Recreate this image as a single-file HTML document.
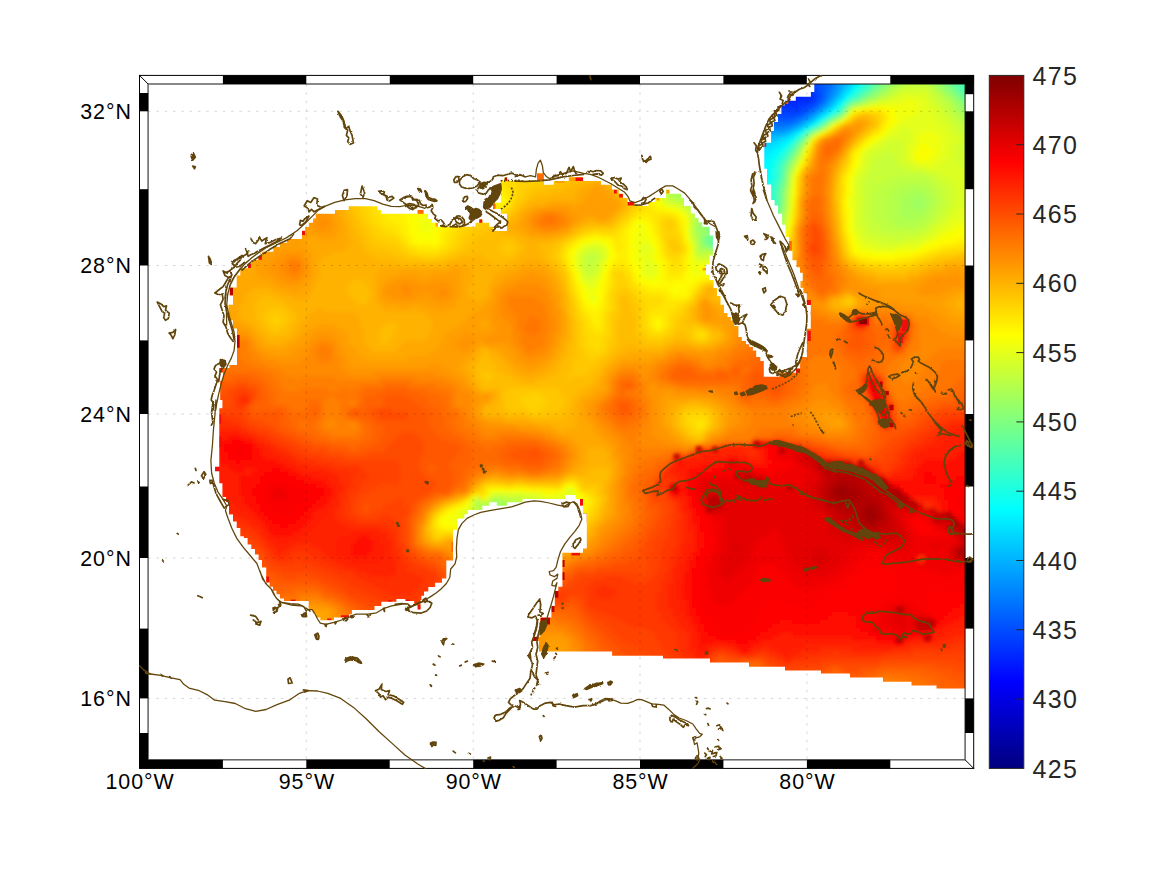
<!DOCTYPE html>
<html><head><meta charset="utf-8"><title>map</title>
<style>
html,body{margin:0;padding:0;background:#fff;}
body{width:1167px;height:875px;overflow:hidden;}
svg{display:block;}
.t{font-family:"Liberation Sans",sans-serif;font-size:21.4px;fill:#000;letter-spacing:.95px;}
.c{font-family:"Liberation Sans",sans-serif;font-size:25px;fill:#262626;letter-spacing:1.3px;}
</style></head><body>
<svg width="1167" height="875" viewBox="0 0 1167 875">
<rect width="1167" height="875" fill="#fff"/>
<defs><clipPath id="mk"><path d="M240.3 268.2 248.0 268.2 248.0 263.8 251.0 263.8 251.0 260.0 258.3 260.0 258.3 256.1 262.1 256.1 262.1 251.8 273.3 251.8 273.3 247.1 280.1 247.1 280.1 242.8 287.0 242.8 287.0 239.0 302.0 239.0 302.0 230.8 305.0 230.8 305.0 227.0 308.8 227.0 308.8 222.7 313.1 222.7 313.1 218.4 315.7 218.4 315.7 213.7 335.0 213.7 335.0 210.0 348.7 210.0 348.7 206.2 377.5 206.2 377.5 210.0 381.2 210.0 381.2 213.7 417.0 213.7 417.0 210.0 424.0 210.0 424.0 213.7 428.1 213.7 428.1 219.0 432.0 219.0 432.0 222.8 438.0 222.8 438.0 226.8 475.4 226.8 475.4 222.7 479.0 222.7 479.0 219.2 482.5 219.2 482.5 222.7 489.1 222.7 489.1 226.8 493.0 226.8 493.0 230.9 507.0 230.9 507.0 213.7 500.8 213.7 500.8 209.0 493.0 209.0 493.0 202.8 500.8 202.8 500.8 180.8 504.5 180.8 504.5 177.2 507.3 177.2 507.3 180.8 537.0 180.8 537.0 173.3 544.0 173.3 544.0 184.8 553.7 184.8 553.7 181.0 568.8 181.0 568.8 177.3 583.2 177.3 583.2 181.0 601.0 181.0 601.0 184.8 612.0 184.8 612.0 189.6 618.8 189.6 618.8 193.8 623.0 193.8 623.0 197.9 627.7 197.9 627.7 202.0 634.6 202.0 634.6 206.1 648.3 206.1 648.3 202.0 655.2 202.0 655.2 197.9 666.1 197.9 666.1 189.6 669.6 189.6 669.6 193.8 681.2 193.8 681.2 197.9 684.0 197.9 684.0 206.1 690.8 206.1 690.8 213.6 694.9 213.6 694.9 218.0 698.5 218.0 698.5 222.3 702.2 222.3 702.2 226.7 709.5 226.7 709.5 235.6 712.9 235.6 712.9 255.5 709.5 255.5 709.5 264.4 706.0 264.4 706.0 274.7 709.5 274.7 709.5 280.0 713.6 280.0 713.6 288.0 717.0 288.0 717.0 296.0 720.5 296.0 720.5 304.8 724.0 304.8 724.0 313.0 727.5 313.0 727.5 317.0 730.8 317.0 730.8 320.6 734.3 320.6 734.3 326.0 738.4 326.0 738.4 337.0 741.8 337.0 741.8 341.1 745.9 341.1 745.9 344.6 749.4 344.6 749.4 347.0 752.8 347.0 752.8 350.4 756.2 350.4 756.2 356.9 760.3 356.9 760.3 361.0 763.8 361.0 763.8 376.8 779.5 376.8 779.5 372.7 796.0 372.7 796.0 368.5 800.1 368.5 800.1 356.9 806.9 356.9 806.9 328.8 810.8 328.8 810.8 304.9 806.8 304.9 806.8 293.2 803.4 293.2 803.4 287.7 800.6 287.7 800.6 280.9 802.7 280.9 802.7 272.7 800.0 272.7 800.0 267.2 796.5 267.2 796.5 260.3 792.4 260.3 792.4 250.7 789.0 250.7 789.0 237.0 785.6 237.0 785.6 224.7 782.1 224.7 782.1 213.7 778.0 213.7 778.0 205.5 774.6 205.5 774.6 200.0 771.2 200.0 771.2 184.5 767.0 184.5 767.0 168.7 764.3 168.7 764.3 142.7 771.1 142.7 771.1 131.0 773.9 131.0 773.9 122.1 778.0 122.1 778.0 113.9 781.4 113.9 781.4 105.6 784.8 105.6 784.8 100.8 795.8 100.8 795.8 96.7 810.9 96.7 810.9 92.0 814.3 92.0 814.3 80.0 968.0 80.0 968.0 688.5 936.5 688.5 936.5 685.5 911.5 685.5 911.5 681.7 883.0 681.7 883.0 677.5 850.0 677.5 850.0 673.5 821.0 673.5 821.0 670.5 785.0 670.5 785.0 666.7 749.0 666.7 749.0 662.5 710.0 662.5 710.0 658.5 663.0 658.5 663.0 655.7 612.1 655.7 612.1 651.6 539.0 651.6 539.0 640.9 533.0 640.9 533.0 636.8 540.4 636.8 540.4 617.6 551.4 617.6 551.4 606.0 554.8 606.0 554.8 591.0 558.3 591.0 558.3 586.7 562.4 586.7 562.4 552.8 583.0 552.8 583.0 548.6 586.8 548.6 586.8 513.4 583.0 513.4 583.0 505.7 580.0 505.7 580.0 498.9 575.7 498.9 575.7 495.1 565.4 495.1 565.4 498.9 522.5 498.9 522.5 502.3 507.1 502.3 507.1 505.7 496.8 505.7 496.8 502.3 489.1 502.3 489.1 505.7 482.3 505.7 482.3 510.0 467.7 510.0 467.7 514.3 464.3 514.3 464.3 518.6 457.4 518.6 457.4 529.7 453.1 529.7 453.1 560.5 446.3 560.5 446.3 578.5 442.0 578.5 442.0 582.8 435.1 582.8 435.1 587.1 428.3 587.1 428.3 591.4 424.0 591.4 424.0 595.7 421.4 595.7 421.4 600.0 420.5 600.0 420.5 609.4 417.7 609.4 417.7 605.2 414.2 605.2 414.2 601.1 405.3 601.1 405.3 599.1 396.4 599.1 396.4 601.8 381.3 601.8 381.3 605.9 374.5 605.9 374.5 610.0 351.9 610.0 351.9 614.2 349.1 614.2 349.1 617.6 334.0 617.6 334.0 620.3 320.3 620.3 320.3 617.6 316.2 617.6 316.2 613.5 312.8 613.5 312.8 609.4 308.7 609.4 308.7 601.1 284.0 601.1 284.0 598.4 279.9 598.4 279.9 594.3 276.5 594.3 276.5 590.8 273.0 590.8 273.0 586.7 269.6 586.7 269.6 582.6 266.2 582.6 266.2 567.5 262.0 567.5 262.0 560.0 258.6 560.0 258.6 554.5 255.0 554.5 255.0 549.0 251.3 549.0 251.3 544.4 247.6 544.4 247.6 538.0 243.9 538.0 243.9 536.2 240.3 536.2 240.3 528.0 236.7 528.0 236.7 521.6 233.0 521.6 233.0 514.3 229.0 514.3 229.0 502.0 226.0 502.0 226.0 497.0 222.4 497.0 222.4 483.2 219.3 483.2 219.3 471.3 215.1 471.3 215.1 466.7 219.3 466.7 219.3 408.2 222.4 408.2 222.4 400.0 220.2 400.0 220.2 380.7 223.0 380.7 223.0 372.4 219.3 372.4 219.3 367.9 229.4 367.9 229.4 365.1 237.0 365.1 237.0 328.6 233.0 328.6 233.0 320.3 228.4 320.3 228.4 304.8 233.0 304.8 233.0 295.6 229.4 295.6 229.4 287.4 236.7 287.4 236.7 275.5 240.3 275.5Z"/></clipPath><filter id="bl" x="-5%" y="-5%" width="110%" height="110%"><feGaussianBlur stdDeviation="2.2"/></filter></defs>
<g clip-path="url(#mk)"><g filter="url(#bl)" shape-rendering="crispEdges">
<path fill="#0024ff" d="M796 84h4v4h-4zM784 88h20v4h-20zM784 92h20v4h-20zM784 96h20v4h-20zM792 100h4v4h-4z"/>
<path fill="#002eff" d="M804 80h4v4h-4zM800 84h8v4h-8zM804 88h8v4h-8zM780 92h4v4h-4zM804 92h8v4h-8zM776 96h8v4h-8zM804 96h12v4h-12zM780 100h12v4h-12zM796 100h16v4h-16zM784 104h16v4h-16z"/>
<path fill="#0038ff" d="M808 76h4v4h-4zM808 80h4v4h-4zM808 84h4v4h-4zM812 88h4v4h-4zM812 92h4v4h-4zM772 100h8v4h-8zM812 100h4v4h-4zM776 104h8v4h-8zM800 104h8v4h-8zM780 108h20v4h-20z"/>
<path fill="#0042ff" d="M812 76h4v4h-4zM812 80h4v4h-4zM812 84h4v4h-4zM816 92h4v4h-4zM816 96h4v4h-4zM768 104h8v4h-8zM808 104h4v4h-4zM772 108h8v4h-8zM800 108h4v4h-4zM780 112h20v4h-20z"/>
<path fill="#004dff" d="M816 76h4v4h-4zM816 80h4v4h-4zM816 84h4v4h-4zM816 88h4v4h-4zM816 100h4v4h-4zM812 104h4v4h-4zM768 108h4v4h-4zM804 108h4v4h-4zM772 112h8v4h-8zM800 112h4v4h-4zM776 116h16v4h-16z"/>
<path fill="#0057ff" d="M820 76h4v4h-4zM820 80h4v4h-4zM820 84h4v4h-4zM820 88h4v4h-4zM820 92h4v4h-4zM820 96h4v4h-4zM808 108h4v4h-4zM764 112h8v4h-8zM772 116h4v4h-4zM792 116h4v4h-4z"/>
<path fill="#0061ff" d="M824 76h4v4h-4zM824 80h4v4h-4zM824 84h4v4h-4zM824 88h4v4h-4zM820 100h4v4h-4zM816 104h4v4h-4zM804 112h4v4h-4zM764 116h8v4h-8zM796 116h4v4h-4zM772 120h20v4h-20z"/>
<path fill="#006bff" d="M828 76h4v4h-4zM828 80h4v4h-4zM828 84h4v4h-4zM824 92h4v4h-4zM824 96h4v4h-4zM812 108h4v4h-4zM800 116h4v4h-4zM764 120h8v4h-8zM792 120h4v4h-4zM776 124h4v4h-4z"/>
<path fill="#0075ff" d="M828 88h4v4h-4zM808 112h4v4h-4zM768 124h8v4h-8zM780 124h8v4h-8z"/>
<path fill="#0080ff" d="M832 76h4v4h-4zM832 80h4v4h-4zM832 84h4v4h-4zM828 92h4v4h-4zM824 100h4v4h-4zM820 104h4v4h-4zM816 108h4v4h-4zM804 116h4v4h-4zM796 120h4v4h-4zM760 124h8v4h-8zM788 124h4v4h-4z"/>
<path fill="#008aff" d="M836 76h4v4h-4zM836 80h4v4h-4zM832 88h4v4h-4zM828 96h4v4h-4zM812 112h4v4h-4zM800 120h4v4h-4zM792 124h4v4h-4zM768 128h16v4h-16z"/>
<path fill="#0094ff" d="M836 84h4v4h-4zM832 92h4v4h-4zM824 104h4v4h-4zM808 116h4v4h-4zM760 128h8v4h-8zM784 128h4v4h-4z"/>
<path fill="#009eff" d="M840 76h4v4h-4zM840 80h4v4h-4zM836 88h4v4h-4zM832 96h4v4h-4zM828 100h4v4h-4zM820 108h4v4h-4zM796 124h4v4h-4zM788 128h4v4h-4z"/>
<path fill="#00a8ff" d="M840 84h4v4h-4zM836 92h4v4h-4zM816 112h4v4h-4zM804 120h4v4h-4zM760 132h24v4h-24z"/>
<path fill="#00b2ff" d="M844 76h4v4h-4zM844 80h4v4h-4zM840 88h4v4h-4zM828 104h4v4h-4zM812 116h4v4h-4zM800 124h4v4h-4zM792 128h4v4h-4zM784 132h4v4h-4zM760 136h4v4h-4z"/>
<path fill="#00bdff" d="M848 76h4v4h-4zM844 84h4v4h-4zM836 96h4v4h-4zM832 100h4v4h-4zM824 108h4v4h-4zM808 120h4v4h-4zM764 136h12v4h-12z"/>
<path fill="#00c7ff" d="M848 80h4v4h-4zM840 92h4v4h-4zM820 112h4v4h-4zM796 128h4v4h-4zM788 132h4v4h-4zM776 136h4v4h-4zM756 140h12v4h-12zM752 144h4v4h-4z"/>
<path fill="#00d1ff" d="M852 76h4v4h-4zM848 84h4v4h-4zM844 88h4v4h-4zM832 104h4v4h-4zM816 116h4v4h-4zM804 124h4v4h-4zM780 136h4v4h-4zM768 140h8v4h-8zM756 144h8v4h-8zM752 148h4v4h-4z"/>
<path fill="#00dbff" d="M852 80h4v4h-4zM840 96h4v4h-4zM836 100h4v4h-4zM828 108h4v4h-4zM812 120h4v4h-4zM792 132h4v4h-4zM784 136h4v4h-4zM776 140h4v4h-4zM764 144h8v4h-8zM756 148h8v4h-8zM752 152h4v4h-4z"/>
<path fill="#00e5ff" d="M856 76h4v4h-4zM848 88h4v4h-4zM844 92h4v4h-4zM824 112h4v4h-4zM800 128h4v4h-4zM788 136h4v4h-4zM780 140h4v4h-4zM772 144h8v4h-8zM764 148h8v4h-8zM756 152h8v4h-8zM752 156h8v4h-8zM752 160h4v4h-4z"/>
<path fill="#00f0ff" d="M852 84h4v4h-4zM820 116h4v4h-4zM808 124h4v4h-4zM784 140h4v4h-4zM772 148h4v4h-4zM764 152h8v4h-8zM760 156h8v4h-8zM756 160h8v4h-8zM752 164h12v4h-12zM756 168h4v4h-4z"/>
<path fill="#00faff" d="M860 76h4v4h-4zM856 80h4v4h-4zM848 92h4v4h-4zM844 96h4v4h-4zM840 100h4v4h-4zM836 104h4v4h-4zM832 108h4v4h-4zM816 120h4v4h-4zM796 132h4v4h-4zM780 144h4v4h-4zM776 148h4v4h-4zM772 152h4v4h-4zM768 156h4v4h-4zM764 160h4v4h-4zM764 164h4v4h-4zM760 168h8v4h-8zM756 172h12v4h-12zM756 176h8v4h-8zM756 180h4v4h-4z"/>
<path fill="#05fffa" d="M856 84h4v4h-4zM852 88h4v4h-4zM828 112h4v4h-4zM792 136h4v4h-4zM788 140h4v4h-4zM784 144h4v4h-4zM780 148h4v4h-4zM776 152h4v4h-4zM772 156h4v4h-4zM768 160h4v4h-4zM768 164h4v4h-4zM768 168h4v4h-4zM768 172h4v4h-4zM764 176h8v4h-8zM760 180h8v4h-8zM760 184h4v4h-4z"/>
<path fill="#0ffff0" d="M864 76h4v4h-4zM860 80h4v4h-4zM812 124h4v4h-4zM804 128h4v4h-4zM776 156h4v4h-4zM772 160h4v4h-4zM772 164h4v4h-4zM768 180h4v4h-4zM764 184h4v4h-4zM760 188h4v4h-4z"/>
<path fill="#1affe5" d="M860 84h4v4h-4zM856 88h4v4h-4zM852 92h4v4h-4zM836 108h4v4h-4zM824 116h4v4h-4zM800 132h4v4h-4zM784 148h4v4h-4zM780 152h4v4h-4zM772 168h4v4h-4zM772 172h4v4h-4zM772 176h4v4h-4zM768 184h4v4h-4zM764 188h4v4h-4zM760 192h8v4h-8zM760 196h4v4h-4z"/>
<path fill="#24ffdb" d="M868 76h4v4h-4zM864 80h4v4h-4zM848 96h4v4h-4zM844 100h4v4h-4zM840 104h4v4h-4zM796 136h4v4h-4zM792 140h4v4h-4zM788 144h4v4h-4zM780 156h4v4h-4zM776 160h4v4h-4zM772 180h4v4h-4zM768 188h4v4h-4zM768 192h4v4h-4zM764 196h8v4h-8zM764 200h4v4h-4z"/>
<path fill="#2effd1" d="M864 84h4v4h-4zM860 88h4v4h-4zM856 92h4v4h-4zM832 112h4v4h-4zM820 120h4v4h-4zM784 152h4v4h-4zM776 164h4v4h-4zM776 168h4v4h-4zM776 172h4v4h-4zM776 176h4v4h-4zM772 184h4v4h-4zM768 200h4v4h-4zM764 204h4v4h-4z"/>
<path fill="#38ffc7" d="M872 76h4v4h-4zM868 80h4v4h-4zM852 96h4v4h-4zM816 124h4v4h-4zM808 128h4v4h-4zM788 148h4v4h-4zM780 160h4v4h-4zM772 188h4v4h-4zM772 192h4v4h-4zM772 196h4v4h-4zM772 200h4v4h-4zM768 204h4v4h-4zM764 208h4v4h-4z"/>
<path fill="#42ffbd" d="M964 76h12v4h-12zM964 80h12v4h-12zM868 84h4v4h-4zM964 84h4v4h-4zM864 88h4v4h-4zM840 108h4v4h-4zM828 116h4v4h-4zM792 144h4v4h-4zM784 156h4v4h-4zM780 164h4v4h-4zM776 180h4v4h-4zM772 204h4v4h-4zM768 208h4v4h-4z"/>
<path fill="#4dffb2" d="M876 76h4v4h-4zM956 76h8v4h-8zM872 80h4v4h-4zM960 80h4v4h-4zM960 84h4v4h-4zM968 84h8v4h-8zM964 88h8v4h-8zM860 92h4v4h-4zM856 96h4v4h-4zM848 100h4v4h-4zM836 112h4v4h-4zM804 132h4v4h-4zM800 136h4v4h-4zM796 140h4v4h-4zM788 152h4v4h-4zM780 168h4v4h-4zM780 172h4v4h-4zM776 184h4v4h-4zM776 188h4v4h-4zM772 208h4v4h-4zM768 212h4v4h-4z"/>
<path fill="#57ffa8" d="M956 80h4v4h-4zM956 84h4v4h-4zM868 88h4v4h-4zM960 88h4v4h-4zM972 88h4v4h-4zM844 104h4v4h-4zM824 120h4v4h-4zM784 160h4v4h-4zM780 176h4v4h-4zM776 192h4v4h-4zM776 196h4v4h-4zM776 200h4v4h-4z"/>
<path fill="#61ff9e" d="M880 76h4v4h-4zM952 76h4v4h-4zM876 80h4v4h-4zM952 80h4v4h-4zM872 84h4v4h-4zM956 88h4v4h-4zM864 92h4v4h-4zM960 92h16v4h-16zM812 128h4v4h-4zM792 148h4v4h-4zM780 180h4v4h-4zM776 204h4v4h-4zM772 212h4v4h-4z"/>
<path fill="#6bff94" d="M884 76h4v4h-4zM948 76h4v4h-4zM880 80h4v4h-4zM876 84h4v4h-4zM952 84h4v4h-4zM860 96h4v4h-4zM964 96h12v4h-12zM852 100h4v4h-4zM840 112h4v4h-4zM832 116h4v4h-4zM820 124h4v4h-4zM796 144h4v4h-4zM788 156h4v4h-4zM784 164h4v4h-4zM780 184h4v4h-4zM776 208h4v4h-4zM772 216h4v4h-4zM716 228h4v4h-4zM716 232h4v4h-4zM708 236h12v4h-12zM708 240h8v4h-8zM708 244h4v4h-4z"/>
<path fill="#75ff8a" d="M888 76h4v4h-4zM944 76h4v4h-4zM948 80h4v4h-4zM948 84h4v4h-4zM872 88h4v4h-4zM952 88h4v4h-4zM868 92h4v4h-4zM956 92h4v4h-4zM960 96h4v4h-4zM968 100h8v4h-8zM800 140h4v4h-4zM792 152h4v4h-4zM784 168h4v4h-4zM780 188h4v4h-4zM780 192h4v4h-4zM780 196h4v4h-4zM776 212h4v4h-4zM772 220h4v4h-4zM712 224h4v4h-4zM712 228h4v4h-4zM712 232h4v4h-4zM704 236h4v4h-4zM720 236h4v4h-4zM704 240h4v4h-4zM716 240h4v4h-4zM712 244h4v4h-4z"/>
<path fill="#80ff80" d="M940 76h4v4h-4zM884 80h4v4h-4zM944 80h4v4h-4zM880 84h4v4h-4zM876 88h4v4h-4zM864 96h4v4h-4zM856 100h4v4h-4zM964 100h4v4h-4zM968 104h8v4h-8zM844 108h4v4h-4zM808 132h4v4h-4zM804 136h4v4h-4zM788 160h4v4h-4zM784 172h4v4h-4zM784 176h4v4h-4zM780 200h4v4h-4zM780 204h4v4h-4zM704 212h4v4h-4zM776 216h4v4h-4zM708 220h4v4h-4zM708 224h4v4h-4zM708 228h4v4h-4zM708 232h4v4h-4zM720 240h4v4h-4zM716 244h4v4h-4z"/>
<path fill="#8aff75" d="M892 76h4v4h-4zM936 76h4v4h-4zM888 80h4v4h-4zM940 80h4v4h-4zM944 84h4v4h-4zM948 88h4v4h-4zM872 92h4v4h-4zM952 92h4v4h-4zM956 96h4v4h-4zM960 100h4v4h-4zM848 104h4v4h-4zM964 104h4v4h-4zM972 108h4v4h-4zM828 120h4v4h-4zM816 128h4v4h-4zM796 148h4v4h-4zM792 156h4v4h-4zM676 180h4v4h-4zM784 180h4v4h-4zM680 184h4v4h-4zM684 188h4v4h-4zM688 192h4v4h-4zM700 208h4v4h-4zM780 208h4v4h-4zM704 216h4v4h-4zM704 220h4v4h-4zM776 220h4v4h-4zM704 224h4v4h-4zM772 224h4v4h-4zM704 244h4v4h-4zM720 244h4v4h-4z"/>
<path fill="#94ff6b" d="M896 76h4v4h-4zM932 76h4v4h-4zM892 80h4v4h-4zM936 80h4v4h-4zM884 84h4v4h-4zM940 84h4v4h-4zM880 88h4v4h-4zM944 88h4v4h-4zM876 92h4v4h-4zM948 92h4v4h-4zM868 96h4v4h-4zM952 96h4v4h-4zM860 100h4v4h-4zM956 100h4v4h-4zM960 104h4v4h-4zM964 108h8v4h-8zM972 112h4v4h-4zM836 116h4v4h-4zM824 124h4v4h-4zM788 164h4v4h-4zM672 180h4v4h-4zM676 184h4v4h-4zM784 184h4v4h-4zM680 188h4v4h-4zM684 192h4v4h-4zM692 196h4v4h-4zM696 204h4v4h-4zM700 212h4v4h-4zM780 212h4v4h-4zM700 216h4v4h-4zM700 220h4v4h-4zM700 224h4v4h-4zM776 224h4v4h-4zM704 228h4v4h-4zM700 236h4v4h-4zM700 240h4v4h-4zM712 248h8v4h-8zM492 504h4v4h-4z"/>
<path fill="#9eff61" d="M900 76h8v4h-8zM928 76h4v4h-4zM896 80h4v4h-4zM932 80h4v4h-4zM888 84h4v4h-4zM884 88h4v4h-4zM940 88h4v4h-4zM944 92h4v4h-4zM872 96h4v4h-4zM956 104h4v4h-4zM960 108h4v4h-4zM964 112h8v4h-8zM972 116h4v4h-4zM800 144h4v4h-4zM796 152h4v4h-4zM788 168h4v4h-4zM668 180h4v4h-4zM672 184h4v4h-4zM676 188h4v4h-4zM784 188h4v4h-4zM680 192h4v4h-4zM688 196h4v4h-4zM916 196h4v4h-4zM692 200h4v4h-4zM912 200h12v4h-12zM912 204h12v4h-12zM696 208h4v4h-4zM780 216h4v4h-4zM780 220h4v4h-4zM696 224h4v4h-4zM696 228h8v4h-8zM772 228h4v4h-4zM700 232h8v4h-8zM700 244h4v4h-4zM720 248h4v4h-4zM476 500h4v4h-4zM492 500h8v4h-8zM488 504h4v4h-4zM496 504h8v4h-8zM488 508h16v4h-16zM488 512h16v4h-16z"/>
<path fill="#a8ff57" d="M908 76h20v4h-20zM900 80h4v4h-4zM928 80h4v4h-4zM892 84h4v4h-4zM936 84h4v4h-4zM880 92h4v4h-4zM948 96h4v4h-4zM864 100h4v4h-4zM952 100h4v4h-4zM852 104h4v4h-4zM956 108h4v4h-4zM960 112h4v4h-4zM964 116h8v4h-8zM968 120h8v4h-8zM804 140h4v4h-4zM792 160h4v4h-4zM668 184h4v4h-4zM672 188h4v4h-4zM912 188h8v4h-8zM672 192h8v4h-8zM784 192h4v4h-4zM904 192h24v4h-24zM684 196h4v4h-4zM784 196h4v4h-4zM900 196h16v4h-16zM920 196h8v4h-8zM688 200h4v4h-4zM784 200h4v4h-4zM900 200h12v4h-12zM924 200h8v4h-8zM692 204h4v4h-4zM784 204h4v4h-4zM900 204h12v4h-12zM924 204h4v4h-4zM900 208h28v4h-28zM696 212h4v4h-4zM900 212h24v4h-24zM696 216h4v4h-4zM904 216h12v4h-12zM696 220h4v4h-4zM780 224h4v4h-4zM776 228h4v4h-4zM696 232h4v4h-4zM696 236h4v4h-4zM700 248h4v4h-4zM708 248h4v4h-4zM500 500h4v4h-4zM504 504h8v4h-8zM484 508h4v4h-4zM504 508h8v4h-8zM484 512h4v4h-4zM504 512h8v4h-8z"/>
<path fill="#b3ff4c" d="M904 80h8v4h-8zM920 80h8v4h-8zM896 84h4v4h-4zM932 84h4v4h-4zM888 88h4v4h-4zM936 88h4v4h-4zM884 92h4v4h-4zM940 92h4v4h-4zM876 96h4v4h-4zM944 96h4v4h-4zM948 100h4v4h-4zM952 104h4v4h-4zM952 108h4v4h-4zM844 112h4v4h-4zM956 112h4v4h-4zM960 116h4v4h-4zM964 120h4v4h-4zM968 124h8v4h-8zM820 128h4v4h-4zM972 128h4v4h-4zM812 132h4v4h-4zM800 148h4v4h-4zM788 172h4v4h-4zM664 184h4v4h-4zM900 184h28v4h-28zM668 188h4v4h-4zM892 188h20v4h-20zM920 188h12v4h-12zM668 192h4v4h-4zM892 192h12v4h-12zM928 192h4v4h-4zM672 196h12v4h-12zM888 196h12v4h-12zM928 196h8v4h-8zM684 200h4v4h-4zM888 200h12v4h-12zM932 200h4v4h-4zM688 204h4v4h-4zM888 204h12v4h-12zM928 204h8v4h-8zM692 208h4v4h-4zM784 208h4v4h-4zM888 208h12v4h-12zM928 208h4v4h-4zM888 212h12v4h-12zM924 212h8v4h-8zM888 216h16v4h-16zM916 216h12v4h-12zM892 220h32v4h-32zM896 224h20v4h-20zM692 228h4v4h-4zM772 232h4v4h-4zM696 240h4v4h-4zM696 244h4v4h-4zM700 252h4v4h-4zM712 252h12v4h-12zM488 500h4v4h-4zM504 500h12v4h-12zM476 504h12v4h-12zM512 504h8v4h-8zM480 508h4v4h-4zM512 508h12v4h-12zM480 512h4v4h-4zM512 512h8v4h-8zM480 516h8v4h-8z"/>
<path fill="#bdff42" d="M912 80h8v4h-8zM900 84h4v4h-4zM928 84h4v4h-4zM892 88h4v4h-4zM932 88h4v4h-4zM888 92h4v4h-4zM936 92h4v4h-4zM880 96h4v4h-4zM940 96h4v4h-4zM868 100h4v4h-4zM944 100h4v4h-4zM856 104h4v4h-4zM948 104h4v4h-4zM948 108h4v4h-4zM952 112h4v4h-4zM840 116h4v4h-4zM956 116h4v4h-4zM832 120h4v4h-4zM960 120h4v4h-4zM964 124h4v4h-4zM964 128h8v4h-8zM968 132h8v4h-8zM808 136h4v4h-4zM972 136h4v4h-4zM972 140h4v4h-4zM796 156h4v4h-4zM792 164h4v4h-4zM788 176h4v4h-4zM892 176h36v4h-36zM788 180h4v4h-4zM884 180h48v4h-48zM660 184h4v4h-4zM876 184h24v4h-24zM928 184h8v4h-8zM664 188h4v4h-4zM876 188h16v4h-16zM932 188h8v4h-8zM872 192h20v4h-20zM932 192h8v4h-8zM668 196h4v4h-4zM872 196h16v4h-16zM936 196h4v4h-4zM680 200h4v4h-4zM872 200h16v4h-16zM936 200h8v4h-8zM872 204h16v4h-16zM936 204h4v4h-4zM872 208h16v4h-16zM932 208h8v4h-8zM692 212h4v4h-4zM784 212h4v4h-4zM872 212h16v4h-16zM932 212h4v4h-4zM692 216h4v4h-4zM872 216h16v4h-16zM928 216h8v4h-8zM692 220h4v4h-4zM876 220h16v4h-16zM924 220h8v4h-8zM692 224h4v4h-4zM880 224h16v4h-16zM916 224h12v4h-12zM884 228h36v4h-36zM692 232h4v4h-4zM776 232h4v4h-4zM696 248h4v4h-4zM704 248h4v4h-4zM588 256h8v4h-8zM588 260h4v4h-4zM492 496h12v4h-12zM516 500h8v4h-8zM520 504h8v4h-8zM476 508h4v4h-4zM524 508h8v4h-8zM476 512h4v4h-4zM520 512h4v4h-4zM476 516h4v4h-4zM480 520h4v4h-4z"/>
<path fill="#c7ff38" d="M904 84h24v4h-24zM896 88h8v4h-8zM928 88h4v4h-4zM892 92h4v4h-4zM932 92h4v4h-4zM884 96h4v4h-4zM936 96h4v4h-4zM872 100h4v4h-4zM936 100h8v4h-8zM940 104h8v4h-8zM848 108h4v4h-4zM944 108h4v4h-4zM948 112h4v4h-4zM952 116h4v4h-4zM952 120h8v4h-8zM956 124h8v4h-8zM960 128h4v4h-4zM964 132h4v4h-4zM964 136h8v4h-8zM964 140h8v4h-8zM964 144h12v4h-12zM964 148h12v4h-12zM884 152h8v4h-8zM968 152h8v4h-8zM876 156h20v4h-20zM972 156h4v4h-4zM876 160h20v4h-20zM872 164h28v4h-28zM872 168h36v4h-36zM868 172h60v4h-60zM868 176h24v4h-24zM928 176h8v4h-8zM864 180h20v4h-20zM932 180h8v4h-8zM788 184h4v4h-4zM864 184h12v4h-12zM936 184h8v4h-8zM660 188h4v4h-4zM864 188h12v4h-12zM940 188h8v4h-8zM664 192h4v4h-4zM864 192h8v4h-8zM940 192h8v4h-8zM864 196h8v4h-8zM940 196h8v4h-8zM672 200h8v4h-8zM864 200h8v4h-8zM944 200h4v4h-4zM684 204h4v4h-4zM864 204h8v4h-8zM940 204h8v4h-8zM688 208h4v4h-4zM864 208h8v4h-8zM940 208h4v4h-4zM864 212h8v4h-8zM936 212h8v4h-8zM784 216h4v4h-4zM864 216h8v4h-8zM936 216h4v4h-4zM784 220h4v4h-4zM868 220h8v4h-8zM932 220h4v4h-4zM868 224h12v4h-12zM928 224h4v4h-4zM780 228h4v4h-4zM868 228h16v4h-16zM920 228h8v4h-8zM876 232h44v4h-44zM692 236h4v4h-4zM892 236h16v4h-16zM588 252h8v4h-8zM696 252h4v4h-4zM704 252h8v4h-8zM584 256h4v4h-4zM596 256h4v4h-4zM712 256h8v4h-8zM584 260h4v4h-4zM592 260h4v4h-4zM584 264h12v4h-12zM584 268h12v4h-12zM588 272h4v4h-4zM504 496h20v4h-20zM472 500h4v4h-4zM480 500h8v4h-8zM524 500h8v4h-8zM528 504h8v4h-8zM472 508h4v4h-4zM532 508h8v4h-8zM472 512h4v4h-4zM472 516h4v4h-4zM476 520h4v4h-4z"/>
<path fill="#d1ff2e" d="M904 88h24v4h-24zM896 92h4v4h-4zM928 92h4v4h-4zM888 96h4v4h-4zM928 96h8v4h-8zM876 100h4v4h-4zM932 100h4v4h-4zM860 104h4v4h-4zM936 104h4v4h-4zM940 108h4v4h-4zM940 112h8v4h-8zM944 116h8v4h-8zM948 120h4v4h-4zM828 124h4v4h-4zM952 124h4v4h-4zM952 128h8v4h-8zM956 132h8v4h-8zM960 136h4v4h-4zM888 140h16v4h-16zM960 140h4v4h-4zM804 144h4v4h-4zM884 144h20v4h-20zM956 144h8v4h-8zM876 148h28v4h-28zM956 148h8v4h-8zM800 152h4v4h-4zM872 152h12v4h-12zM892 152h12v4h-12zM956 152h12v4h-12zM868 156h8v4h-8zM896 156h8v4h-8zM956 156h16v4h-16zM796 160h4v4h-4zM868 160h8v4h-8zM896 160h8v4h-8zM956 160h20v4h-20zM868 164h4v4h-4zM900 164h12v4h-12zM960 164h16v4h-16zM792 168h4v4h-4zM864 168h8v4h-8zM908 168h16v4h-16zM968 168h8v4h-8zM864 172h4v4h-4zM928 172h12v4h-12zM972 172h4v4h-4zM860 176h8v4h-8zM936 176h12v4h-12zM860 180h4v4h-4zM940 180h12v4h-12zM656 184h4v4h-4zM860 184h4v4h-4zM944 184h12v4h-12zM788 188h4v4h-4zM860 188h4v4h-4zM948 188h8v4h-8zM660 192h4v4h-4zM788 192h4v4h-4zM860 192h4v4h-4zM948 192h8v4h-8zM664 196h4v4h-4zM860 196h4v4h-4zM948 196h8v4h-8zM668 200h4v4h-4zM860 200h4v4h-4zM948 200h8v4h-8zM680 204h4v4h-4zM860 204h4v4h-4zM948 204h8v4h-8zM860 208h4v4h-4zM944 208h8v4h-8zM688 212h4v4h-4zM860 212h4v4h-4zM944 212h4v4h-4zM860 216h4v4h-4zM940 216h8v4h-8zM860 220h8v4h-8zM936 220h8v4h-8zM784 224h4v4h-4zM860 224h8v4h-8zM932 224h4v4h-4zM864 228h4v4h-4zM928 228h4v4h-4zM864 232h12v4h-12zM920 232h8v4h-8zM776 236h4v4h-4zM868 236h24v4h-24zM908 236h12v4h-12zM692 240h4v4h-4zM880 240h24v4h-24zM588 248h12v4h-12zM584 252h4v4h-4zM596 252h8v4h-8zM580 256h4v4h-4zM600 256h4v4h-4zM700 256h12v4h-12zM580 260h4v4h-4zM596 260h4v4h-4zM716 260h4v4h-4zM580 264h4v4h-4zM596 264h4v4h-4zM584 272h4v4h-4zM592 272h4v4h-4zM588 276h4v4h-4zM488 496h4v4h-4zM524 496h12v4h-12zM532 500h12v4h-12zM472 504h4v4h-4zM536 504h12v4h-12zM540 508h8v4h-8zM468 512h4v4h-4zM468 516h4v4h-4zM472 520h4v4h-4z"/>
<path fill="#dbff24" d="M900 92h28v4h-28zM892 96h8v4h-8zM924 96h4v4h-4zM880 100h8v4h-8zM928 100h4v4h-4zM864 104h4v4h-4zM928 104h8v4h-8zM932 108h8v4h-8zM932 112h8v4h-8zM936 116h8v4h-8zM836 120h4v4h-4zM936 120h12v4h-12zM940 124h12v4h-12zM900 128h12v4h-12zM944 128h8v4h-8zM816 132h4v4h-4zM896 132h16v4h-16zM948 132h8v4h-8zM888 136h24v4h-24zM948 136h12v4h-12zM880 140h8v4h-8zM904 140h8v4h-8zM952 140h8v4h-8zM876 144h8v4h-8zM904 144h4v4h-4zM948 144h8v4h-8zM868 148h8v4h-8zM904 148h4v4h-4zM948 148h8v4h-8zM864 152h8v4h-8zM904 152h4v4h-4zM948 152h8v4h-8zM864 156h4v4h-4zM904 156h4v4h-4zM944 156h12v4h-12zM864 160h4v4h-4zM904 160h8v4h-8zM944 160h12v4h-12zM864 164h4v4h-4zM912 164h8v4h-8zM936 164h24v4h-24zM860 168h4v4h-4zM924 168h44v4h-44zM860 172h4v4h-4zM940 172h32v4h-32zM856 176h4v4h-4zM948 176h28v4h-28zM856 180h4v4h-4zM952 180h24v4h-24zM856 184h4v4h-4zM956 184h20v4h-20zM656 188h4v4h-4zM856 188h4v4h-4zM956 188h20v4h-20zM856 192h4v4h-4zM956 192h20v4h-20zM660 196h4v4h-4zM788 196h4v4h-4zM856 196h4v4h-4zM956 196h16v4h-16zM664 200h4v4h-4zM788 200h4v4h-4zM856 200h4v4h-4zM956 200h12v4h-12zM676 204h4v4h-4zM788 204h4v4h-4zM856 204h4v4h-4zM956 204h8v4h-8zM684 208h4v4h-4zM856 208h4v4h-4zM952 208h8v4h-8zM856 212h4v4h-4zM948 212h8v4h-8zM688 216h4v4h-4zM856 216h4v4h-4zM948 216h4v4h-4zM688 220h4v4h-4zM856 220h4v4h-4zM944 220h4v4h-4zM688 224h4v4h-4zM856 224h4v4h-4zM936 224h8v4h-8zM688 228h4v4h-4zM856 228h8v4h-8zM932 228h8v4h-8zM688 232h4v4h-4zM780 232h4v4h-4zM860 232h4v4h-4zM928 232h8v4h-8zM860 236h8v4h-8zM920 236h8v4h-8zM864 240h16v4h-16zM904 240h16v4h-16zM592 244h8v4h-8zM692 244h4v4h-4zM876 244h24v4h-24zM584 248h4v4h-4zM600 248h4v4h-4zM692 248h4v4h-4zM580 252h4v4h-4zM692 252h4v4h-4zM696 256h4v4h-4zM600 260h4v4h-4zM712 260h4v4h-4zM580 268h4v4h-4zM596 268h4v4h-4zM580 272h4v4h-4zM596 272h4v4h-4zM584 276h4v4h-4zM592 276h4v4h-4zM588 280h4v4h-4zM568 488h4v4h-4zM492 492h32v4h-32zM568 492h4v4h-4zM476 496h4v4h-4zM536 496h8v4h-8zM564 496h4v4h-4zM544 500h20v4h-20zM548 504h12v4h-12zM468 508h4v4h-4zM548 508h8v4h-8zM464 512h4v4h-4zM464 516h4v4h-4zM468 520h4v4h-4z"/>
<path fill="#e5ff1a" d="M900 96h24v4h-24zM888 100h16v4h-16zM916 100h12v4h-12zM868 104h4v4h-4zM916 104h12v4h-12zM920 108h12v4h-12zM916 112h16v4h-16zM908 116h28v4h-28zM900 120h36v4h-36zM896 124h44v4h-44zM824 128h4v4h-4zM892 128h8v4h-8zM912 128h32v4h-32zM888 132h8v4h-8zM912 132h8v4h-8zM936 132h12v4h-12zM884 136h4v4h-4zM912 136h4v4h-4zM940 136h8v4h-8zM876 140h4v4h-4zM912 140h4v4h-4zM940 140h12v4h-12zM872 144h4v4h-4zM908 144h8v4h-8zM940 144h8v4h-8zM864 148h4v4h-4zM908 148h4v4h-4zM940 148h8v4h-8zM908 152h4v4h-4zM940 152h8v4h-8zM800 156h4v4h-4zM860 156h4v4h-4zM908 156h4v4h-4zM936 156h8v4h-8zM860 160h4v4h-4zM912 160h4v4h-4zM932 160h12v4h-12zM796 164h4v4h-4zM860 164h4v4h-4zM920 164h16v4h-16zM856 168h4v4h-4zM792 172h4v4h-4zM856 172h4v4h-4zM852 176h4v4h-4zM852 180h4v4h-4zM852 184h4v4h-4zM652 188h4v4h-4zM852 188h4v4h-4zM656 192h4v4h-4zM852 192h4v4h-4zM852 196h4v4h-4zM972 196h4v4h-4zM852 200h4v4h-4zM968 200h8v4h-8zM668 204h8v4h-8zM852 204h4v4h-4zM964 204h12v4h-12zM680 208h4v4h-4zM788 208h4v4h-4zM852 208h4v4h-4zM960 208h16v4h-16zM684 212h4v4h-4zM788 212h4v4h-4zM852 212h4v4h-4zM956 212h12v4h-12zM852 216h4v4h-4zM952 216h12v4h-12zM852 220h4v4h-4zM948 220h12v4h-12zM852 224h4v4h-4zM944 224h8v4h-8zM784 228h4v4h-4zM852 228h4v4h-4zM940 228h8v4h-8zM856 232h4v4h-4zM936 232h4v4h-4zM688 236h4v4h-4zM780 236h4v4h-4zM856 236h4v4h-4zM928 236h8v4h-8zM776 240h4v4h-4zM860 240h4v4h-4zM920 240h8v4h-8zM584 244h8v4h-8zM600 244h4v4h-4zM640 244h12v4h-12zM864 244h12v4h-12zM900 244h20v4h-20zM580 248h4v4h-4zM604 248h4v4h-4zM640 248h12v4h-12zM872 248h24v4h-24zM576 252h4v4h-4zM604 252h4v4h-4zM640 252h8v4h-8zM576 256h4v4h-4zM604 256h4v4h-4zM644 256h4v4h-4zM692 256h4v4h-4zM576 260h4v4h-4zM644 260h8v4h-8zM696 260h16v4h-16zM576 264h4v4h-4zM600 264h4v4h-4zM644 264h12v4h-12zM712 264h8v4h-8zM600 268h4v4h-4zM644 268h12v4h-12zM644 272h12v4h-12zM704 272h4v4h-4zM580 276h4v4h-4zM596 276h4v4h-4zM584 280h4v4h-4zM592 280h4v4h-4zM588 284h8v4h-8zM592 296h4v4h-4zM524 492h16v4h-16zM564 492h4v4h-4zM572 492h4v4h-4zM472 496h4v4h-4zM544 496h20v4h-20zM568 496h8v4h-8zM564 500h8v4h-8zM468 504h4v4h-4zM560 504h12v4h-12zM464 508h4v4h-4zM556 508h8v4h-8zM460 512h4v4h-4zM460 516h4v4h-4zM460 520h8v4h-8zM464 524h4v4h-4z"/>
<path fill="#f0ff0f" d="M904 100h12v4h-12zM872 104h44v4h-44zM852 108h4v4h-4zM896 108h24v4h-24zM848 112h4v4h-4zM896 112h20v4h-20zM844 116h4v4h-4zM896 116h12v4h-12zM896 120h4v4h-4zM892 124h4v4h-4zM888 128h4v4h-4zM884 132h4v4h-4zM920 132h16v4h-16zM880 136h4v4h-4zM916 136h24v4h-24zM808 140h4v4h-4zM872 140h4v4h-4zM916 140h24v4h-24zM868 144h4v4h-4zM916 144h4v4h-4zM928 144h12v4h-12zM804 148h4v4h-4zM912 148h8v4h-8zM932 148h8v4h-8zM860 152h4v4h-4zM912 152h4v4h-4zM932 152h8v4h-8zM912 156h4v4h-4zM928 156h8v4h-8zM916 160h16v4h-16zM856 164h4v4h-4zM852 172h4v4h-4zM792 176h4v4h-4zM652 192h4v4h-4zM656 196h4v4h-4zM848 196h4v4h-4zM660 200h4v4h-4zM848 200h4v4h-4zM664 204h4v4h-4zM848 204h4v4h-4zM676 208h4v4h-4zM968 212h8v4h-8zM424 216h4v4h-4zM788 216h4v4h-4zM964 216h12v4h-12zM420 220h12v4h-12zM960 220h12v4h-12zM420 224h12v4h-12zM636 224h8v4h-8zM952 224h12v4h-12zM420 228h12v4h-12zM640 228h4v4h-4zM948 228h8v4h-8zM636 232h8v4h-8zM852 232h4v4h-4zM940 232h8v4h-8zM636 236h12v4h-12zM936 236h4v4h-4zM592 240h8v4h-8zM636 240h16v4h-16zM688 240h4v4h-4zM856 240h4v4h-4zM928 240h4v4h-4zM580 244h4v4h-4zM604 244h4v4h-4zM632 244h8v4h-8zM776 244h4v4h-4zM856 244h8v4h-8zM920 244h4v4h-4zM576 248h4v4h-4zM636 248h4v4h-4zM652 248h4v4h-4zM860 248h12v4h-12zM896 248h20v4h-20zM636 252h4v4h-4zM648 252h8v4h-8zM572 256h4v4h-4zM636 256h8v4h-8zM648 256h8v4h-8zM604 260h4v4h-4zM636 260h8v4h-8zM652 260h4v4h-4zM692 260h4v4h-4zM640 264h4v4h-4zM656 264h4v4h-4zM692 264h8v4h-8zM708 264h4v4h-4zM576 268h4v4h-4zM640 268h4v4h-4zM656 268h4v4h-4zM692 268h8v4h-8zM708 268h12v4h-12zM600 272h4v4h-4zM640 272h4v4h-4zM656 272h4v4h-4zM692 272h8v4h-8zM708 272h4v4h-4zM644 276h12v4h-12zM580 280h4v4h-4zM596 280h4v4h-4zM584 284h4v4h-4zM596 284h4v4h-4zM584 288h12v4h-12zM588 292h8v4h-8zM588 296h4v4h-4zM592 300h4v4h-4zM564 488h4v4h-4zM572 488h4v4h-4zM488 492h4v4h-4zM540 492h4v4h-4zM556 492h8v4h-8zM468 500h4v4h-4zM572 500h4v4h-4zM572 504h4v4h-4zM456 508h8v4h-8zM456 512h4v4h-4zM452 516h8v4h-8zM452 520h8v4h-8zM460 524h4v4h-4z"/>
<path fill="#faff05" d="M856 108h4v4h-4zM888 108h8v4h-8zM892 112h4v4h-4zM892 116h4v4h-4zM892 120h4v4h-4zM888 124h4v4h-4zM884 128h4v4h-4zM880 132h4v4h-4zM812 136h4v4h-4zM876 136h4v4h-4zM868 140h4v4h-4zM864 144h4v4h-4zM920 144h8v4h-8zM860 148h4v4h-4zM920 148h12v4h-12zM916 152h16v4h-16zM856 156h4v4h-4zM916 156h12v4h-12zM800 160h4v4h-4zM856 160h4v4h-4zM796 168h4v4h-4zM852 168h4v4h-4zM848 176h4v4h-4zM792 180h4v4h-4zM848 180h4v4h-4zM792 184h4v4h-4zM848 184h4v4h-4zM792 188h4v4h-4zM848 188h4v4h-4zM648 192h4v4h-4zM848 192h4v4h-4zM652 196h4v4h-4zM412 200h16v4h-16zM656 200h4v4h-4zM412 204h20v4h-20zM660 204h4v4h-4zM412 208h24v4h-24zM672 208h4v4h-4zM848 208h4v4h-4zM412 212h28v4h-28zM680 212h4v4h-4zM848 212h4v4h-4zM412 216h12v4h-12zM428 216h12v4h-12zM684 216h4v4h-4zM848 216h4v4h-4zM412 220h8v4h-8zM432 220h8v4h-8zM636 220h8v4h-8zM788 220h4v4h-4zM848 220h4v4h-4zM972 220h4v4h-4zM412 224h8v4h-8zM432 224h8v4h-8zM644 224h4v4h-4zM684 224h4v4h-4zM848 224h4v4h-4zM964 224h12v4h-12zM416 228h4v4h-4zM432 228h4v4h-4zM632 228h8v4h-8zM644 228h4v4h-4zM684 228h4v4h-4zM848 228h4v4h-4zM956 228h16v4h-16zM416 232h20v4h-20zM632 232h4v4h-4zM644 232h8v4h-8zM684 232h4v4h-4zM784 232h4v4h-4zM948 232h16v4h-16zM416 236h20v4h-20zM632 236h4v4h-4zM648 236h4v4h-4zM852 236h4v4h-4zM940 236h12v4h-12zM584 240h8v4h-8zM600 240h8v4h-8zM632 240h4v4h-4zM652 240h4v4h-4zM780 240h4v4h-4zM852 240h4v4h-4zM932 240h8v4h-8zM576 244h4v4h-4zM608 244h4v4h-4zM652 244h4v4h-4zM924 244h8v4h-8zM572 248h4v4h-4zM608 248h4v4h-4zM632 248h4v4h-4zM776 248h4v4h-4zM856 248h4v4h-4zM916 248h4v4h-4zM572 252h4v4h-4zM608 252h4v4h-4zM632 252h4v4h-4zM688 252h4v4h-4zM864 252h44v4h-44zM608 256h4v4h-4zM632 256h4v4h-4zM656 256h4v4h-4zM688 256h4v4h-4zM572 260h4v4h-4zM608 260h4v4h-4zM632 260h4v4h-4zM656 260h4v4h-4zM688 260h4v4h-4zM572 264h4v4h-4zM604 264h4v4h-4zM636 264h4v4h-4zM688 264h4v4h-4zM700 264h8v4h-8zM604 268h4v4h-4zM636 268h4v4h-4zM688 268h4v4h-4zM576 272h4v4h-4zM636 272h4v4h-4zM660 272h4v4h-4zM688 272h4v4h-4zM700 272h4v4h-4zM712 272h4v4h-4zM576 276h4v4h-4zM600 276h4v4h-4zM640 276h4v4h-4zM656 276h4v4h-4zM688 276h12v4h-12zM600 280h4v4h-4zM644 280h16v4h-16zM580 284h4v4h-4zM596 288h4v4h-4zM672 288h8v4h-8zM584 292h4v4h-4zM596 292h4v4h-4zM584 296h4v4h-4zM596 296h4v4h-4zM588 300h4v4h-4zM596 300h4v4h-4zM568 484h4v4h-4zM492 488h12v4h-12zM516 488h4v4h-4zM544 492h12v4h-12zM576 492h4v4h-4zM484 496h4v4h-4zM576 496h4v4h-4zM576 500h4v4h-4zM464 504h4v4h-4zM576 504h4v4h-4zM572 508h4v4h-4zM448 512h8v4h-8zM444 516h8v4h-8zM440 520h12v4h-12zM452 524h8v4h-8z"/>
<path fill="#fffa00" d="M860 108h4v4h-4zM884 108h4v4h-4zM888 112h4v4h-4zM888 116h4v4h-4zM840 120h4v4h-4zM888 120h4v4h-4zM832 124h4v4h-4zM820 132h4v4h-4zM872 136h4v4h-4zM804 152h4v4h-4zM856 152h4v4h-4zM852 160h4v4h-4zM852 164h4v4h-4zM848 172h4v4h-4zM792 192h4v4h-4zM496 196h8v4h-8zM648 196h4v4h-4zM792 196h4v4h-4zM844 196h4v4h-4zM396 200h16v4h-16zM500 200h4v4h-4zM652 200h4v4h-4zM844 200h4v4h-4zM396 204h16v4h-16zM656 204h4v4h-4zM844 204h4v4h-4zM400 208h12v4h-12zM664 208h8v4h-8zM844 208h4v4h-4zM404 212h8v4h-8zM676 212h4v4h-4zM404 216h8v4h-8zM440 216h8v4h-8zM680 216h4v4h-4zM408 220h4v4h-4zM440 220h4v4h-4zM632 220h4v4h-4zM644 220h4v4h-4zM684 220h4v4h-4zM408 224h4v4h-4zM440 224h4v4h-4zM632 224h4v4h-4zM648 224h4v4h-4zM788 224h4v4h-4zM408 228h8v4h-8zM436 228h8v4h-8zM628 228h4v4h-4zM648 228h4v4h-4zM972 228h4v4h-4zM408 232h8v4h-8zM436 232h4v4h-4zM628 232h4v4h-4zM848 232h4v4h-4zM964 232h12v4h-12zM412 236h4v4h-4zM436 236h4v4h-4zM592 236h8v4h-8zM628 236h4v4h-4zM652 236h4v4h-4zM684 236h4v4h-4zM784 236h4v4h-4zM848 236h4v4h-4zM952 236h16v4h-16zM412 240h28v4h-28zM580 240h4v4h-4zM608 240h4v4h-4zM628 240h4v4h-4zM940 240h16v4h-16zM432 244h4v4h-4zM628 244h4v4h-4zM656 244h4v4h-4zM688 244h4v4h-4zM780 244h4v4h-4zM852 244h4v4h-4zM932 244h8v4h-8zM612 248h4v4h-4zM628 248h4v4h-4zM656 248h4v4h-4zM688 248h4v4h-4zM852 248h4v4h-4zM920 248h8v4h-8zM568 252h4v4h-4zM612 252h4v4h-4zM628 252h4v4h-4zM656 252h4v4h-4zM856 252h8v4h-8zM908 252h8v4h-8zM568 256h4v4h-4zM612 256h4v4h-4zM628 256h4v4h-4zM872 256h24v4h-24zM628 260h4v4h-4zM660 260h4v4h-4zM608 264h4v4h-4zM632 264h4v4h-4zM660 264h4v4h-4zM572 268h4v4h-4zM632 268h4v4h-4zM660 268h4v4h-4zM700 268h8v4h-8zM604 272h4v4h-4zM684 272h4v4h-4zM716 272h4v4h-4zM604 276h4v4h-4zM636 276h4v4h-4zM660 276h4v4h-4zM684 276h4v4h-4zM700 276h12v4h-12zM576 280h4v4h-4zM640 280h4v4h-4zM660 280h8v4h-8zM672 280h24v4h-24zM600 284h4v4h-4zM648 284h44v4h-44zM580 288h4v4h-4zM600 288h4v4h-4zM668 288h4v4h-4zM680 288h8v4h-8zM580 292h4v4h-4zM600 292h4v4h-4zM672 292h16v4h-16zM600 296h4v4h-4zM584 300h4v4h-4zM588 304h12v4h-12zM592 308h4v4h-4zM656 320h4v4h-4zM656 324h4v4h-4zM564 484h4v4h-4zM572 484h4v4h-4zM488 488h4v4h-4zM504 488h12v4h-12zM520 488h12v4h-12zM536 488h4v4h-4zM560 488h4v4h-4zM580 496h4v4h-4zM580 500h4v4h-4zM460 504h4v4h-4zM580 504h4v4h-4zM452 508h4v4h-4zM576 508h4v4h-4zM444 512h4v4h-4zM576 512h4v4h-4zM440 516h4v4h-4zM440 524h12v4h-12zM456 528h8v4h-8z"/>
<path fill="#fff000" d="M864 108h20v4h-20zM884 112h4v4h-4zM884 120h4v4h-4zM884 124h4v4h-4zM828 128h4v4h-4zM880 128h4v4h-4zM876 132h4v4h-4zM868 136h4v4h-4zM864 140h4v4h-4zM808 144h4v4h-4zM860 144h4v4h-4zM856 148h4v4h-4zM852 152h4v4h-4zM852 156h4v4h-4zM504 164h4v4h-4zM800 164h4v4h-4zM500 168h8v4h-8zM848 168h4v4h-4zM496 172h4v4h-4zM796 172h4v4h-4zM492 176h8v4h-8zM844 176h4v4h-4zM488 180h12v4h-12zM844 180h4v4h-4zM488 184h12v4h-12zM844 184h4v4h-4zM488 188h16v4h-16zM844 188h4v4h-4zM488 192h16v4h-16zM844 192h4v4h-4zM488 196h8v4h-8zM504 196h4v4h-4zM644 196h4v4h-4zM384 200h12v4h-12zM484 200h16v4h-16zM504 200h4v4h-4zM648 200h4v4h-4zM792 200h4v4h-4zM384 204h12v4h-12zM496 204h8v4h-8zM648 204h8v4h-8zM792 204h4v4h-4zM384 208h16v4h-16zM652 208h12v4h-12zM384 212h20v4h-20zM644 212h4v4h-4zM672 212h4v4h-4zM844 212h4v4h-4zM388 216h16v4h-16zM448 216h8v4h-8zM636 216h16v4h-16zM844 216h4v4h-4zM392 220h16v4h-16zM444 220h8v4h-8zM648 220h4v4h-4zM680 220h4v4h-4zM844 220h4v4h-4zM400 224h8v4h-8zM444 224h8v4h-8zM628 224h4v4h-4zM652 224h4v4h-4zM680 224h4v4h-4zM844 224h4v4h-4zM400 228h8v4h-8zM444 228h4v4h-4zM624 228h4v4h-4zM652 228h4v4h-4zM788 228h4v4h-4zM844 228h4v4h-4zM404 232h4v4h-4zM440 232h4v4h-4zM624 232h4v4h-4zM652 232h4v4h-4zM408 236h4v4h-4zM440 236h4v4h-4zM584 236h8v4h-8zM600 236h12v4h-12zM620 236h8v4h-8zM656 236h4v4h-4zM968 236h8v4h-8zM408 240h4v4h-4zM440 240h4v4h-4zM576 240h4v4h-4zM612 240h4v4h-4zM620 240h8v4h-8zM656 240h4v4h-4zM684 240h4v4h-4zM784 240h4v4h-4zM848 240h4v4h-4zM956 240h12v4h-12zM416 244h16v4h-16zM436 244h4v4h-4zM572 244h4v4h-4zM612 244h4v4h-4zM624 244h4v4h-4zM848 244h4v4h-4zM940 244h12v4h-12zM568 248h4v4h-4zM620 248h8v4h-8zM780 248h4v4h-4zM928 248h8v4h-8zM616 252h12v4h-12zM660 252h4v4h-4zM852 252h4v4h-4zM916 252h8v4h-8zM616 256h12v4h-12zM660 256h4v4h-4zM684 256h4v4h-4zM860 256h12v4h-12zM896 256h16v4h-16zM568 260h4v4h-4zM612 260h8v4h-8zM624 260h4v4h-4zM664 260h4v4h-4zM684 260h4v4h-4zM568 264h4v4h-4zM628 264h4v4h-4zM664 264h4v4h-4zM684 264h4v4h-4zM608 268h4v4h-4zM664 268h4v4h-4zM684 268h4v4h-4zM572 272h4v4h-4zM632 272h4v4h-4zM664 272h4v4h-4zM680 272h4v4h-4zM572 276h4v4h-4zM632 276h4v4h-4zM664 276h20v4h-20zM712 276h8v4h-8zM604 280h4v4h-4zM636 280h4v4h-4zM668 280h4v4h-4zM696 280h4v4h-4zM576 284h4v4h-4zM604 284h4v4h-4zM640 284h8v4h-8zM692 284h4v4h-4zM576 288h4v4h-4zM604 288h4v4h-4zM648 288h20v4h-20zM688 288h4v4h-4zM664 292h8v4h-8zM688 292h4v4h-4zM580 296h4v4h-4zM668 296h20v4h-20zM580 300h4v4h-4zM600 300h4v4h-4zM584 304h4v4h-4zM600 304h4v4h-4zM584 308h8v4h-8zM596 308h8v4h-8zM588 312h12v4h-12zM592 316h8v4h-8zM652 316h12v4h-12zM592 320h8v4h-8zM652 320h4v4h-4zM660 320h4v4h-4zM596 324h4v4h-4zM652 324h4v4h-4zM660 324h4v4h-4zM656 328h4v4h-4zM532 488h4v4h-4zM540 488h20v4h-20zM576 488h4v4h-4zM484 492h4v4h-4zM580 492h4v4h-4zM584 496h4v4h-4zM464 500h4v4h-4zM584 500h8v4h-8zM456 504h4v4h-4zM584 504h4v4h-4zM448 508h4v4h-4zM580 508h8v4h-8zM580 512h4v4h-4zM576 516h4v4h-4zM436 520h4v4h-4zM436 524h4v4h-4zM444 528h12v4h-12zM460 532h4v4h-4z"/>
<path fill="#ffe500" d="M852 112h4v4h-4zM848 116h4v4h-4zM884 116h4v4h-4zM880 124h4v4h-4zM872 132h4v4h-4zM804 156h4v4h-4zM536 160h8v4h-8zM532 164h8v4h-8zM848 164h4v4h-4zM508 168h16v4h-16zM500 172h16v4h-16zM844 172h4v4h-4zM500 176h8v4h-8zM500 180h4v4h-4zM500 184h4v4h-4zM504 188h4v4h-4zM504 192h8v4h-8zM372 196h4v4h-4zM508 196h4v4h-4zM640 196h4v4h-4zM372 200h12v4h-12zM508 200h4v4h-4zM644 200h4v4h-4zM840 200h4v4h-4zM372 204h12v4h-12zM480 204h16v4h-16zM504 204h4v4h-4zM644 204h4v4h-4zM376 208h8v4h-8zM480 208h20v4h-20zM644 208h8v4h-8zM792 208h4v4h-4zM376 212h8v4h-8zM636 212h8v4h-8zM648 212h24v4h-24zM792 212h4v4h-4zM380 216h8v4h-8zM456 216h8v4h-8zM632 216h4v4h-4zM652 216h8v4h-8zM676 216h4v4h-4zM380 220h12v4h-12zM452 220h8v4h-8zM628 220h4v4h-4zM652 220h8v4h-8zM676 220h4v4h-4zM384 224h16v4h-16zM452 224h4v4h-4zM624 224h4v4h-4zM656 224h4v4h-4zM392 228h8v4h-8zM448 228h8v4h-8zM620 228h4v4h-4zM656 228h4v4h-4zM680 228h4v4h-4zM396 232h8v4h-8zM444 232h8v4h-8zM592 232h8v4h-8zM616 232h8v4h-8zM656 232h4v4h-4zM680 232h4v4h-4zM788 232h4v4h-4zM844 232h4v4h-4zM400 236h8v4h-8zM444 236h8v4h-8zM580 236h4v4h-4zM612 236h8v4h-8zM404 240h4v4h-4zM444 240h4v4h-4zM572 240h4v4h-4zM616 240h4v4h-4zM660 240h4v4h-4zM968 240h8v4h-8zM408 244h8v4h-8zM440 244h8v4h-8zM568 244h4v4h-4zM616 244h8v4h-8zM660 244h4v4h-4zM684 244h4v4h-4zM784 244h4v4h-4zM952 244h20v4h-20zM416 248h24v4h-24zM564 248h4v4h-4zM616 248h4v4h-4zM660 248h4v4h-4zM684 248h4v4h-4zM784 248h4v4h-4zM848 248h4v4h-4zM936 248h8v4h-8zM564 252h4v4h-4zM684 252h4v4h-4zM780 252h4v4h-4zM924 252h8v4h-8zM564 256h4v4h-4zM664 256h4v4h-4zM680 256h4v4h-4zM856 256h4v4h-4zM912 256h8v4h-8zM564 260h4v4h-4zM620 260h4v4h-4zM668 260h4v4h-4zM680 260h4v4h-4zM868 260h36v4h-36zM612 264h16v4h-16zM668 264h4v4h-4zM676 264h8v4h-8zM568 268h4v4h-4zM624 268h8v4h-8zM668 268h16v4h-16zM608 272h4v4h-4zM628 272h4v4h-4zM668 272h12v4h-12zM608 276h4v4h-4zM572 280h4v4h-4zM608 280h4v4h-4zM632 280h4v4h-4zM700 280h4v4h-4zM572 284h4v4h-4zM608 284h4v4h-4zM636 284h4v4h-4zM696 284h4v4h-4zM640 288h8v4h-8zM692 288h4v4h-4zM576 292h4v4h-4zM604 292h4v4h-4zM644 292h20v4h-20zM576 296h4v4h-4zM604 296h4v4h-4zM664 296h4v4h-4zM688 296h4v4h-4zM604 300h4v4h-4zM664 300h20v4h-20zM580 304h4v4h-4zM604 304h4v4h-4zM660 304h16v4h-16zM580 308h4v4h-4zM604 308h4v4h-4zM652 308h20v4h-20zM584 312h4v4h-4zM600 312h4v4h-4zM648 312h20v4h-20zM584 316h8v4h-8zM600 316h4v4h-4zM648 316h4v4h-4zM664 316h4v4h-4zM588 320h4v4h-4zM600 320h4v4h-4zM648 320h4v4h-4zM664 320h4v4h-4zM588 324h8v4h-8zM600 324h4v4h-4zM648 324h4v4h-4zM664 324h4v4h-4zM592 328h12v4h-12zM652 328h4v4h-4zM660 328h4v4h-4zM596 332h4v4h-4zM700 332h4v4h-4zM696 420h8v4h-8zM696 424h8v4h-8zM484 488h4v4h-4zM476 492h4v4h-4zM584 492h4v4h-4zM468 496h4v4h-4zM480 496h4v4h-4zM588 496h4v4h-4zM452 504h4v4h-4zM588 504h4v4h-4zM444 508h4v4h-4zM440 512h4v4h-4zM584 512h4v4h-4zM436 516h4v4h-4zM580 516h4v4h-4zM576 520h4v4h-4zM436 528h8v4h-8zM456 532h4v4h-4z"/>
<path fill="#ffdb00" d="M880 112h4v4h-4zM880 116h4v4h-4zM880 120h4v4h-4zM836 124h4v4h-4zM876 128h4v4h-4zM816 136h4v4h-4zM864 136h4v4h-4zM860 140h4v4h-4zM856 144h4v4h-4zM808 148h4v4h-4zM852 148h4v4h-4zM848 156h4v4h-4zM804 160h4v4h-4zM848 160h4v4h-4zM540 164h8v4h-8zM568 164h16v4h-16zM524 168h28v4h-28zM844 168h4v4h-4zM516 172h24v4h-24zM508 176h20v4h-20zM616 176h4v4h-4zM796 176h4v4h-4zM840 176h4v4h-4zM504 180h16v4h-16zM796 180h4v4h-4zM840 180h4v4h-4zM504 184h12v4h-12zM840 184h4v4h-4zM508 188h8v4h-8zM840 188h4v4h-4zM512 192h4v4h-4zM632 192h4v4h-4zM840 192h4v4h-4zM364 196h8v4h-8zM512 196h4v4h-4zM636 196h4v4h-4zM840 196h4v4h-4zM364 200h8v4h-8zM640 200h4v4h-4zM364 204h8v4h-8zM508 204h4v4h-4zM640 204h4v4h-4zM840 204h4v4h-4zM368 208h8v4h-8zM500 208h8v4h-8zM636 208h8v4h-8zM840 208h4v4h-4zM368 212h8v4h-8zM476 212h24v4h-24zM632 212h4v4h-4zM840 212h4v4h-4zM372 216h8v4h-8zM464 216h20v4h-20zM628 216h4v4h-4zM660 216h16v4h-16zM792 216h4v4h-4zM840 216h4v4h-4zM372 220h8v4h-8zM460 220h12v4h-12zM624 220h4v4h-4zM792 220h4v4h-4zM376 224h8v4h-8zM456 224h8v4h-8zM620 224h4v4h-4zM676 224h4v4h-4zM380 228h12v4h-12zM456 228h4v4h-4zM616 228h4v4h-4zM660 228h4v4h-4zM676 228h4v4h-4zM384 232h12v4h-12zM452 232h8v4h-8zM584 232h8v4h-8zM600 232h16v4h-16zM660 232h4v4h-4zM676 232h4v4h-4zM396 236h4v4h-4zM452 236h4v4h-4zM576 236h4v4h-4zM660 236h4v4h-4zM680 236h4v4h-4zM788 236h4v4h-4zM844 236h4v4h-4zM400 240h4v4h-4zM448 240h8v4h-8zM568 240h4v4h-4zM680 240h4v4h-4zM844 240h4v4h-4zM404 244h4v4h-4zM448 244h8v4h-8zM564 244h4v4h-4zM664 244h4v4h-4zM972 244h4v4h-4zM408 248h8v4h-8zM440 248h8v4h-8zM664 248h4v4h-4zM944 248h32v4h-32zM416 252h24v4h-24zM560 252h4v4h-4zM664 252h4v4h-4zM680 252h4v4h-4zM784 252h4v4h-4zM848 252h4v4h-4zM932 252h8v4h-8zM560 256h4v4h-4zM668 256h12v4h-12zM780 256h4v4h-4zM852 256h4v4h-4zM920 256h8v4h-8zM672 260h8v4h-8zM860 260h8v4h-8zM904 260h12v4h-12zM564 264h4v4h-4zM672 264h4v4h-4zM884 264h12v4h-12zM612 268h12v4h-12zM568 272h4v4h-4zM624 272h4v4h-4zM568 276h4v4h-4zM612 276h4v4h-4zM624 276h8v4h-8zM612 280h4v4h-4zM628 280h4v4h-4zM704 280h20v4h-20zM612 284h4v4h-4zM628 284h8v4h-8zM572 288h4v4h-4zM608 288h4v4h-4zM632 288h8v4h-8zM696 288h4v4h-4zM572 292h4v4h-4zM608 292h4v4h-4zM636 292h8v4h-8zM692 292h4v4h-4zM608 296h4v4h-4zM640 296h24v4h-24zM576 300h4v4h-4zM608 300h4v4h-4zM644 300h20v4h-20zM684 300h4v4h-4zM576 304h4v4h-4zM608 304h4v4h-4zM644 304h16v4h-16zM676 304h8v4h-8zM608 308h4v4h-4zM644 308h8v4h-8zM672 308h8v4h-8zM580 312h4v4h-4zM604 312h4v4h-4zM644 312h4v4h-4zM668 312h8v4h-8zM580 316h4v4h-4zM604 316h4v4h-4zM644 316h4v4h-4zM668 316h4v4h-4zM584 320h4v4h-4zM604 320h4v4h-4zM644 320h4v4h-4zM668 320h4v4h-4zM584 324h4v4h-4zM604 324h4v4h-4zM644 324h4v4h-4zM668 324h4v4h-4zM584 328h8v4h-8zM604 328h4v4h-4zM648 328h4v4h-4zM664 328h4v4h-4zM584 332h12v4h-12zM600 332h8v4h-8zM648 332h16v4h-16zM696 332h4v4h-4zM704 332h4v4h-4zM588 336h16v4h-16zM696 336h8v4h-8zM588 340h16v4h-16zM588 344h16v4h-16zM592 348h8v4h-8zM696 412h4v4h-4zM688 416h20v4h-20zM688 420h8v4h-8zM704 420h4v4h-4zM692 424h4v4h-4zM704 424h4v4h-4zM696 428h8v4h-8zM568 480h8v4h-8zM484 484h20v4h-20zM512 484h16v4h-16zM560 484h4v4h-4zM576 484h4v4h-4zM472 492h4v4h-4zM480 492h4v4h-4zM588 492h4v4h-4zM592 496h4v4h-4zM460 500h4v4h-4zM592 500h4v4h-4zM592 504h4v4h-4zM588 508h4v4h-4zM436 512h4v4h-4zM588 512h4v4h-4zM584 516h4v4h-4zM432 520h4v4h-4zM580 520h4v4h-4zM432 524h4v4h-4zM576 524h4v4h-4zM436 532h8v4h-8zM452 532h4v4h-4zM460 536h4v4h-4z"/>
<path fill="#ffd100" d="M856 112h4v4h-4zM872 112h8v4h-8zM876 116h4v4h-4zM844 120h4v4h-4zM876 124h4v4h-4zM872 128h4v4h-4zM824 132h4v4h-4zM868 132h4v4h-4zM812 140h4v4h-4zM808 152h4v4h-4zM848 152h4v4h-4zM844 164h4v4h-4zM552 168h48v4h-48zM800 168h4v4h-4zM540 172h24v4h-24zM604 172h8v4h-8zM840 172h4v4h-4zM528 176h24v4h-24zM612 176h4v4h-4zM520 180h20v4h-20zM620 180h4v4h-4zM516 184h16v4h-16zM624 184h4v4h-4zM796 184h4v4h-4zM516 188h8v4h-8zM628 188h4v4h-4zM796 188h4v4h-4zM516 192h8v4h-8zM628 192h4v4h-4zM796 192h4v4h-4zM356 196h8v4h-8zM516 196h4v4h-4zM632 196h4v4h-4zM356 200h8v4h-8zM512 200h4v4h-4zM632 200h8v4h-8zM360 204h4v4h-4zM512 204h4v4h-4zM636 204h4v4h-4zM360 208h8v4h-8zM508 208h4v4h-4zM632 208h4v4h-4zM360 212h8v4h-8zM500 212h8v4h-8zM628 212h4v4h-4zM364 216h8v4h-8zM484 216h16v4h-16zM624 216h4v4h-4zM364 220h8v4h-8zM472 220h16v4h-16zM620 220h4v4h-4zM660 220h8v4h-8zM672 220h4v4h-4zM840 220h4v4h-4zM368 224h8v4h-8zM464 224h16v4h-16zM616 224h4v4h-4zM660 224h8v4h-8zM672 224h4v4h-4zM840 224h4v4h-4zM372 228h8v4h-8zM460 228h12v4h-12zM592 228h24v4h-24zM664 228h12v4h-12zM840 228h4v4h-4zM372 232h12v4h-12zM460 232h8v4h-8zM580 232h4v4h-4zM664 232h12v4h-12zM376 236h20v4h-20zM456 236h8v4h-8zM572 236h4v4h-4zM664 236h16v4h-16zM384 240h16v4h-16zM456 240h8v4h-8zM564 240h4v4h-4zM664 240h4v4h-4zM676 240h4v4h-4zM788 240h4v4h-4zM396 244h8v4h-8zM456 244h4v4h-4zM560 244h4v4h-4zM680 244h4v4h-4zM788 244h4v4h-4zM844 244h4v4h-4zM400 248h8v4h-8zM448 248h8v4h-8zM560 248h4v4h-4zM668 248h4v4h-4zM680 248h4v4h-4zM788 248h4v4h-4zM844 248h4v4h-4zM408 252h8v4h-8zM440 252h8v4h-8zM556 252h4v4h-4zM668 252h12v4h-12zM940 252h16v4h-16zM968 252h8v4h-8zM424 256h12v4h-12zM784 256h4v4h-4zM848 256h4v4h-4zM928 256h8v4h-8zM560 260h4v4h-4zM856 260h4v4h-4zM916 260h8v4h-8zM864 264h20v4h-20zM896 264h16v4h-16zM564 268h4v4h-4zM612 272h12v4h-12zM616 276h8v4h-8zM568 280h4v4h-4zM616 280h12v4h-12zM568 284h4v4h-4zM616 284h12v4h-12zM700 284h4v4h-4zM720 284h4v4h-4zM568 288h4v4h-4zM612 288h8v4h-8zM628 288h4v4h-4zM724 288h4v4h-4zM612 292h4v4h-4zM632 292h4v4h-4zM572 296h4v4h-4zM612 296h4v4h-4zM636 296h4v4h-4zM692 296h4v4h-4zM572 300h4v4h-4zM612 300h4v4h-4zM636 300h8v4h-8zM688 300h4v4h-4zM848 300h4v4h-4zM612 304h4v4h-4zM640 304h4v4h-4zM684 304h4v4h-4zM576 308h4v4h-4zM612 308h4v4h-4zM640 308h4v4h-4zM680 308h4v4h-4zM576 312h4v4h-4zM608 312h4v4h-4zM640 312h4v4h-4zM676 312h8v4h-8zM272 316h8v4h-8zM576 316h4v4h-4zM608 316h4v4h-4zM640 316h4v4h-4zM672 316h8v4h-8zM272 320h8v4h-8zM580 320h4v4h-4zM608 320h4v4h-4zM640 320h4v4h-4zM672 320h4v4h-4zM580 324h4v4h-4zM608 324h4v4h-4zM640 324h4v4h-4zM672 324h4v4h-4zM580 328h4v4h-4zM608 328h4v4h-4zM640 328h8v4h-8zM668 328h4v4h-4zM692 328h12v4h-12zM580 332h4v4h-4zM608 332h4v4h-4zM644 332h4v4h-4zM664 332h8v4h-8zM692 332h4v4h-4zM580 336h8v4h-8zM604 336h8v4h-8zM648 336h16v4h-16zM692 336h4v4h-4zM704 336h4v4h-4zM580 340h8v4h-8zM604 340h4v4h-4zM580 344h8v4h-8zM604 344h4v4h-4zM584 348h8v4h-8zM600 348h8v4h-8zM584 352h20v4h-20zM588 356h8v4h-8zM528 392h12v4h-12zM520 396h24v4h-24zM520 400h28v4h-28zM524 404h20v4h-20zM528 408h12v4h-12zM684 412h12v4h-12zM700 412h8v4h-8zM684 416h4v4h-4zM684 420h4v4h-4zM708 420h4v4h-4zM684 424h8v4h-8zM688 428h8v4h-8zM692 432h8v4h-8zM564 480h4v4h-4zM576 480h4v4h-4zM504 484h8v4h-8zM528 484h28v4h-28zM480 488h4v4h-4zM580 488h16v4h-16zM592 492h4v4h-4zM596 496h4v4h-4zM596 500h4v4h-4zM448 504h4v4h-4zM596 504h4v4h-4zM440 508h4v4h-4zM592 508h4v4h-4zM592 512h4v4h-4zM432 516h4v4h-4zM588 516h4v4h-4zM584 520h4v4h-4zM580 524h4v4h-4zM432 528h4v4h-4zM576 528h4v4h-4zM432 532h4v4h-4zM444 532h8v4h-8zM436 536h4v4h-4zM456 536h4v4h-4z"/>
<path fill="#ffc700" d="M860 112h4v4h-4zM868 112h4v4h-4zM852 116h4v4h-4zM872 116h4v4h-4zM876 120h4v4h-4zM832 128h4v4h-4zM868 128h4v4h-4zM864 132h4v4h-4zM860 136h4v4h-4zM856 140h4v4h-4zM852 144h4v4h-4zM844 160h4v4h-4zM804 164h4v4h-4zM840 168h4v4h-4zM564 172h40v4h-40zM552 176h20v4h-20zM608 176h4v4h-4zM540 180h24v4h-24zM612 180h8v4h-8zM836 180h4v4h-4zM532 184h20v4h-20zM616 184h8v4h-8zM836 184h4v4h-4zM524 188h16v4h-16zM624 188h4v4h-4zM836 188h4v4h-4zM524 192h8v4h-8zM624 192h4v4h-4zM836 192h4v4h-4zM348 196h8v4h-8zM520 196h8v4h-8zM628 196h4v4h-4zM796 196h4v4h-4zM836 196h4v4h-4zM348 200h8v4h-8zM516 200h8v4h-8zM628 200h4v4h-4zM836 200h4v4h-4zM352 204h8v4h-8zM516 204h4v4h-4zM628 204h8v4h-8zM836 204h4v4h-4zM352 208h8v4h-8zM512 208h4v4h-4zM628 208h4v4h-4zM836 208h4v4h-4zM356 212h4v4h-4zM508 212h4v4h-4zM624 212h4v4h-4zM356 216h8v4h-8zM500 216h8v4h-8zM620 216h4v4h-4zM360 220h4v4h-4zM488 220h12v4h-12zM616 220h4v4h-4zM668 220h4v4h-4zM360 224h8v4h-8zM480 224h16v4h-16zM612 224h4v4h-4zM668 224h4v4h-4zM792 224h4v4h-4zM364 228h8v4h-8zM472 228h16v4h-16zM580 228h12v4h-12zM364 232h8v4h-8zM468 232h16v4h-16zM576 232h4v4h-4zM840 232h4v4h-4zM368 236h8v4h-8zM464 236h12v4h-12zM568 236h4v4h-4zM840 236h4v4h-4zM368 240h16v4h-16zM464 240h8v4h-8zM504 240h8v4h-8zM560 240h4v4h-4zM668 240h8v4h-8zM372 244h24v4h-24zM460 244h8v4h-8zM500 244h16v4h-16zM556 244h4v4h-4zM668 244h12v4h-12zM384 248h16v4h-16zM456 248h8v4h-8zM500 248h16v4h-16zM552 248h8v4h-8zM672 248h8v4h-8zM392 252h16v4h-16zM448 252h8v4h-8zM504 252h8v4h-8zM552 252h4v4h-4zM788 252h4v4h-4zM844 252h4v4h-4zM956 252h12v4h-12zM404 256h20v4h-20zM436 256h12v4h-12zM552 256h8v4h-8zM936 256h16v4h-16zM968 256h8v4h-8zM556 260h4v4h-4zM784 260h4v4h-4zM852 260h4v4h-4zM924 260h8v4h-8zM560 264h4v4h-4zM860 264h4v4h-4zM912 264h8v4h-8zM560 268h4v4h-4zM872 268h36v4h-36zM564 272h4v4h-4zM564 276h4v4h-4zM564 280h4v4h-4zM704 284h4v4h-4zM716 284h4v4h-4zM620 288h8v4h-8zM700 288h4v4h-4zM720 288h4v4h-4zM568 292h4v4h-4zM616 292h16v4h-16zM696 292h4v4h-4zM720 292h8v4h-8zM568 296h4v4h-4zM616 296h4v4h-4zM628 296h8v4h-8zM848 296h4v4h-4zM616 300h4v4h-4zM628 300h8v4h-8zM692 300h4v4h-4zM844 300h4v4h-4zM572 304h4v4h-4zM616 304h4v4h-4zM632 304h8v4h-8zM688 304h4v4h-4zM268 308h16v4h-16zM572 308h4v4h-4zM616 308h4v4h-4zM632 308h8v4h-8zM684 308h4v4h-4zM264 312h24v4h-24zM572 312h4v4h-4zM612 312h8v4h-8zM632 312h8v4h-8zM684 312h4v4h-4zM264 316h8v4h-8zM280 316h8v4h-8zM572 316h4v4h-4zM612 316h8v4h-8zM636 316h4v4h-4zM680 316h8v4h-8zM264 320h8v4h-8zM280 320h8v4h-8zM576 320h4v4h-4zM612 320h4v4h-4zM636 320h4v4h-4zM676 320h8v4h-8zM268 324h16v4h-16zM576 324h4v4h-4zM612 324h4v4h-4zM636 324h4v4h-4zM676 324h12v4h-12zM692 324h8v4h-8zM272 328h8v4h-8zM576 328h4v4h-4zM612 328h4v4h-4zM636 328h4v4h-4zM672 328h20v4h-20zM704 328h4v4h-4zM576 332h4v4h-4zM612 332h4v4h-4zM636 332h8v4h-8zM672 332h4v4h-4zM684 332h8v4h-8zM708 332h4v4h-4zM576 336h4v4h-4zM612 336h4v4h-4zM640 336h8v4h-8zM664 336h8v4h-8zM688 336h4v4h-4zM708 336h4v4h-4zM576 340h4v4h-4zM608 340h8v4h-8zM644 340h20v4h-20zM696 340h12v4h-12zM576 344h4v4h-4zM608 344h8v4h-8zM576 348h8v4h-8zM608 348h4v4h-4zM576 352h8v4h-8zM604 352h4v4h-4zM576 356h12v4h-12zM596 356h8v4h-8zM572 360h28v4h-28zM572 364h24v4h-24zM572 368h20v4h-20zM480 372h12v4h-12zM568 372h20v4h-20zM484 376h8v4h-8zM568 376h4v4h-4zM508 388h52v4h-52zM504 392h24v4h-24zM540 392h20v4h-20zM504 396h16v4h-16zM544 396h20v4h-20zM504 400h16v4h-16zM548 400h16v4h-16zM504 404h20v4h-20zM544 404h20v4h-20zM508 408h20v4h-20zM540 408h20v4h-20zM684 408h24v4h-24zM528 412h20v4h-20zM680 412h4v4h-4zM708 412h4v4h-4zM680 416h4v4h-4zM708 416h4v4h-4zM680 420h4v4h-4zM680 424h4v4h-4zM708 424h4v4h-4zM684 428h4v4h-4zM704 428h4v4h-4zM688 432h4v4h-4zM700 432h4v4h-4zM696 436h8v4h-8zM568 476h8v4h-8zM492 480h4v4h-4zM560 480h4v4h-4zM580 480h4v4h-4zM480 484h4v4h-4zM556 484h4v4h-4zM580 484h20v4h-20zM476 488h4v4h-4zM596 488h4v4h-4zM596 492h4v4h-4zM464 496h4v4h-4zM600 496h4v4h-4zM456 500h4v4h-4zM600 500h4v4h-4zM444 504h4v4h-4zM596 508h4v4h-4zM596 512h4v4h-4zM592 516h4v4h-4zM588 520h4v4h-4zM428 524h4v4h-4zM584 524h4v4h-4zM428 528h4v4h-4zM580 528h4v4h-4zM576 532h4v4h-4zM432 536h4v4h-4zM440 536h4v4h-4zM460 540h4v4h-4zM564 540h4v4h-4z"/>
<path fill="#ffbd00" d="M864 112h4v4h-4zM868 116h4v4h-4zM848 120h4v4h-4zM872 120h4v4h-4zM872 124h4v4h-4zM812 144h4v4h-4zM848 148h4v4h-4zM808 156h4v4h-4zM844 156h4v4h-4zM840 164h4v4h-4zM800 172h4v4h-4zM836 172h4v4h-4zM572 176h36v4h-36zM836 176h4v4h-4zM564 180h16v4h-16zM608 180h4v4h-4zM552 184h20v4h-20zM612 184h4v4h-4zM540 188h24v4h-24zM616 188h8v4h-8zM532 192h20v4h-20zM620 192h4v4h-4zM528 196h8v4h-8zM624 196h4v4h-4zM340 200h8v4h-8zM524 200h4v4h-4zM796 200h4v4h-4zM344 204h8v4h-8zM520 204h4v4h-4zM796 204h4v4h-4zM348 208h4v4h-4zM516 208h4v4h-4zM624 208h4v4h-4zM796 208h4v4h-4zM348 212h8v4h-8zM512 212h4v4h-4zM620 212h4v4h-4zM796 212h4v4h-4zM836 212h4v4h-4zM352 216h4v4h-4zM508 216h4v4h-4zM616 216h4v4h-4zM836 216h4v4h-4zM352 220h8v4h-8zM500 220h8v4h-8zM612 220h4v4h-4zM836 220h4v4h-4zM352 224h8v4h-8zM496 224h8v4h-8zM584 224h28v4h-28zM356 228h8v4h-8zM488 228h12v4h-12zM576 228h4v4h-4zM792 228h4v4h-4zM356 232h8v4h-8zM484 232h20v4h-20zM572 232h4v4h-4zM792 232h4v4h-4zM360 236h8v4h-8zM476 236h40v4h-40zM564 236h4v4h-4zM792 236h4v4h-4zM360 240h8v4h-8zM472 240h32v4h-32zM512 240h8v4h-8zM552 240h8v4h-8zM840 240h4v4h-4zM364 244h8v4h-8zM468 244h32v4h-32zM516 244h8v4h-8zM540 244h16v4h-16zM792 244h4v4h-4zM840 244h4v4h-4zM364 248h20v4h-20zM464 248h36v4h-36zM516 248h8v4h-8zM540 248h12v4h-12zM792 248h4v4h-4zM368 252h24v4h-24zM456 252h20v4h-20zM480 252h24v4h-24zM512 252h8v4h-8zM544 252h8v4h-8zM376 256h28v4h-28zM448 256h12v4h-12zM484 256h32v4h-32zM544 256h8v4h-8zM788 256h4v4h-4zM844 256h4v4h-4zM952 256h16v4h-16zM396 260h48v4h-48zM492 260h16v4h-16zM548 260h8v4h-8zM848 260h4v4h-4zM932 260h12v4h-12zM968 260h8v4h-8zM552 264h8v4h-8zM784 264h4v4h-4zM852 264h8v4h-8zM920 264h12v4h-12zM556 268h4v4h-4zM864 268h8v4h-8zM908 268h12v4h-12zM560 272h4v4h-4zM876 272h32v4h-32zM560 276h4v4h-4zM352 280h12v4h-12zM348 284h20v4h-20zM564 284h4v4h-4zM712 284h4v4h-4zM348 288h20v4h-20zM564 288h4v4h-4zM716 288h4v4h-4zM348 292h24v4h-24zM700 292h4v4h-4zM716 292h4v4h-4zM260 296h12v4h-12zM352 296h16v4h-16zM620 296h8v4h-8zM696 296h4v4h-4zM712 296h20v4h-20zM844 296h4v4h-4zM256 300h28v4h-28zM356 300h12v4h-12zM568 300h4v4h-4zM620 300h8v4h-8zM720 300h12v4h-12zM840 300h4v4h-4zM852 300h4v4h-4zM256 304h32v4h-32zM568 304h4v4h-4zM620 304h12v4h-12zM692 304h4v4h-4zM840 304h12v4h-12zM256 308h12v4h-12zM284 308h8v4h-8zM568 308h4v4h-4zM620 308h12v4h-12zM688 308h4v4h-4zM256 312h8v4h-8zM288 312h8v4h-8zM568 312h4v4h-4zM620 312h12v4h-12zM688 312h4v4h-4zM256 316h8v4h-8zM288 316h8v4h-8zM620 316h16v4h-16zM688 316h4v4h-4zM260 320h4v4h-4zM288 320h8v4h-8zM572 320h4v4h-4zM616 320h20v4h-20zM684 320h12v4h-12zM260 324h8v4h-8zM284 324h8v4h-8zM384 324h12v4h-12zM572 324h4v4h-4zM616 324h20v4h-20zM688 324h4v4h-4zM700 324h4v4h-4zM264 328h8v4h-8zM280 328h12v4h-12zM380 328h16v4h-16zM572 328h4v4h-4zM616 328h20v4h-20zM708 328h4v4h-4zM268 332h20v4h-20zM380 332h12v4h-12zM572 332h4v4h-4zM616 332h20v4h-20zM676 332h8v4h-8zM712 332h8v4h-8zM380 336h12v4h-12zM572 336h4v4h-4zM616 336h24v4h-24zM672 336h16v4h-16zM712 336h8v4h-8zM380 340h8v4h-8zM572 340h4v4h-4zM616 340h28v4h-28zM664 340h8v4h-8zM688 340h8v4h-8zM708 340h4v4h-4zM568 344h8v4h-8zM616 344h8v4h-8zM636 344h28v4h-28zM484 348h4v4h-4zM568 348h8v4h-8zM612 348h8v4h-8zM484 352h4v4h-4zM568 352h8v4h-8zM608 352h8v4h-8zM480 356h8v4h-8zM564 356h12v4h-12zM604 356h8v4h-8zM480 360h12v4h-12zM564 360h8v4h-8zM600 360h8v4h-8zM476 364h20v4h-20zM560 364h12v4h-12zM596 364h8v4h-8zM476 368h20v4h-20zM560 368h12v4h-12zM592 368h8v4h-8zM476 372h4v4h-4zM492 372h12v4h-12zM556 372h12v4h-12zM588 372h12v4h-12zM476 376h8v4h-8zM492 376h20v4h-20zM548 376h20v4h-20zM572 376h24v4h-24zM480 380h40v4h-40zM536 380h56v4h-56zM480 384h108v4h-108zM484 388h4v4h-4zM500 388h8v4h-8zM560 388h20v4h-20zM500 392h4v4h-4zM560 392h16v4h-16zM500 396h4v4h-4zM564 396h8v4h-8zM500 400h4v4h-4zM564 400h8v4h-8zM496 404h8v4h-8zM564 404h8v4h-8zM684 404h20v4h-20zM484 408h4v4h-4zM496 408h12v4h-12zM560 408h8v4h-8zM680 408h4v4h-4zM708 408h4v4h-4zM504 412h24v4h-24zM548 412h20v4h-20zM676 412h4v4h-4zM712 412h4v4h-4zM528 416h36v4h-36zM676 416h4v4h-4zM712 416h4v4h-4zM676 420h4v4h-4zM712 420h4v4h-4zM676 424h4v4h-4zM712 424h4v4h-4zM680 428h4v4h-4zM708 428h4v4h-4zM684 432h4v4h-4zM704 432h4v4h-4zM688 436h8v4h-8zM592 468h16v4h-16zM588 472h20v4h-20zM564 476h4v4h-4zM576 476h32v4h-32zM484 480h8v4h-8zM496 480h12v4h-12zM512 480h12v4h-12zM556 480h4v4h-4zM584 480h20v4h-20zM600 484h4v4h-4zM600 488h4v4h-4zM600 492h4v4h-4zM604 496h4v4h-4zM452 500h4v4h-4zM600 504h4v4h-4zM436 508h4v4h-4zM600 508h4v4h-4zM432 512h4v4h-4zM596 516h4v4h-4zM428 520h4v4h-4zM592 520h4v4h-4zM588 524h4v4h-4zM584 528h4v4h-4zM428 532h4v4h-4zM580 532h4v4h-4zM444 536h4v4h-4zM452 536h4v4h-4zM576 536h4v4h-4zM456 540h4v4h-4zM568 540h8v4h-8zM460 544h4v4h-4zM560 544h8v4h-8zM556 548h4v4h-4z"/>
<path fill="#ffb300" d="M856 116h12v4h-12zM868 120h4v4h-4zM840 124h4v4h-4zM868 124h4v4h-4zM864 128h4v4h-4zM828 132h4v4h-4zM860 132h4v4h-4zM856 136h4v4h-4zM852 140h4v4h-4zM812 148h4v4h-4zM844 152h4v4h-4zM808 160h4v4h-4zM840 160h4v4h-4zM804 168h4v4h-4zM836 168h4v4h-4zM800 176h4v4h-4zM580 180h16v4h-16zM600 180h8v4h-8zM800 180h4v4h-4zM572 184h16v4h-16zM608 184h4v4h-4zM800 184h4v4h-4zM564 188h16v4h-16zM612 188h4v4h-4zM832 188h4v4h-4zM552 192h24v4h-24zM616 192h4v4h-4zM832 192h4v4h-4zM536 196h40v4h-40zM620 196h4v4h-4zM832 196h4v4h-4zM332 200h8v4h-8zM528 200h20v4h-20zM624 200h4v4h-4zM832 200h4v4h-4zM336 204h8v4h-8zM524 204h8v4h-8zM624 204h4v4h-4zM340 208h8v4h-8zM520 208h4v4h-4zM620 208h4v4h-4zM344 212h4v4h-4zM516 212h4v4h-4zM616 212h4v4h-4zM344 216h8v4h-8zM512 216h8v4h-8zM612 216h4v4h-4zM796 216h4v4h-4zM344 220h8v4h-8zM508 220h8v4h-8zM588 220h8v4h-8zM608 220h4v4h-4zM348 224h4v4h-4zM504 224h4v4h-4zM580 224h4v4h-4zM836 224h4v4h-4zM348 228h8v4h-8zM500 228h12v4h-12zM572 228h4v4h-4zM836 228h4v4h-4zM348 232h8v4h-8zM504 232h16v4h-16zM568 232h4v4h-4zM836 232h4v4h-4zM348 236h12v4h-12zM516 236h12v4h-12zM556 236h8v4h-8zM352 240h8v4h-8zM520 240h32v4h-32zM792 240h4v4h-4zM348 244h16v4h-16zM524 244h16v4h-16zM344 248h20v4h-20zM524 248h16v4h-16zM840 248h4v4h-4zM332 252h36v4h-36zM476 252h4v4h-4zM520 252h24v4h-24zM792 252h4v4h-4zM840 252h4v4h-4zM324 256h52v4h-52zM460 256h24v4h-24zM516 256h28v4h-28zM320 260h76v4h-76zM444 260h48v4h-48zM508 260h16v4h-16zM540 260h8v4h-8zM788 260h4v4h-4zM844 260h4v4h-4zM944 260h24v4h-24zM320 264h128v4h-128zM468 264h48v4h-48zM548 264h4v4h-4zM788 264h4v4h-4zM848 264h4v4h-4zM932 264h12v4h-12zM964 264h12v4h-12zM320 268h60v4h-60zM472 268h32v4h-32zM552 268h4v4h-4zM856 268h8v4h-8zM920 268h8v4h-8zM972 268h4v4h-4zM320 272h56v4h-56zM472 272h24v4h-24zM556 272h4v4h-4zM864 272h12v4h-12zM908 272h12v4h-12zM320 276h56v4h-56zM472 276h20v4h-20zM556 276h4v4h-4zM876 276h32v4h-32zM316 280h36v4h-36zM364 280h12v4h-12zM472 280h20v4h-20zM560 280h4v4h-4zM316 284h32v4h-32zM368 284h8v4h-8zM468 284h20v4h-20zM560 284h4v4h-4zM708 284h4v4h-4zM252 288h20v4h-20zM312 288h36v4h-36zM368 288h8v4h-8zM468 288h20v4h-20zM560 288h4v4h-4zM704 288h4v4h-4zM712 288h4v4h-4zM248 292h32v4h-32zM312 292h36v4h-36zM372 292h4v4h-4zM468 292h20v4h-20zM564 292h4v4h-4zM704 292h12v4h-12zM244 296h16v4h-16zM272 296h20v4h-20zM308 296h44v4h-44zM368 296h8v4h-8zM472 296h12v4h-12zM564 296h4v4h-4zM700 296h4v4h-4zM708 296h4v4h-4zM840 296h4v4h-4zM852 296h4v4h-4zM244 300h12v4h-12zM284 300h72v4h-72zM368 300h8v4h-8zM564 300h4v4h-4zM696 300h4v4h-4zM712 300h8v4h-8zM832 300h8v4h-8zM956 300h8v4h-8zM240 304h16v4h-16zM288 304h92v4h-92zM564 304h4v4h-4zM720 304h16v4h-16zM832 304h8v4h-8zM852 304h4v4h-4zM956 304h8v4h-8zM240 308h16v4h-16zM292 308h24v4h-24zM324 308h60v4h-60zM564 308h4v4h-4zM692 308h4v4h-4zM240 312h16v4h-16zM296 312h12v4h-12zM356 312h68v4h-68zM692 312h4v4h-4zM240 316h16v4h-16zM296 316h12v4h-12zM360 316h68v4h-68zM568 316h4v4h-4zM692 316h4v4h-4zM248 320h12v4h-12zM296 320h8v4h-8zM360 320h72v4h-72zM568 320h4v4h-4zM696 320h4v4h-4zM252 324h8v4h-8zM292 324h8v4h-8zM360 324h24v4h-24zM396 324h36v4h-36zM568 324h4v4h-4zM704 324h8v4h-8zM256 328h8v4h-8zM292 328h8v4h-8zM364 328h16v4h-16zM396 328h36v4h-36zM568 328h4v4h-4zM712 328h8v4h-8zM260 332h8v4h-8zM288 332h8v4h-8zM364 332h16v4h-16zM392 332h36v4h-36zM568 332h4v4h-4zM720 332h4v4h-4zM264 336h28v4h-28zM364 336h16v4h-16zM392 336h36v4h-36zM568 336h4v4h-4zM720 336h4v4h-4zM268 340h16v4h-16zM364 340h16v4h-16zM388 340h16v4h-16zM564 340h8v4h-8zM672 340h16v4h-16zM712 340h8v4h-8zM368 344h32v4h-32zM564 344h4v4h-4zM624 344h12v4h-12zM664 344h8v4h-8zM692 344h20v4h-20zM372 348h24v4h-24zM480 348h4v4h-4zM564 348h4v4h-4zM620 348h44v4h-44zM476 352h8v4h-8zM488 352h8v4h-8zM560 352h8v4h-8zM616 352h12v4h-12zM476 356h4v4h-4zM488 356h12v4h-12zM560 356h4v4h-4zM612 356h8v4h-8zM472 360h8v4h-8zM492 360h12v4h-12zM556 360h8v4h-8zM608 360h4v4h-4zM468 364h8v4h-8zM496 364h12v4h-12zM552 364h8v4h-8zM604 364h4v4h-4zM468 368h8v4h-8zM496 368h16v4h-16zM548 368h12v4h-12zM600 368h4v4h-4zM472 372h4v4h-4zM504 372h12v4h-12zM544 372h12v4h-12zM600 372h4v4h-4zM472 376h4v4h-4zM512 376h16v4h-16zM532 376h16v4h-16zM596 376h4v4h-4zM476 380h4v4h-4zM520 380h16v4h-16zM592 380h8v4h-8zM476 384h4v4h-4zM588 384h8v4h-8zM480 388h4v4h-4zM488 388h12v4h-12zM580 388h12v4h-12zM496 392h4v4h-4zM576 392h12v4h-12zM496 396h4v4h-4zM572 396h8v4h-8zM492 400h8v4h-8zM572 400h8v4h-8zM688 400h12v4h-12zM484 404h12v4h-12zM572 404h4v4h-4zM676 404h8v4h-8zM704 404h8v4h-8zM488 408h8v4h-8zM568 408h8v4h-8zM672 408h8v4h-8zM712 408h4v4h-4zM484 412h20v4h-20zM568 412h8v4h-8zM672 412h4v4h-4zM716 412h4v4h-4zM504 416h24v4h-24zM564 416h12v4h-12zM672 416h4v4h-4zM716 416h4v4h-4zM532 420h44v4h-44zM672 420h4v4h-4zM716 420h4v4h-4zM552 424h24v4h-24zM672 424h4v4h-4zM716 424h4v4h-4zM560 428h4v4h-4zM676 428h4v4h-4zM712 428h4v4h-4zM680 432h4v4h-4zM684 436h4v4h-4zM692 440h8v4h-8zM588 448h16v4h-16zM588 452h20v4h-20zM588 456h20v4h-20zM588 460h20v4h-20zM584 464h28v4h-28zM580 468h12v4h-12zM608 468h4v4h-4zM572 472h16v4h-16zM608 472h4v4h-4zM608 476h4v4h-4zM508 480h4v4h-4zM524 480h32v4h-32zM604 480h8v4h-8zM476 484h4v4h-4zM604 484h4v4h-4zM472 488h4v4h-4zM604 488h4v4h-4zM468 492h4v4h-4zM604 492h4v4h-4zM460 496h4v4h-4zM448 500h4v4h-4zM604 500h4v4h-4zM440 504h4v4h-4zM604 504h4v4h-4zM604 508h4v4h-4zM600 512h4v4h-4zM428 516h4v4h-4zM600 516h4v4h-4zM596 520h4v4h-4zM592 524h4v4h-4zM424 528h4v4h-4zM588 528h4v4h-4zM584 532h8v4h-8zM428 536h4v4h-4zM448 536h4v4h-4zM580 536h8v4h-8zM432 540h12v4h-12zM452 540h4v4h-4zM576 540h4v4h-4zM456 544h4v4h-4zM568 544h8v4h-8zM460 548h4v4h-4zM560 548h8v4h-8zM552 552h8v4h-8z"/>
<path fill="#ffa800" d="M852 120h4v4h-4zM864 120h4v4h-4zM864 124h4v4h-4zM836 128h4v4h-4zM860 128h4v4h-4zM856 132h4v4h-4zM820 136h4v4h-4zM816 140h4v4h-4zM848 144h4v4h-4zM844 148h4v4h-4zM812 152h4v4h-4zM840 156h4v4h-4zM808 164h4v4h-4zM836 164h4v4h-4zM832 176h4v4h-4zM596 180h4v4h-4zM832 180h4v4h-4zM588 184h8v4h-8zM600 184h8v4h-8zM832 184h4v4h-4zM580 188h12v4h-12zM604 188h8v4h-8zM800 188h4v4h-4zM576 192h12v4h-12zM608 192h8v4h-8zM800 192h4v4h-4zM576 196h8v4h-8zM612 196h8v4h-8zM316 200h16v4h-16zM548 200h36v4h-36zM616 200h8v4h-8zM324 204h12v4h-12zM532 204h16v4h-16zM572 204h4v4h-4zM620 204h4v4h-4zM832 204h4v4h-4zM332 208h8v4h-8zM524 208h8v4h-8zM616 208h4v4h-4zM832 208h4v4h-4zM336 212h8v4h-8zM520 212h8v4h-8zM612 212h4v4h-4zM832 212h4v4h-4zM336 216h8v4h-8zM520 216h4v4h-4zM584 216h12v4h-12zM608 216h4v4h-4zM832 216h4v4h-4zM340 220h4v4h-4zM516 220h4v4h-4zM580 220h8v4h-8zM596 220h12v4h-12zM796 220h4v4h-4zM340 224h8v4h-8zM508 224h12v4h-12zM572 224h8v4h-8zM340 228h8v4h-8zM512 228h12v4h-12zM568 228h4v4h-4zM336 232h12v4h-12zM520 232h8v4h-8zM560 232h8v4h-8zM308 236h8v4h-8zM336 236h12v4h-12zM528 236h28v4h-28zM836 236h4v4h-4zM304 240h48v4h-48zM836 240h4v4h-4zM308 244h40v4h-40zM252 248h4v4h-4zM308 248h36v4h-36zM248 252h8v4h-8zM312 252h20v4h-20zM240 256h16v4h-16zM312 256h12v4h-12zM792 256h4v4h-4zM840 256h4v4h-4zM236 260h16v4h-16zM312 260h8v4h-8zM524 260h16v4h-16zM232 264h24v4h-24zM312 264h8v4h-8zM448 264h20v4h-20zM516 264h32v4h-32zM944 264h20v4h-20zM228 268h28v4h-28zM312 268h8v4h-8zM380 268h72v4h-72zM460 268h12v4h-12zM504 268h16v4h-16zM544 268h8v4h-8zM788 268h4v4h-4zM852 268h4v4h-4zM928 268h16v4h-16zM964 268h8v4h-8zM228 272h28v4h-28zM312 272h8v4h-8zM376 272h24v4h-24zM420 272h12v4h-12zM460 272h12v4h-12zM496 272h16v4h-16zM548 272h8v4h-8zM856 272h8v4h-8zM920 272h8v4h-8zM968 272h8v4h-8zM224 276h36v4h-36zM312 276h8v4h-8zM376 276h12v4h-12zM460 276h12v4h-12zM492 276h12v4h-12zM552 276h4v4h-4zM864 276h12v4h-12zM908 276h12v4h-12zM972 276h4v4h-4zM224 280h48v4h-48zM308 280h8v4h-8zM376 280h8v4h-8zM460 280h12v4h-12zM492 280h8v4h-8zM552 280h8v4h-8zM872 280h40v4h-40zM972 280h4v4h-4zM220 284h56v4h-56zM308 284h8v4h-8zM376 284h4v4h-4zM460 284h8v4h-8zM488 284h8v4h-8zM556 284h4v4h-4zM972 284h4v4h-4zM220 288h32v4h-32zM272 288h16v4h-16zM300 288h12v4h-12zM376 288h4v4h-4zM460 288h8v4h-8zM488 288h4v4h-4zM556 288h4v4h-4zM708 288h4v4h-4zM972 288h4v4h-4zM224 292h24v4h-24zM280 292h32v4h-32zM376 292h4v4h-4zM460 292h8v4h-8zM488 292h4v4h-4zM560 292h4v4h-4zM844 292h8v4h-8zM956 292h20v4h-20zM224 296h20v4h-20zM292 296h16v4h-16zM376 296h4v4h-4zM460 296h12v4h-12zM484 296h8v4h-8zM560 296h4v4h-4zM704 296h4v4h-4zM832 296h8v4h-8zM856 296h4v4h-4zM948 296h28v4h-28zM224 300h20v4h-20zM376 300h8v4h-8zM456 300h32v4h-32zM560 300h4v4h-4zM708 300h4v4h-4zM828 300h4v4h-4zM856 300h4v4h-4zM944 300h12v4h-12zM964 300h12v4h-12zM228 304h12v4h-12zM380 304h20v4h-20zM408 304h16v4h-16zM456 304h28v4h-28zM560 304h4v4h-4zM696 304h4v4h-4zM712 304h8v4h-8zM828 304h4v4h-4zM856 304h4v4h-4zM944 304h12v4h-12zM964 304h12v4h-12zM228 308h12v4h-12zM316 308h8v4h-8zM384 308h52v4h-52zM448 308h32v4h-32zM696 308h4v4h-4zM716 308h20v4h-20zM832 308h20v4h-20zM948 308h28v4h-28zM232 312h8v4h-8zM308 312h48v4h-48zM424 312h48v4h-48zM564 312h4v4h-4zM696 312h4v4h-4zM720 312h20v4h-20zM952 312h24v4h-24zM232 316h8v4h-8zM308 316h52v4h-52zM428 316h40v4h-40zM564 316h4v4h-4zM696 316h4v4h-4zM236 320h12v4h-12zM304 320h56v4h-56zM432 320h32v4h-32zM480 320h8v4h-8zM564 320h4v4h-4zM700 320h4v4h-4zM244 324h8v4h-8zM300 324h16v4h-16zM336 324h24v4h-24zM432 324h28v4h-28zM480 324h8v4h-8zM564 324h4v4h-4zM712 324h12v4h-12zM252 328h4v4h-4zM300 328h8v4h-8zM344 328h20v4h-20zM432 328h20v4h-20zM564 328h4v4h-4zM720 328h4v4h-4zM252 332h8v4h-8zM296 332h8v4h-8zM348 332h16v4h-16zM428 332h16v4h-16zM564 332h4v4h-4zM724 332h4v4h-4zM256 336h8v4h-8zM292 336h8v4h-8zM348 336h16v4h-16zM428 336h16v4h-16zM560 336h8v4h-8zM724 336h4v4h-4zM260 340h8v4h-8zM284 340h12v4h-12zM348 340h16v4h-16zM404 340h36v4h-36zM560 340h4v4h-4zM720 340h4v4h-4zM264 344h24v4h-24zM352 344h16v4h-16zM400 344h40v4h-40zM480 344h4v4h-4zM560 344h4v4h-4zM672 344h20v4h-20zM712 344h4v4h-4zM276 348h4v4h-4zM356 348h16v4h-16zM396 348h40v4h-40zM476 348h4v4h-4zM488 348h12v4h-12zM556 348h8v4h-8zM664 348h8v4h-8zM696 348h8v4h-8zM360 352h68v4h-68zM472 352h4v4h-4zM496 352h8v4h-8zM556 352h4v4h-4zM628 352h36v4h-36zM364 356h44v4h-44zM464 356h12v4h-12zM500 356h8v4h-8zM552 356h8v4h-8zM620 356h32v4h-32zM464 360h8v4h-8zM504 360h8v4h-8zM548 360h8v4h-8zM612 360h8v4h-8zM460 364h8v4h-8zM508 364h8v4h-8zM544 364h8v4h-8zM608 364h8v4h-8zM460 368h8v4h-8zM512 368h12v4h-12zM536 368h12v4h-12zM604 368h8v4h-8zM464 372h8v4h-8zM516 372h28v4h-28zM604 372h4v4h-4zM468 376h4v4h-4zM528 376h4v4h-4zM600 376h4v4h-4zM468 380h8v4h-8zM600 380h4v4h-4zM472 384h4v4h-4zM596 384h8v4h-8zM476 388h4v4h-4zM592 388h12v4h-12zM492 392h4v4h-4zM588 392h8v4h-8zM492 396h4v4h-4zM580 396h12v4h-12zM488 400h4v4h-4zM580 400h4v4h-4zM668 400h20v4h-20zM700 400h12v4h-12zM576 404h8v4h-8zM668 404h8v4h-8zM712 404h8v4h-8zM480 408h4v4h-4zM576 408h8v4h-8zM664 408h8v4h-8zM716 408h8v4h-8zM480 412h4v4h-4zM576 412h8v4h-8zM664 412h8v4h-8zM720 412h4v4h-4zM484 416h20v4h-20zM576 416h8v4h-8zM664 416h8v4h-8zM720 416h4v4h-4zM504 420h28v4h-28zM576 420h12v4h-12zM664 420h8v4h-8zM720 420h4v4h-4zM836 420h4v4h-4zM536 424h16v4h-16zM576 424h16v4h-16zM668 424h4v4h-4zM720 424h4v4h-4zM552 428h8v4h-8zM564 428h28v4h-28zM672 428h4v4h-4zM716 428h4v4h-4zM560 432h36v4h-36zM672 432h8v4h-8zM708 432h4v4h-4zM572 436h28v4h-28zM680 436h4v4h-4zM704 436h4v4h-4zM576 440h28v4h-28zM684 440h8v4h-8zM700 440h4v4h-4zM580 444h28v4h-28zM580 448h8v4h-8zM604 448h8v4h-8zM580 452h8v4h-8zM608 452h4v4h-4zM580 456h8v4h-8zM608 456h4v4h-4zM580 460h8v4h-8zM608 460h8v4h-8zM576 464h8v4h-8zM612 464h4v4h-4zM572 468h8v4h-8zM612 468h4v4h-4zM568 472h4v4h-4zM612 472h4v4h-4zM488 476h12v4h-12zM560 476h4v4h-4zM612 476h4v4h-4zM480 480h4v4h-4zM608 484h4v4h-4zM608 488h4v4h-4zM608 492h4v4h-4zM456 496h4v4h-4zM608 496h4v4h-4zM444 500h4v4h-4zM608 500h4v4h-4zM436 504h4v4h-4zM608 504h4v4h-4zM432 508h4v4h-4zM608 508h4v4h-4zM428 512h4v4h-4zM604 512h8v4h-8zM604 516h4v4h-4zM600 520h4v4h-4zM424 524h4v4h-4zM596 524h4v4h-4zM592 528h4v4h-4zM424 532h4v4h-4zM592 532h4v4h-4zM424 536h4v4h-4zM588 536h4v4h-4zM428 540h4v4h-4zM444 540h4v4h-4zM580 540h8v4h-8zM452 544h4v4h-4zM576 544h8v4h-8zM456 548h4v4h-4zM568 548h4v4h-4zM460 552h4v4h-4zM560 552h4v4h-4zM552 556h8v4h-8zM312 612h16v4h-16zM312 616h12v4h-12zM316 620h8v4h-8z"/>
<path fill="#ff9e00" d="M856 120h8v4h-8zM844 124h12v4h-12zM860 124h4v4h-4zM832 132h4v4h-4zM852 136h4v4h-4zM848 140h4v4h-4zM812 156h4v4h-4zM836 160h4v4h-4zM832 168h4v4h-4zM804 172h4v4h-4zM832 172h4v4h-4zM596 184h4v4h-4zM592 188h12v4h-12zM588 192h20v4h-20zM584 196h28v4h-28zM800 196h4v4h-4zM584 200h32v4h-32zM312 204h12v4h-12zM548 204h24v4h-24zM576 204h44v4h-44zM308 208h24v4h-24zM532 208h8v4h-8zM568 208h48v4h-48zM304 212h12v4h-12zM328 212h8v4h-8zM528 212h4v4h-4zM572 212h40v4h-40zM304 216h8v4h-8zM332 216h4v4h-4zM524 216h4v4h-4zM576 216h8v4h-8zM596 216h12v4h-12zM300 220h8v4h-8zM332 220h8v4h-8zM520 220h8v4h-8zM572 220h8v4h-8zM832 220h4v4h-4zM296 224h16v4h-16zM332 224h8v4h-8zM520 224h8v4h-8zM796 224h4v4h-4zM832 224h4v4h-4zM288 228h28v4h-28zM332 228h8v4h-8zM524 228h8v4h-8zM564 228h4v4h-4zM832 228h4v4h-4zM280 232h56v4h-56zM528 232h16v4h-16zM548 232h12v4h-12zM272 236h36v4h-36zM316 236h20v4h-20zM264 240h40v4h-40zM260 244h48v4h-48zM836 244h4v4h-4zM256 248h52v4h-52zM836 248h4v4h-4zM256 252h24v4h-24zM304 252h8v4h-8zM256 256h20v4h-20zM304 256h8v4h-8zM252 260h20v4h-20zM308 260h4v4h-4zM792 260h4v4h-4zM840 260h4v4h-4zM256 264h12v4h-12zM308 264h4v4h-4zM792 264h4v4h-4zM844 264h4v4h-4zM256 268h12v4h-12zM308 268h4v4h-4zM452 268h8v4h-8zM520 268h24v4h-24zM792 268h4v4h-4zM848 268h4v4h-4zM944 268h20v4h-20zM256 272h16v4h-16zM308 272h4v4h-4zM400 272h20v4h-20zM432 272h28v4h-28zM512 272h16v4h-16zM536 272h12v4h-12zM852 272h4v4h-4zM928 272h24v4h-24zM960 272h8v4h-8zM260 276h16v4h-16zM304 276h8v4h-8zM388 276h72v4h-72zM504 276h16v4h-16zM544 276h8v4h-8zM856 276h8v4h-8zM920 276h12v4h-12zM964 276h8v4h-8zM272 280h12v4h-12zM300 280h8v4h-8zM384 280h12v4h-12zM416 280h16v4h-16zM448 280h12v4h-12zM500 280h12v4h-12zM548 280h4v4h-4zM788 280h4v4h-4zM860 280h12v4h-12zM912 280h12v4h-12zM964 280h8v4h-8zM276 284h32v4h-32zM380 284h8v4h-8zM452 284h8v4h-8zM496 284h8v4h-8zM548 284h8v4h-8zM788 284h4v4h-4zM864 284h56v4h-56zM964 284h8v4h-8zM216 288h4v4h-4zM288 288h12v4h-12zM380 288h4v4h-4zM452 288h8v4h-8zM492 288h8v4h-8zM552 288h4v4h-4zM880 288h36v4h-36zM948 288h24v4h-24zM216 292h8v4h-8zM380 292h4v4h-4zM424 292h4v4h-4zM452 292h8v4h-8zM492 292h4v4h-4zM552 292h8v4h-8zM840 292h4v4h-4zM880 292h40v4h-40zM940 292h16v4h-16zM220 296h4v4h-4zM380 296h12v4h-12zM416 296h16v4h-16zM452 296h8v4h-8zM492 296h4v4h-4zM556 296h4v4h-4zM860 296h8v4h-8zM880 296h68v4h-68zM220 300h4v4h-4zM384 300h56v4h-56zM444 300h12v4h-12zM488 300h8v4h-8zM556 300h4v4h-4zM700 300h4v4h-4zM860 300h12v4h-12zM884 300h4v4h-4zM900 300h44v4h-44zM216 304h12v4h-12zM400 304h8v4h-8zM424 304h32v4h-32zM484 304h8v4h-8zM556 304h4v4h-4zM700 304h4v4h-4zM708 304h4v4h-4zM824 304h4v4h-4zM860 304h8v4h-8zM924 304h20v4h-20zM216 308h12v4h-12zM436 308h12v4h-12zM480 308h12v4h-12zM560 308h4v4h-4zM700 308h4v4h-4zM712 308h4v4h-4zM828 308h4v4h-4zM932 308h16v4h-16zM216 312h16v4h-16zM472 312h20v4h-20zM560 312h4v4h-4zM700 312h4v4h-4zM712 312h8v4h-8zM836 312h8v4h-8zM940 312h12v4h-12zM220 316h12v4h-12zM468 316h24v4h-24zM560 316h4v4h-4zM700 316h4v4h-4zM712 316h32v4h-32zM944 316h32v4h-32zM224 320h12v4h-12zM464 320h16v4h-16zM488 320h4v4h-4zM560 320h4v4h-4zM704 320h40v4h-40zM948 320h28v4h-28zM232 324h12v4h-12zM316 324h20v4h-20zM460 324h20v4h-20zM488 324h8v4h-8zM560 324h4v4h-4zM724 324h12v4h-12zM960 324h16v4h-16zM240 328h12v4h-12zM308 328h36v4h-36zM452 328h44v4h-44zM560 328h4v4h-4zM724 328h8v4h-8zM248 332h4v4h-4zM304 332h12v4h-12zM332 332h16v4h-16zM444 332h20v4h-20zM468 332h24v4h-24zM560 332h4v4h-4zM728 332h4v4h-4zM252 336h4v4h-4zM300 336h12v4h-12zM336 336h12v4h-12zM444 336h16v4h-16zM476 336h4v4h-4zM556 336h4v4h-4zM728 336h4v4h-4zM256 340h4v4h-4zM296 340h12v4h-12zM340 340h8v4h-8zM440 340h16v4h-16zM476 340h8v4h-8zM556 340h4v4h-4zM724 340h4v4h-4zM256 344h8v4h-8zM288 344h16v4h-16zM340 344h12v4h-12zM440 344h16v4h-16zM472 344h8v4h-8zM484 344h24v4h-24zM556 344h4v4h-4zM716 344h8v4h-8zM260 348h16v4h-16zM280 348h16v4h-16zM344 348h12v4h-12zM436 348h24v4h-24zM468 348h8v4h-8zM500 348h12v4h-12zM552 348h4v4h-4zM672 348h24v4h-24zM704 348h12v4h-12zM268 352h24v4h-24zM344 352h16v4h-16zM428 352h44v4h-44zM504 352h12v4h-12zM552 352h4v4h-4zM664 352h4v4h-4zM348 356h16v4h-16zM408 356h56v4h-56zM508 356h8v4h-8zM548 356h4v4h-4zM652 356h12v4h-12zM348 360h116v4h-116zM512 360h12v4h-12zM540 360h8v4h-8zM620 360h32v4h-32zM352 364h76v4h-76zM440 364h20v4h-20zM516 364h28v4h-28zM616 364h4v4h-4zM448 368h12v4h-12zM524 368h12v4h-12zM612 368h4v4h-4zM452 372h12v4h-12zM608 372h4v4h-4zM460 376h8v4h-8zM604 376h4v4h-4zM464 380h4v4h-4zM604 380h4v4h-4zM468 384h4v4h-4zM604 384h4v4h-4zM472 388h4v4h-4zM604 388h4v4h-4zM476 392h16v4h-16zM596 392h8v4h-8zM664 392h8v4h-8zM480 396h4v4h-4zM488 396h4v4h-4zM592 396h8v4h-8zM660 396h52v4h-52zM480 400h8v4h-8zM584 400h8v4h-8zM660 400h8v4h-8zM712 400h8v4h-8zM476 404h8v4h-8zM584 404h8v4h-8zM660 404h8v4h-8zM720 404h4v4h-4zM476 408h4v4h-4zM584 408h4v4h-4zM660 408h4v4h-4zM724 408h4v4h-4zM476 412h4v4h-4zM584 412h4v4h-4zM660 412h4v4h-4zM724 412h8v4h-8zM820 412h16v4h-16zM480 416h4v4h-4zM584 416h8v4h-8zM660 416h4v4h-4zM724 416h8v4h-8zM820 416h20v4h-20zM488 420h16v4h-16zM588 420h8v4h-8zM660 420h4v4h-4zM724 420h4v4h-4zM824 420h12v4h-12zM840 420h4v4h-4zM516 424h20v4h-20zM592 424h4v4h-4zM660 424h8v4h-8zM724 424h4v4h-4zM828 424h16v4h-16zM540 428h12v4h-12zM592 428h8v4h-8zM664 428h8v4h-8zM720 428h4v4h-4zM552 432h8v4h-8zM596 432h8v4h-8zM668 432h4v4h-4zM712 432h8v4h-8zM560 436h12v4h-12zM600 436h8v4h-8zM672 436h8v4h-8zM708 436h4v4h-4zM568 440h8v4h-8zM604 440h8v4h-8zM676 440h8v4h-8zM572 444h8v4h-8zM608 444h8v4h-8zM576 448h4v4h-4zM612 448h4v4h-4zM576 452h4v4h-4zM612 452h4v4h-4zM576 456h4v4h-4zM612 456h8v4h-8zM572 460h8v4h-8zM616 460h4v4h-4zM572 464h4v4h-4zM616 464h4v4h-4zM568 468h4v4h-4zM616 468h4v4h-4zM564 472h4v4h-4zM616 472h4v4h-4zM484 476h4v4h-4zM500 476h28v4h-28zM544 476h16v4h-16zM616 476h4v4h-4zM476 480h4v4h-4zM612 480h4v4h-4zM472 484h4v4h-4zM612 484h4v4h-4zM612 488h4v4h-4zM612 492h4v4h-4zM452 496h4v4h-4zM612 496h4v4h-4zM612 500h4v4h-4zM612 504h4v4h-4zM612 508h4v4h-4zM612 512h4v4h-4zM608 516h4v4h-4zM424 520h4v4h-4zM604 520h4v4h-4zM600 524h4v4h-4zM596 528h4v4h-4zM420 532h4v4h-4zM596 532h4v4h-4zM592 536h4v4h-4zM424 540h4v4h-4zM448 540h4v4h-4zM588 540h4v4h-4zM432 544h20v4h-20zM584 544h4v4h-4zM452 548h4v4h-4zM572 548h12v4h-12zM456 552h4v4h-4zM564 552h8v4h-8zM460 556h4v4h-4zM560 556h4v4h-4zM552 560h4v4h-4zM312 604h4v4h-4zM308 608h24v4h-24zM304 612h8v4h-8zM328 612h4v4h-4zM308 616h4v4h-4zM324 616h8v4h-8zM312 620h4v4h-4zM324 620h8v4h-8zM316 624h16v4h-16zM320 628h12v4h-12zM548 636h12v4h-12zM544 640h24v4h-24zM544 644h24v4h-24zM540 648h28v4h-28zM544 652h24v4h-24zM544 656h20v4h-20z"/>
<path fill="#ff9400" d="M856 124h4v4h-4zM840 128h4v4h-4zM852 128h8v4h-8zM852 132h4v4h-4zM824 136h4v4h-4zM816 144h4v4h-4zM844 144h4v4h-4zM840 152h4v4h-4zM836 156h4v4h-4zM812 160h4v4h-4zM812 164h4v4h-4zM832 164h4v4h-4zM808 168h4v4h-4zM828 176h4v4h-4zM828 180h4v4h-4zM804 184h4v4h-4zM828 184h4v4h-4zM804 188h4v4h-4zM828 188h4v4h-4zM828 192h4v4h-4zM828 196h4v4h-4zM800 200h4v4h-4zM828 200h4v4h-4zM800 204h4v4h-4zM828 204h4v4h-4zM540 208h28v4h-28zM800 208h4v4h-4zM828 208h4v4h-4zM316 212h12v4h-12zM532 212h4v4h-4zM564 212h8v4h-8zM800 212h4v4h-4zM828 212h4v4h-4zM312 216h20v4h-20zM528 216h4v4h-4zM568 216h8v4h-8zM800 216h4v4h-4zM308 220h12v4h-12zM328 220h4v4h-4zM528 220h4v4h-4zM568 220h4v4h-4zM312 224h8v4h-8zM324 224h8v4h-8zM528 224h4v4h-4zM568 224h4v4h-4zM316 228h16v4h-16zM532 228h8v4h-8zM556 228h8v4h-8zM796 228h4v4h-4zM544 232h4v4h-4zM796 232h4v4h-4zM832 232h4v4h-4zM796 236h4v4h-4zM832 236h4v4h-4zM796 240h4v4h-4zM832 240h4v4h-4zM796 244h4v4h-4zM796 248h4v4h-4zM280 252h24v4h-24zM796 252h4v4h-4zM836 252h4v4h-4zM276 256h12v4h-12zM300 256h4v4h-4zM796 256h4v4h-4zM836 256h4v4h-4zM272 260h12v4h-12zM304 260h4v4h-4zM268 264h12v4h-12zM304 264h4v4h-4zM840 264h4v4h-4zM268 268h12v4h-12zM304 268h4v4h-4zM844 268h4v4h-4zM272 272h12v4h-12zM304 272h4v4h-4zM528 272h8v4h-8zM792 272h4v4h-4zM844 272h8v4h-8zM952 272h8v4h-8zM276 276h12v4h-12zM300 276h4v4h-4zM520 276h24v4h-24zM792 276h4v4h-4zM848 276h8v4h-8zM932 276h32v4h-32zM284 280h16v4h-16zM396 280h20v4h-20zM432 280h16v4h-16zM512 280h36v4h-36zM792 280h4v4h-4zM848 280h12v4h-12zM924 280h12v4h-12zM940 280h24v4h-24zM388 284h16v4h-16zM408 284h44v4h-44zM504 284h12v4h-12zM540 284h8v4h-8zM792 284h4v4h-4zM848 284h16v4h-16zM920 284h44v4h-44zM384 288h16v4h-16zM412 288h28v4h-28zM444 288h8v4h-8zM500 288h8v4h-8zM544 288h8v4h-8zM792 288h8v4h-8zM844 288h36v4h-36zM916 288h32v4h-32zM384 292h20v4h-20zM408 292h16v4h-16zM428 292h12v4h-12zM448 292h4v4h-4zM496 292h8v4h-8zM548 292h4v4h-4zM796 292h4v4h-4zM852 292h28v4h-28zM920 292h20v4h-20zM392 296h24v4h-24zM432 296h20v4h-20zM496 296h4v4h-4zM548 296h8v4h-8zM796 296h4v4h-4zM828 296h4v4h-4zM868 296h12v4h-12zM440 300h4v4h-4zM496 300h4v4h-4zM552 300h4v4h-4zM704 300h4v4h-4zM796 300h4v4h-4zM812 300h8v4h-8zM824 300h4v4h-4zM872 300h12v4h-12zM888 300h12v4h-12zM492 304h8v4h-8zM552 304h4v4h-4zM704 304h4v4h-4zM812 304h12v4h-12zM868 304h56v4h-56zM492 308h8v4h-8zM552 308h8v4h-8zM704 308h8v4h-8zM820 308h8v4h-8zM852 308h4v4h-4zM900 308h32v4h-32zM492 312h8v4h-8zM552 312h8v4h-8zM704 312h8v4h-8zM828 312h8v4h-8zM844 312h4v4h-4zM916 312h24v4h-24zM216 316h4v4h-4zM492 316h12v4h-12zM556 316h4v4h-4zM704 316h8v4h-8zM928 316h16v4h-16zM220 320h4v4h-4zM492 320h16v4h-16zM556 320h4v4h-4zM744 320h4v4h-4zM932 320h16v4h-16zM220 324h12v4h-12zM496 324h16v4h-16zM556 324h4v4h-4zM736 324h12v4h-12zM936 324h24v4h-24zM224 328h16v4h-16zM496 328h16v4h-16zM556 328h4v4h-4zM732 328h16v4h-16zM940 328h36v4h-36zM236 332h12v4h-12zM316 332h16v4h-16zM464 332h4v4h-4zM492 332h20v4h-20zM552 332h8v4h-8zM732 332h8v4h-8zM948 332h28v4h-28zM248 336h4v4h-4zM312 336h24v4h-24zM460 336h16v4h-16zM480 336h32v4h-32zM552 336h4v4h-4zM732 336h4v4h-4zM252 340h4v4h-4zM308 340h8v4h-8zM332 340h8v4h-8zM456 340h20v4h-20zM484 340h28v4h-28zM552 340h4v4h-4zM728 340h8v4h-8zM252 344h4v4h-4zM304 344h8v4h-8zM336 344h4v4h-4zM456 344h16v4h-16zM508 344h8v4h-8zM548 344h8v4h-8zM724 344h8v4h-8zM256 348h4v4h-4zM296 348h12v4h-12zM336 348h8v4h-8zM460 348h8v4h-8zM512 348h8v4h-8zM548 348h4v4h-4zM716 348h4v4h-4zM724 348h4v4h-4zM260 352h8v4h-8zM292 352h16v4h-16zM336 352h8v4h-8zM516 352h8v4h-8zM544 352h8v4h-8zM668 352h8v4h-8zM684 352h32v4h-32zM264 356h40v4h-40zM340 356h8v4h-8zM516 356h12v4h-12zM532 356h16v4h-16zM664 356h4v4h-4zM700 356h12v4h-12zM276 360h24v4h-24zM340 360h8v4h-8zM524 360h16v4h-16zM652 360h8v4h-8zM340 364h12v4h-12zM428 364h12v4h-12zM620 364h36v4h-36zM344 368h104v4h-104zM616 368h4v4h-4zM636 368h16v4h-16zM348 372h24v4h-24zM436 372h16v4h-16zM612 372h4v4h-4zM640 372h8v4h-8zM448 376h12v4h-12zM608 376h4v4h-4zM644 376h4v4h-4zM456 380h8v4h-8zM608 380h4v4h-4zM460 384h8v4h-8zM608 384h4v4h-4zM648 384h8v4h-8zM464 388h8v4h-8zM608 388h4v4h-4zM648 388h28v4h-28zM472 392h4v4h-4zM604 392h4v4h-4zM648 392h16v4h-16zM672 392h32v4h-32zM708 392h4v4h-4zM472 396h8v4h-8zM484 396h4v4h-4zM600 396h4v4h-4zM652 396h8v4h-8zM712 396h8v4h-8zM472 400h8v4h-8zM592 400h8v4h-8zM652 400h8v4h-8zM720 400h8v4h-8zM816 400h12v4h-12zM472 404h4v4h-4zM592 404h4v4h-4zM652 404h8v4h-8zM724 404h8v4h-8zM812 404h20v4h-20zM472 408h4v4h-4zM588 408h8v4h-8zM652 408h8v4h-8zM728 408h8v4h-8zM808 408h32v4h-32zM472 412h4v4h-4zM588 412h8v4h-8zM652 412h8v4h-8zM732 412h8v4h-8zM804 412h16v4h-16zM836 412h8v4h-8zM476 416h4v4h-4zM592 416h4v4h-4zM652 416h8v4h-8zM732 416h8v4h-8zM804 416h16v4h-16zM840 416h4v4h-4zM480 420h8v4h-8zM596 420h4v4h-4zM652 420h8v4h-8zM728 420h12v4h-12zM808 420h16v4h-16zM844 420h4v4h-4zM484 424h32v4h-32zM596 424h8v4h-8zM652 424h8v4h-8zM728 424h8v4h-8zM816 424h12v4h-12zM844 424h4v4h-4zM520 428h20v4h-20zM600 428h8v4h-8zM652 428h12v4h-12zM724 428h4v4h-4zM824 428h20v4h-20zM544 432h8v4h-8zM604 432h8v4h-8zM652 432h16v4h-16zM720 432h4v4h-4zM552 436h8v4h-8zM608 436h8v4h-8zM656 436h16v4h-16zM712 436h4v4h-4zM560 440h8v4h-8zM612 440h8v4h-8zM664 440h12v4h-12zM704 440h4v4h-4zM568 444h4v4h-4zM616 444h4v4h-4zM680 444h16v4h-16zM568 448h8v4h-8zM616 448h4v4h-4zM572 452h4v4h-4zM616 452h8v4h-8zM572 456h4v4h-4zM620 456h4v4h-4zM568 460h4v4h-4zM620 460h4v4h-4zM568 464h4v4h-4zM620 464h4v4h-4zM564 468h4v4h-4zM620 468h4v4h-4zM492 472h8v4h-8zM560 472h4v4h-4zM620 472h4v4h-4zM480 476h4v4h-4zM528 476h16v4h-16zM616 480h4v4h-4zM616 484h4v4h-4zM468 488h4v4h-4zM616 488h4v4h-4zM464 492h4v4h-4zM616 492h4v4h-4zM616 496h4v4h-4zM440 500h4v4h-4zM616 500h4v4h-4zM432 504h4v4h-4zM616 504h4v4h-4zM428 508h4v4h-4zM616 508h4v4h-4zM616 512h4v4h-4zM424 516h4v4h-4zM612 516h8v4h-8zM608 520h8v4h-8zM420 524h4v4h-4zM604 524h8v4h-8zM420 528h4v4h-4zM600 528h8v4h-8zM600 532h4v4h-4zM420 536h4v4h-4zM596 536h4v4h-4zM592 540h8v4h-8zM428 544h4v4h-4zM588 544h8v4h-8zM448 548h4v4h-4zM584 548h8v4h-8zM452 552h4v4h-4zM572 552h8v4h-8zM456 556h4v4h-4zM564 556h8v4h-8zM556 560h8v4h-8zM552 564h4v4h-4zM304 604h8v4h-8zM316 604h12v4h-12zM300 608h8v4h-8zM332 608h4v4h-4zM332 612h4v4h-4zM332 616h8v4h-8zM332 620h8v4h-8zM332 624h8v4h-8zM332 628h4v4h-4zM536 632h28v4h-28zM528 636h20v4h-20zM560 636h8v4h-8zM524 640h20v4h-20zM568 640h4v4h-4zM528 644h16v4h-16zM568 644h4v4h-4zM528 648h12v4h-12zM568 648h8v4h-8zM532 652h12v4h-12zM568 652h8v4h-8zM536 656h8v4h-8zM564 656h8v4h-8zM540 660h32v4h-32z"/>
<path fill="#ff8a00" d="M844 128h8v4h-8zM836 132h4v4h-4zM848 132h4v4h-4zM828 136h4v4h-4zM848 136h4v4h-4zM820 140h4v4h-4zM844 140h4v4h-4zM816 148h4v4h-4zM840 148h4v4h-4zM836 152h4v4h-4zM832 160h4v4h-4zM828 164h4v4h-4zM812 168h4v4h-4zM828 168h4v4h-4zM808 172h4v4h-4zM828 172h4v4h-4zM804 176h4v4h-4zM804 180h4v4h-4zM824 184h4v4h-4zM824 188h4v4h-4zM804 192h4v4h-4zM824 192h4v4h-4zM804 196h4v4h-4zM536 212h8v4h-8zM556 212h8v4h-8zM532 216h8v4h-8zM564 216h4v4h-4zM828 216h4v4h-4zM320 220h8v4h-8zM532 220h4v4h-4zM564 220h4v4h-4zM800 220h4v4h-4zM828 220h4v4h-4zM320 224h4v4h-4zM532 224h8v4h-8zM560 224h8v4h-8zM828 224h4v4h-4zM540 228h16v4h-16zM832 244h4v4h-4zM832 248h4v4h-4zM832 252h4v4h-4zM288 256h12v4h-12zM284 260h4v4h-4zM300 260h4v4h-4zM796 260h4v4h-4zM836 260h4v4h-4zM280 264h8v4h-8zM300 264h4v4h-4zM796 264h4v4h-4zM836 264h4v4h-4zM280 268h8v4h-8zM300 268h4v4h-4zM796 268h4v4h-4zM840 268h4v4h-4zM284 272h8v4h-8zM296 272h8v4h-8zM796 272h4v4h-4zM840 272h4v4h-4zM288 276h12v4h-12zM796 276h4v4h-4zM844 276h4v4h-4zM796 280h4v4h-4zM844 280h4v4h-4zM936 280h4v4h-4zM404 284h4v4h-4zM516 284h24v4h-24zM796 284h8v4h-8zM840 284h8v4h-8zM400 288h12v4h-12zM440 288h4v4h-4zM508 288h36v4h-36zM800 288h8v4h-8zM840 288h4v4h-4zM404 292h4v4h-4zM440 292h8v4h-8zM504 292h44v4h-44zM800 292h12v4h-12zM836 292h4v4h-4zM500 296h8v4h-8zM536 296h12v4h-12zM800 296h16v4h-16zM824 296h4v4h-4zM500 300h8v4h-8zM540 300h12v4h-12zM800 300h12v4h-12zM820 300h4v4h-4zM500 304h8v4h-8zM544 304h8v4h-8zM800 304h12v4h-12zM500 308h12v4h-12zM544 308h8v4h-8zM800 308h20v4h-20zM856 308h44v4h-44zM500 312h12v4h-12zM548 312h4v4h-4zM800 312h4v4h-4zM816 312h12v4h-12zM848 312h4v4h-4zM892 312h4v4h-4zM908 312h8v4h-8zM504 316h12v4h-12zM548 316h8v4h-8zM828 316h16v4h-16zM912 316h16v4h-16zM508 320h8v4h-8zM548 320h8v4h-8zM916 320h16v4h-16zM512 324h4v4h-4zM548 324h8v4h-8zM920 324h16v4h-16zM512 328h4v4h-4zM548 328h8v4h-8zM748 328h4v4h-4zM920 328h20v4h-20zM224 332h12v4h-12zM512 332h8v4h-8zM548 332h4v4h-4zM740 332h12v4h-12zM920 332h28v4h-28zM224 336h24v4h-24zM512 336h8v4h-8zM544 336h8v4h-8zM736 336h12v4h-12zM920 336h56v4h-56zM248 340h4v4h-4zM316 340h16v4h-16zM512 340h8v4h-8zM544 340h8v4h-8zM736 340h8v4h-8zM920 340h56v4h-56zM248 344h4v4h-4zM312 344h8v4h-8zM328 344h8v4h-8zM516 344h8v4h-8zM544 344h4v4h-4zM732 344h4v4h-4zM920 344h56v4h-56zM248 348h8v4h-8zM308 348h8v4h-8zM332 348h4v4h-4zM520 348h4v4h-4zM536 348h12v4h-12zM720 348h4v4h-4zM728 348h4v4h-4zM920 348h20v4h-20zM252 352h8v4h-8zM308 352h8v4h-8zM332 352h4v4h-4zM524 352h20v4h-20zM676 352h8v4h-8zM716 352h12v4h-12zM912 352h20v4h-20zM252 356h12v4h-12zM304 356h12v4h-12zM332 356h8v4h-8zM528 356h4v4h-4zM668 356h8v4h-8zM688 356h12v4h-12zM712 356h12v4h-12zM908 356h20v4h-20zM260 360h16v4h-16zM300 360h20v4h-20zM328 360h12v4h-12zM660 360h8v4h-8zM700 360h16v4h-16zM904 360h20v4h-20zM268 364h72v4h-72zM656 364h4v4h-4zM704 364h8v4h-8zM900 364h24v4h-24zM280 368h64v4h-64zM620 368h16v4h-16zM652 368h4v4h-4zM900 368h24v4h-24zM284 372h64v4h-64zM372 372h64v4h-64zM616 372h4v4h-4zM636 372h4v4h-4zM648 372h8v4h-8zM900 372h20v4h-20zM296 376h4v4h-4zM336 376h44v4h-44zM416 376h32v4h-32zM612 376h4v4h-4zM640 376h4v4h-4zM648 376h8v4h-8zM900 376h16v4h-16zM444 380h12v4h-12zM640 380h20v4h-20zM904 380h4v4h-4zM452 384h8v4h-8zM644 384h4v4h-4zM656 384h16v4h-16zM816 384h12v4h-12zM456 388h8v4h-8zM644 388h4v4h-4zM676 388h20v4h-20zM708 388h8v4h-8zM812 388h16v4h-16zM456 392h16v4h-16zM608 392h4v4h-4zM644 392h4v4h-4zM704 392h4v4h-4zM712 392h12v4h-12zM812 392h20v4h-20zM456 396h16v4h-16zM604 396h4v4h-4zM644 396h8v4h-8zM720 396h12v4h-12zM808 396h28v4h-28zM456 400h16v4h-16zM600 400h4v4h-4zM648 400h4v4h-4zM728 400h8v4h-8zM804 400h12v4h-12zM828 400h12v4h-12zM456 404h16v4h-16zM596 404h4v4h-4zM648 404h4v4h-4zM732 404h8v4h-8zM800 404h12v4h-12zM832 404h12v4h-12zM464 408h8v4h-8zM596 408h4v4h-4zM648 408h4v4h-4zM736 408h12v4h-12zM792 408h16v4h-16zM840 408h4v4h-4zM468 412h4v4h-4zM596 412h4v4h-4zM648 412h4v4h-4zM740 412h12v4h-12zM788 412h16v4h-16zM844 412h4v4h-4zM468 416h8v4h-8zM596 416h8v4h-8zM648 416h4v4h-4zM740 416h12v4h-12zM788 416h16v4h-16zM844 416h8v4h-8zM328 420h8v4h-8zM472 420h8v4h-8zM600 420h8v4h-8zM644 420h8v4h-8zM740 420h12v4h-12zM792 420h16v4h-16zM848 420h4v4h-4zM324 424h12v4h-12zM348 424h8v4h-8zM476 424h8v4h-8zM604 424h8v4h-8zM644 424h8v4h-8zM736 424h12v4h-12zM800 424h16v4h-16zM848 424h4v4h-4zM480 428h40v4h-40zM608 428h8v4h-8zM640 428h12v4h-12zM728 428h16v4h-16zM808 428h16v4h-16zM844 428h8v4h-8zM484 432h12v4h-12zM528 432h16v4h-16zM612 432h8v4h-8zM640 432h12v4h-12zM724 432h8v4h-8zM820 432h28v4h-28zM544 436h8v4h-8zM616 436h8v4h-8zM636 436h20v4h-20zM716 436h8v4h-8zM556 440h4v4h-4zM620 440h8v4h-8zM636 440h28v4h-28zM708 440h4v4h-4zM564 444h4v4h-4zM620 444h12v4h-12zM640 444h40v4h-40zM564 448h4v4h-4zM620 448h12v4h-12zM684 448h4v4h-4zM568 452h4v4h-4zM624 452h8v4h-8zM568 456h4v4h-4zM624 456h8v4h-8zM564 460h4v4h-4zM624 460h8v4h-8zM564 464h4v4h-4zM624 464h4v4h-4zM560 468h4v4h-4zM624 468h4v4h-4zM484 472h8v4h-8zM500 472h8v4h-8zM516 472h4v4h-4zM548 472h12v4h-12zM624 472h4v4h-4zM476 476h4v4h-4zM620 476h4v4h-4zM472 480h4v4h-4zM620 480h4v4h-4zM468 484h4v4h-4zM620 484h4v4h-4zM620 488h4v4h-4zM456 492h8v4h-8zM620 492h4v4h-4zM448 496h4v4h-4zM620 496h4v4h-4zM436 500h4v4h-4zM620 500h4v4h-4zM620 504h8v4h-8zM620 508h8v4h-8zM424 512h4v4h-4zM620 512h8v4h-8zM620 516h4v4h-4zM420 520h4v4h-4zM616 520h8v4h-8zM612 524h8v4h-8zM608 528h8v4h-8zM604 532h8v4h-8zM600 536h8v4h-8zM420 540h4v4h-4zM600 540h4v4h-4zM424 544h4v4h-4zM596 544h4v4h-4zM436 548h12v4h-12zM592 548h4v4h-4zM448 552h4v4h-4zM580 552h12v4h-12zM452 556h4v4h-4zM572 556h4v4h-4zM456 560h4v4h-4zM564 560h4v4h-4zM456 564h4v4h-4zM556 564h4v4h-4zM552 568h4v4h-4zM300 600h24v4h-24zM296 604h8v4h-8zM328 604h4v4h-4zM288 608h12v4h-12zM336 608h4v4h-4zM336 612h4v4h-4zM340 616h4v4h-4zM340 620h4v4h-4zM528 620h8v4h-8zM340 624h8v4h-8zM528 624h28v4h-28zM528 628h36v4h-36zM524 632h12v4h-12zM564 632h8v4h-8zM520 636h8v4h-8zM568 636h8v4h-8zM572 640h4v4h-4zM572 644h8v4h-8zM576 648h4v4h-4zM576 652h4v4h-4zM572 656h8v4h-8zM572 660h8v4h-8z"/>
<path fill="#ff8000" d="M840 132h8v4h-8zM844 136h4v4h-4zM820 144h4v4h-4zM840 144h4v4h-4zM816 152h4v4h-4zM816 156h4v4h-4zM832 156h4v4h-4zM816 160h4v4h-4zM828 160h4v4h-4zM816 164h4v4h-4zM824 164h4v4h-4zM816 168h4v4h-4zM824 168h4v4h-4zM812 172h4v4h-4zM824 172h4v4h-4zM808 176h4v4h-4zM824 176h4v4h-4zM808 180h4v4h-4zM824 180h4v4h-4zM808 184h4v4h-4zM808 188h4v4h-4zM808 192h4v4h-4zM824 196h4v4h-4zM804 200h4v4h-4zM824 200h4v4h-4zM824 204h4v4h-4zM804 208h4v4h-4zM824 208h4v4h-4zM544 212h12v4h-12zM804 212h4v4h-4zM824 212h4v4h-4zM540 216h4v4h-4zM556 216h8v4h-8zM824 216h4v4h-4zM536 220h4v4h-4zM556 220h8v4h-8zM540 224h20v4h-20zM800 224h4v4h-4zM828 228h4v4h-4zM828 232h4v4h-4zM828 236h4v4h-4zM832 256h4v4h-4zM288 260h12v4h-12zM800 260h4v4h-4zM832 260h4v4h-4zM288 264h4v4h-4zM296 264h4v4h-4zM800 264h4v4h-4zM832 264h4v4h-4zM288 268h4v4h-4zM296 268h4v4h-4zM800 268h4v4h-4zM832 268h8v4h-8zM292 272h4v4h-4zM800 272h4v4h-4zM836 272h4v4h-4zM800 276h4v4h-4zM836 276h8v4h-8zM800 280h8v4h-8zM836 280h8v4h-8zM804 284h4v4h-4zM836 284h4v4h-4zM808 288h4v4h-4zM836 288h4v4h-4zM812 292h4v4h-4zM828 292h8v4h-8zM508 296h28v4h-28zM816 296h8v4h-8zM508 300h32v4h-32zM508 304h36v4h-36zM512 308h32v4h-32zM512 312h36v4h-36zM804 312h12v4h-12zM868 312h24v4h-24zM896 312h12v4h-12zM516 316h12v4h-12zM536 316h12v4h-12zM800 316h28v4h-28zM844 316h4v4h-4zM876 316h4v4h-4zM888 316h4v4h-4zM516 320h12v4h-12zM540 320h8v4h-8zM800 320h8v4h-8zM824 320h20v4h-20zM912 320h4v4h-4zM516 324h8v4h-8zM540 324h8v4h-8zM916 324h4v4h-4zM516 328h8v4h-8zM540 328h8v4h-8zM912 328h8v4h-8zM520 332h8v4h-8zM536 332h12v4h-12zM912 332h8v4h-8zM520 336h24v4h-24zM748 336h4v4h-4zM912 336h8v4h-8zM224 340h24v4h-24zM520 340h24v4h-24zM744 340h12v4h-12zM912 340h8v4h-8zM224 344h16v4h-16zM244 344h4v4h-4zM320 344h8v4h-8zM524 344h20v4h-20zM736 344h16v4h-16zM908 344h12v4h-12zM224 348h12v4h-12zM240 348h8v4h-8zM316 348h4v4h-4zM324 348h8v4h-8zM524 348h12v4h-12zM732 348h12v4h-12zM908 348h12v4h-12zM940 348h36v4h-36zM224 352h8v4h-8zM240 352h12v4h-12zM316 352h16v4h-16zM728 352h8v4h-8zM904 352h8v4h-8zM932 352h44v4h-44zM240 356h12v4h-12zM316 356h16v4h-16zM676 356h12v4h-12zM724 356h8v4h-8zM812 356h20v4h-20zM896 356h12v4h-12zM928 356h48v4h-48zM244 360h16v4h-16zM320 360h8v4h-8zM668 360h8v4h-8zM692 360h8v4h-8zM716 360h12v4h-12zM808 360h28v4h-28zM892 360h12v4h-12zM924 360h20v4h-20zM252 364h16v4h-16zM660 364h8v4h-8zM700 364h4v4h-4zM712 364h16v4h-16zM808 364h32v4h-32zM888 364h12v4h-12zM924 364h16v4h-16zM264 368h16v4h-16zM656 368h8v4h-8zM808 368h32v4h-32zM888 368h12v4h-12zM924 368h16v4h-16zM272 372h12v4h-12zM620 372h16v4h-16zM656 372h4v4h-4zM808 372h32v4h-32zM888 372h12v4h-12zM920 372h16v4h-16zM276 376h20v4h-20zM300 376h36v4h-36zM380 376h36v4h-36zM616 376h4v4h-4zM636 376h4v4h-4zM656 376h4v4h-4zM808 376h32v4h-32zM888 376h12v4h-12zM916 376h20v4h-20zM280 380h100v4h-100zM412 380h32v4h-32zM612 380h4v4h-4zM636 380h4v4h-4zM660 380h8v4h-8zM808 380h32v4h-32zM888 380h16v4h-16zM908 380h24v4h-24zM280 384h80v4h-80zM436 384h16v4h-16zM612 384h4v4h-4zM640 384h4v4h-4zM672 384h8v4h-8zM808 384h8v4h-8zM828 384h12v4h-12zM888 384h40v4h-40zM284 388h16v4h-16zM328 388h12v4h-12zM348 388h4v4h-4zM448 388h8v4h-8zM612 388h4v4h-4zM636 388h8v4h-8zM696 388h12v4h-12zM716 388h20v4h-20zM804 388h8v4h-8zM828 388h12v4h-12zM892 388h32v4h-32zM452 392h4v4h-4zM612 392h4v4h-4zM628 392h4v4h-4zM636 392h8v4h-8zM724 392h12v4h-12zM804 392h8v4h-8zM832 392h8v4h-8zM892 392h24v4h-24zM328 396h8v4h-8zM452 396h4v4h-4zM608 396h4v4h-4zM640 396h4v4h-4zM732 396h4v4h-4zM800 396h8v4h-8zM836 396h8v4h-8zM896 396h12v4h-12zM324 400h16v4h-16zM348 400h8v4h-8zM452 400h4v4h-4zM604 400h4v4h-4zM640 400h8v4h-8zM736 400h4v4h-4zM792 400h12v4h-12zM840 400h4v4h-4zM324 404h16v4h-16zM352 404h4v4h-4zM452 404h4v4h-4zM600 404h4v4h-4zM644 404h4v4h-4zM740 404h8v4h-8zM784 404h16v4h-16zM844 404h4v4h-4zM324 408h16v4h-16zM460 408h4v4h-4zM600 408h4v4h-4zM644 408h4v4h-4zM748 408h44v4h-44zM844 408h8v4h-8zM324 412h16v4h-16zM460 412h8v4h-8zM600 412h8v4h-8zM644 412h4v4h-4zM752 412h36v4h-36zM848 412h4v4h-4zM324 416h20v4h-20zM464 416h4v4h-4zM604 416h4v4h-4zM640 416h8v4h-8zM752 416h36v4h-36zM852 416h4v4h-4zM320 420h8v4h-8zM336 420h20v4h-20zM464 420h8v4h-8zM608 420h4v4h-4zM640 420h4v4h-4zM752 420h40v4h-40zM852 420h4v4h-4zM320 424h4v4h-4zM336 424h12v4h-12zM356 424h4v4h-4zM464 424h12v4h-12zM612 424h4v4h-4zM636 424h8v4h-8zM748 424h52v4h-52zM852 424h8v4h-8zM324 428h36v4h-36zM472 428h8v4h-8zM616 428h8v4h-8zM628 428h12v4h-12zM744 428h16v4h-16zM796 428h12v4h-12zM852 428h4v4h-4zM332 432h24v4h-24zM476 432h8v4h-8zM496 432h32v4h-32zM620 432h20v4h-20zM732 432h24v4h-24zM800 432h20v4h-20zM848 432h8v4h-8zM480 436h20v4h-20zM536 436h8v4h-8zM624 436h12v4h-12zM724 436h28v4h-28zM824 436h28v4h-28zM548 440h8v4h-8zM628 440h8v4h-8zM712 440h12v4h-12zM556 444h8v4h-8zM632 444h8v4h-8zM560 448h4v4h-4zM632 448h52v4h-52zM688 448h4v4h-4zM564 452h4v4h-4zM632 452h32v4h-32zM564 456h4v4h-4zM632 456h16v4h-16zM560 460h4v4h-4zM632 460h8v4h-8zM560 464h4v4h-4zM628 464h8v4h-8zM488 468h16v4h-16zM552 468h8v4h-8zM628 468h8v4h-8zM476 472h8v4h-8zM508 472h8v4h-8zM520 472h8v4h-8zM540 472h8v4h-8zM628 472h4v4h-4zM472 476h4v4h-4zM624 476h8v4h-8zM468 480h4v4h-4zM624 480h4v4h-4zM624 484h4v4h-4zM464 488h4v4h-4zM624 488h4v4h-4zM452 492h4v4h-4zM624 492h4v4h-4zM440 496h8v4h-8zM624 496h4v4h-4zM432 500h4v4h-4zM624 500h8v4h-8zM428 504h4v4h-4zM628 504h4v4h-4zM424 508h4v4h-4zM628 508h4v4h-4zM628 512h4v4h-4zM420 516h4v4h-4zM624 516h8v4h-8zM624 520h8v4h-8zM416 524h4v4h-4zM620 524h8v4h-8zM416 528h4v4h-4zM616 528h8v4h-8zM416 532h4v4h-4zM612 532h8v4h-8zM416 536h4v4h-4zM608 536h8v4h-8zM416 540h4v4h-4zM604 540h8v4h-8zM420 544h4v4h-4zM600 544h8v4h-8zM428 548h8v4h-8zM596 548h8v4h-8zM444 552h4v4h-4zM592 552h4v4h-4zM448 556h4v4h-4zM576 556h12v4h-12zM452 560h4v4h-4zM568 560h8v4h-8zM452 564h4v4h-4zM560 564h8v4h-8zM456 568h4v4h-4zM556 568h4v4h-4zM552 572h4v4h-4zM300 596h20v4h-20zM292 600h8v4h-8zM324 600h8v4h-8zM280 604h16v4h-16zM332 604h8v4h-8zM280 608h8v4h-8zM340 608h4v4h-4zM340 612h8v4h-8zM532 612h8v4h-8zM344 616h4v4h-4zM528 616h16v4h-16zM344 620h8v4h-8zM536 620h20v4h-20zM348 624h4v4h-4zM556 624h12v4h-12zM564 628h8v4h-8zM572 632h4v4h-4zM576 636h4v4h-4zM576 640h8v4h-8zM580 644h4v4h-4zM580 648h4v4h-4zM580 652h8v4h-8zM580 656h8v4h-8zM580 660h8v4h-8zM884 676h4v4h-4zM880 680h20v4h-20zM876 684h32v4h-32zM884 688h28v4h-28zM912 692h8v4h-8z"/>
<path fill="#ff7500" d="M832 136h12v4h-12zM824 140h8v4h-8zM840 140h4v4h-4zM820 148h4v4h-4zM836 148h4v4h-4zM820 152h4v4h-4zM832 152h4v4h-4zM820 156h12v4h-12zM820 160h8v4h-8zM820 164h4v4h-4zM820 168h4v4h-4zM816 172h8v4h-8zM812 176h12v4h-12zM812 180h12v4h-12zM812 184h12v4h-12zM812 188h12v4h-12zM812 192h12v4h-12zM808 196h4v4h-4zM820 196h4v4h-4zM820 200h4v4h-4zM804 204h4v4h-4zM820 204h4v4h-4zM820 208h4v4h-4zM544 216h12v4h-12zM804 216h4v4h-4zM540 220h16v4h-16zM804 220h4v4h-4zM824 220h4v4h-4zM824 224h4v4h-4zM800 228h4v4h-4zM800 232h4v4h-4zM800 236h4v4h-4zM800 240h4v4h-4zM828 240h4v4h-4zM800 244h4v4h-4zM828 244h4v4h-4zM800 248h4v4h-4zM828 248h4v4h-4zM800 252h4v4h-4zM828 252h4v4h-4zM800 256h4v4h-4zM828 256h4v4h-4zM828 260h4v4h-4zM292 264h4v4h-4zM828 264h4v4h-4zM292 268h4v4h-4zM804 268h4v4h-4zM828 268h4v4h-4zM804 272h4v4h-4zM828 272h8v4h-8zM804 276h4v4h-4zM832 276h4v4h-4zM808 280h4v4h-4zM832 280h4v4h-4zM808 284h4v4h-4zM832 284h4v4h-4zM812 288h4v4h-4zM828 288h8v4h-8zM816 292h4v4h-4zM824 292h4v4h-4zM852 312h4v4h-4zM528 316h8v4h-8zM848 316h4v4h-4zM872 316h4v4h-4zM880 316h8v4h-8zM892 316h4v4h-4zM908 316h4v4h-4zM528 320h12v4h-12zM808 320h16v4h-16zM844 320h4v4h-4zM872 320h20v4h-20zM524 324h16v4h-16zM800 324h44v4h-44zM912 324h4v4h-4zM524 328h16v4h-16zM796 328h44v4h-44zM528 332h8v4h-8zM796 332h40v4h-40zM796 336h40v4h-40zM796 340h40v4h-40zM908 340h4v4h-4zM240 344h4v4h-4zM752 344h8v4h-8zM796 344h40v4h-40zM236 348h4v4h-4zM320 348h4v4h-4zM744 348h20v4h-20zM796 348h44v4h-44zM884 348h4v4h-4zM904 348h4v4h-4zM232 352h8v4h-8zM736 352h20v4h-20zM792 352h48v4h-48zM884 352h8v4h-8zM900 352h4v4h-4zM220 356h20v4h-20zM732 356h16v4h-16zM796 356h16v4h-16zM832 356h12v4h-12zM880 356h16v4h-16zM216 360h28v4h-28zM676 360h16v4h-16zM728 360h8v4h-8zM796 360h12v4h-12zM836 360h12v4h-12zM880 360h12v4h-12zM944 360h32v4h-32zM212 364h40v4h-40zM668 364h8v4h-8zM692 364h8v4h-8zM728 364h4v4h-4zM796 364h12v4h-12zM840 364h12v4h-12zM876 364h12v4h-12zM940 364h36v4h-36zM224 368h40v4h-40zM664 368h4v4h-4zM700 368h16v4h-16zM724 368h4v4h-4zM744 368h4v4h-4zM796 368h12v4h-12zM840 368h16v4h-16zM880 368h8v4h-8zM940 368h36v4h-36zM256 372h16v4h-16zM660 372h8v4h-8zM800 372h8v4h-8zM840 372h16v4h-16zM884 372h4v4h-4zM936 372h36v4h-36zM264 376h12v4h-12zM620 376h16v4h-16zM660 376h8v4h-8zM800 376h8v4h-8zM840 376h16v4h-16zM884 376h4v4h-4zM936 376h24v4h-24zM268 380h12v4h-12zM380 380h32v4h-32zM616 380h4v4h-4zM632 380h4v4h-4zM668 380h8v4h-8zM800 380h8v4h-8zM840 380h12v4h-12zM932 380h24v4h-24zM272 384h8v4h-8zM360 384h24v4h-24zM408 384h28v4h-28zM616 384h4v4h-4zM636 384h4v4h-4zM680 384h60v4h-60zM800 384h8v4h-8zM840 384h8v4h-8zM928 384h24v4h-24zM272 388h12v4h-12zM300 388h28v4h-28zM340 388h8v4h-8zM352 388h12v4h-12zM428 388h20v4h-20zM616 388h4v4h-4zM628 388h8v4h-8zM736 388h4v4h-4zM796 388h8v4h-8zM840 388h4v4h-4zM888 388h4v4h-4zM924 388h24v4h-24zM276 392h84v4h-84zM440 392h12v4h-12zM616 392h4v4h-4zM624 392h4v4h-4zM632 392h4v4h-4zM736 392h4v4h-4zM796 392h8v4h-8zM840 392h8v4h-8zM916 392h28v4h-28zM276 396h52v4h-52zM336 396h24v4h-24zM448 396h4v4h-4zM612 396h4v4h-4zM632 396h8v4h-8zM736 396h4v4h-4zM788 396h12v4h-12zM844 396h8v4h-8zM892 396h4v4h-4zM908 396h20v4h-20zM276 400h32v4h-32zM320 400h4v4h-4zM340 400h8v4h-8zM356 400h4v4h-4zM444 400h8v4h-8zM608 400h4v4h-4zM636 400h4v4h-4zM740 400h4v4h-4zM752 400h16v4h-16zM780 400h12v4h-12zM844 400h16v4h-16zM896 400h24v4h-24zM288 404h20v4h-20zM320 404h4v4h-4zM340 404h12v4h-12zM448 404h4v4h-4zM604 404h8v4h-8zM636 404h8v4h-8zM748 404h36v4h-36zM848 404h16v4h-16zM896 404h16v4h-16zM292 408h12v4h-12zM320 408h4v4h-4zM340 408h8v4h-8zM448 408h12v4h-12zM604 408h4v4h-4zM640 408h4v4h-4zM852 408h12v4h-12zM900 408h8v4h-8zM320 412h4v4h-4zM340 412h8v4h-8zM456 412h4v4h-4zM608 412h4v4h-4zM636 412h8v4h-8zM852 412h16v4h-16zM320 416h4v4h-4zM344 416h4v4h-4zM456 416h8v4h-8zM608 416h8v4h-8zM636 416h4v4h-4zM856 416h12v4h-12zM300 420h4v4h-4zM316 420h4v4h-4zM356 420h4v4h-4zM452 420h12v4h-12zM612 420h8v4h-8zM628 420h12v4h-12zM856 420h12v4h-12zM300 424h8v4h-8zM312 424h8v4h-8zM360 424h4v4h-4zM456 424h8v4h-8zM616 424h20v4h-20zM860 424h8v4h-8zM316 428h8v4h-8zM360 428h4v4h-4zM456 428h16v4h-16zM624 428h4v4h-4zM760 428h36v4h-36zM856 428h8v4h-8zM320 432h12v4h-12zM356 432h8v4h-8zM464 432h12v4h-12zM756 432h16v4h-16zM792 432h8v4h-8zM856 432h8v4h-8zM328 436h32v4h-32zM468 436h12v4h-12zM500 436h36v4h-36zM812 436h12v4h-12zM852 436h12v4h-12zM476 440h28v4h-28zM540 440h8v4h-8zM724 440h28v4h-28zM828 440h32v4h-32zM484 444h8v4h-8zM548 444h8v4h-8zM696 444h16v4h-16zM844 444h4v4h-4zM556 448h4v4h-4zM692 448h4v4h-4zM560 452h4v4h-4zM664 452h8v4h-8zM560 456h4v4h-4zM648 456h16v4h-16zM556 460h4v4h-4zM640 460h16v4h-16zM484 464h16v4h-16zM552 464h8v4h-8zM636 464h16v4h-16zM476 468h12v4h-12zM504 468h20v4h-20zM544 468h8v4h-8zM636 468h8v4h-8zM472 472h4v4h-4zM528 472h12v4h-12zM632 472h8v4h-8zM468 476h4v4h-4zM632 476h4v4h-4zM464 480h4v4h-4zM628 480h8v4h-8zM464 484h4v4h-4zM628 484h4v4h-4zM456 488h8v4h-8zM628 488h4v4h-4zM628 492h8v4h-8zM436 496h4v4h-4zM628 496h8v4h-8zM428 500h4v4h-4zM632 500h4v4h-4zM424 504h4v4h-4zM632 504h8v4h-8zM420 508h4v4h-4zM632 508h8v4h-8zM420 512h4v4h-4zM632 512h8v4h-8zM416 516h4v4h-4zM632 516h8v4h-8zM416 520h4v4h-4zM632 520h4v4h-4zM628 524h8v4h-8zM624 528h8v4h-8zM620 532h8v4h-8zM616 536h8v4h-8zM612 540h8v4h-8zM416 544h4v4h-4zM608 544h8v4h-8zM424 548h4v4h-4zM604 548h8v4h-8zM440 552h4v4h-4zM596 552h8v4h-8zM444 556h4v4h-4zM588 556h8v4h-8zM448 560h4v4h-4zM576 560h8v4h-8zM568 564h4v4h-4zM452 568h4v4h-4zM560 568h4v4h-4zM456 572h4v4h-4zM556 572h4v4h-4zM456 576h4v4h-4zM552 576h4v4h-4zM296 592h24v4h-24zM284 596h16v4h-16zM320 596h4v4h-4zM272 600h20v4h-20zM332 600h4v4h-4zM276 604h4v4h-4zM340 604h4v4h-4zM344 608h4v4h-4zM536 608h8v4h-8zM348 612h4v4h-4zM540 612h8v4h-8zM348 616h8v4h-8zM544 616h16v4h-16zM352 620h4v4h-4zM556 620h16v4h-16zM568 624h8v4h-8zM572 628h8v4h-8zM576 632h8v4h-8zM580 636h4v4h-4zM584 640h4v4h-4zM584 644h8v4h-8zM584 648h8v4h-8zM588 652h4v4h-4zM588 656h8v4h-8zM588 660h8v4h-8zM744 668h16v4h-16zM736 672h24v4h-24zM888 672h4v4h-4zM748 676h16v4h-16zM876 676h8v4h-8zM888 676h20v4h-20zM872 680h8v4h-8zM900 680h24v4h-24zM864 684h12v4h-12zM908 684h20v4h-20zM912 688h20v4h-20zM920 692h16v4h-16zM936 696h4v4h-4z"/>
<path fill="#ff6b00" d="M832 140h8v4h-8zM824 144h16v4h-16zM824 148h12v4h-12zM824 152h8v4h-8zM812 196h8v4h-8zM808 200h12v4h-12zM808 204h12v4h-12zM808 208h12v4h-12zM808 212h4v4h-4zM816 212h8v4h-8zM808 216h4v4h-4zM820 216h4v4h-4zM820 220h4v4h-4zM804 224h4v4h-4zM824 228h4v4h-4zM824 232h4v4h-4zM824 236h4v4h-4zM804 256h4v4h-4zM804 260h4v4h-4zM824 260h4v4h-4zM804 264h4v4h-4zM824 264h4v4h-4zM824 268h4v4h-4zM808 272h4v4h-4zM824 272h4v4h-4zM808 276h8v4h-8zM824 276h8v4h-8zM812 280h20v4h-20zM812 284h20v4h-20zM816 288h12v4h-12zM820 292h4v4h-4zM864 312h4v4h-4zM896 316h4v4h-4zM892 320h4v4h-4zM844 324h4v4h-4zM872 324h20v4h-20zM840 328h4v4h-4zM872 328h20v4h-20zM836 332h8v4h-8zM876 332h16v4h-16zM836 336h8v4h-8zM876 336h16v4h-16zM908 336h4v4h-4zM836 340h8v4h-8zM876 340h16v4h-16zM836 344h8v4h-8zM876 344h16v4h-16zM904 344h4v4h-4zM840 348h4v4h-4zM876 348h8v4h-8zM888 348h4v4h-4zM756 352h12v4h-12zM840 352h8v4h-8zM872 352h12v4h-12zM892 352h8v4h-8zM748 356h24v4h-24zM788 356h8v4h-8zM844 356h12v4h-12zM864 356h16v4h-16zM736 360h24v4h-24zM780 360h16v4h-16zM848 360h32v4h-32zM676 364h16v4h-16zM732 364h20v4h-20zM784 364h12v4h-12zM852 364h24v4h-24zM208 368h16v4h-16zM668 368h8v4h-8zM692 368h8v4h-8zM716 368h8v4h-8zM728 368h4v4h-4zM740 368h4v4h-4zM748 368h4v4h-4zM788 368h8v4h-8zM856 368h8v4h-8zM876 368h4v4h-4zM212 372h44v4h-44zM668 372h4v4h-4zM696 372h20v4h-20zM728 372h4v4h-4zM740 372h8v4h-8zM788 372h12v4h-12zM856 372h4v4h-4zM880 372h4v4h-4zM972 372h4v4h-4zM220 376h12v4h-12zM252 376h12v4h-12zM668 376h4v4h-4zM712 376h4v4h-4zM728 376h16v4h-16zM788 376h12v4h-12zM856 376h4v4h-4zM960 376h16v4h-16zM260 380h8v4h-8zM620 380h12v4h-12zM676 380h68v4h-68zM792 380h8v4h-8zM852 380h8v4h-8zM884 380h4v4h-4zM956 380h20v4h-20zM264 384h8v4h-8zM384 384h24v4h-24zM620 384h4v4h-4zM632 384h4v4h-4zM740 384h4v4h-4zM788 384h12v4h-12zM848 384h12v4h-12zM884 384h4v4h-4zM952 384h20v4h-20zM264 388h8v4h-8zM364 388h20v4h-20zM408 388h20v4h-20zM620 388h8v4h-8zM740 388h4v4h-4zM788 388h8v4h-8zM844 388h16v4h-16zM948 388h16v4h-16zM268 392h8v4h-8zM360 392h16v4h-16zM420 392h20v4h-20zM620 392h4v4h-4zM740 392h4v4h-4zM752 392h8v4h-8zM788 392h8v4h-8zM848 392h16v4h-16zM944 392h16v4h-16zM268 396h8v4h-8zM360 396h4v4h-4zM428 396h20v4h-20zM616 396h16v4h-16zM740 396h4v4h-4zM748 396h20v4h-20zM780 396h8v4h-8zM852 396h12v4h-12zM928 396h24v4h-24zM268 400h8v4h-8zM308 400h12v4h-12zM360 400h4v4h-4zM376 400h4v4h-4zM428 400h16v4h-16zM612 400h4v4h-4zM632 400h4v4h-4zM744 400h8v4h-8zM768 400h12v4h-12zM860 400h8v4h-8zM892 400h4v4h-4zM920 400h16v4h-16zM272 404h16v4h-16zM308 404h12v4h-12zM356 404h8v4h-8zM432 404h16v4h-16zM612 404h4v4h-4zM632 404h4v4h-4zM864 404h4v4h-4zM912 404h12v4h-12zM284 408h8v4h-8zM304 408h8v4h-8zM348 408h4v4h-4zM440 408h8v4h-8zM608 408h8v4h-8zM632 408h8v4h-8zM864 408h4v4h-4zM896 408h4v4h-4zM908 408h8v4h-8zM288 412h24v4h-24zM316 412h4v4h-4zM440 412h16v4h-16zM612 412h4v4h-4zM632 412h4v4h-4zM868 412h4v4h-4zM896 412h16v4h-16zM288 416h32v4h-32zM348 416h12v4h-12zM444 416h12v4h-12zM616 416h20v4h-20zM868 416h4v4h-4zM900 416h4v4h-4zM292 420h8v4h-8zM304 420h12v4h-12zM360 420h8v4h-8zM444 420h8v4h-8zM620 420h8v4h-8zM868 420h4v4h-4zM292 424h8v4h-8zM308 424h4v4h-4zM364 424h8v4h-8zM444 424h12v4h-12zM868 424h8v4h-8zM296 428h20v4h-20zM364 428h8v4h-8zM448 428h8v4h-8zM864 428h12v4h-12zM308 432h12v4h-12zM364 432h8v4h-8zM452 432h12v4h-12zM772 432h20v4h-20zM864 432h8v4h-8zM316 436h12v4h-12zM360 436h12v4h-12zM460 436h8v4h-8zM752 436h20v4h-20zM796 436h16v4h-16zM864 436h8v4h-8zM328 440h36v4h-36zM464 440h12v4h-12zM504 440h36v4h-36zM816 440h12v4h-12zM860 440h8v4h-8zM348 444h8v4h-8zM468 444h16v4h-16zM492 444h16v4h-16zM540 444h8v4h-8zM712 444h8v4h-8zM832 444h12v4h-12zM848 444h20v4h-20zM472 448h28v4h-28zM548 448h8v4h-8zM472 452h28v4h-28zM552 452h8v4h-8zM672 452h4v4h-4zM684 452h4v4h-4zM472 456h28v4h-28zM552 456h8v4h-8zM664 456h8v4h-8zM472 460h32v4h-32zM548 460h8v4h-8zM656 460h12v4h-12zM468 464h16v4h-16zM500 464h20v4h-20zM544 464h8v4h-8zM652 464h8v4h-8zM464 468h12v4h-12zM524 468h20v4h-20zM644 468h12v4h-12zM464 472h8v4h-8zM640 472h12v4h-12zM464 476h4v4h-4zM636 476h12v4h-12zM460 480h4v4h-4zM636 480h8v4h-8zM456 484h8v4h-8zM632 484h12v4h-12zM452 488h4v4h-4zM632 488h12v4h-12zM448 492h4v4h-4zM636 492h8v4h-8zM432 496h4v4h-4zM636 496h8v4h-8zM424 500h4v4h-4zM636 500h8v4h-8zM420 504h4v4h-4zM640 504h4v4h-4zM640 508h4v4h-4zM416 512h4v4h-4zM640 512h4v4h-4zM640 516h4v4h-4zM412 520h4v4h-4zM636 520h8v4h-8zM412 524h4v4h-4zM636 524h4v4h-4zM412 528h4v4h-4zM632 528h8v4h-8zM412 532h4v4h-4zM628 532h8v4h-8zM412 536h4v4h-4zM624 536h8v4h-8zM412 540h4v4h-4zM620 540h8v4h-8zM616 544h8v4h-8zM420 548h4v4h-4zM612 548h8v4h-8zM424 552h16v4h-16zM604 552h8v4h-8zM440 556h4v4h-4zM596 556h12v4h-12zM444 560h4v4h-4zM584 560h12v4h-12zM448 564h4v4h-4zM572 564h8v4h-8zM448 568h4v4h-4zM564 568h8v4h-8zM452 572h4v4h-4zM560 572h4v4h-4zM452 576h4v4h-4zM556 576h4v4h-4zM452 580h4v4h-4zM552 580h4v4h-4zM260 588h12v4h-12zM292 588h24v4h-24zM264 592h32v4h-32zM320 592h4v4h-4zM268 596h16v4h-16zM324 596h12v4h-12zM336 600h8v4h-8zM344 604h4v4h-4zM540 604h8v4h-8zM348 608h4v4h-4zM544 608h8v4h-8zM352 612h4v4h-4zM548 612h20v4h-20zM356 616h4v4h-4zM560 616h16v4h-16zM356 620h8v4h-8zM572 620h8v4h-8zM576 624h8v4h-8zM580 628h4v4h-4zM584 632h4v4h-4zM584 636h8v4h-8zM588 640h8v4h-8zM592 644h4v4h-4zM592 648h8v4h-8zM592 652h8v4h-8zM596 656h8v4h-8zM596 660h12v4h-12zM740 664h20v4h-20zM724 668h20v4h-20zM760 668h4v4h-4zM720 672h16v4h-16zM760 672h8v4h-8zM832 672h4v4h-4zM876 672h12v4h-12zM892 672h28v4h-28zM764 676h8v4h-8zM828 676h12v4h-12zM868 676h8v4h-8zM908 676h24v4h-24zM824 680h48v4h-48zM924 680h12v4h-12zM848 684h16v4h-16zM928 684h12v4h-12zM932 688h16v4h-16zM936 692h20v4h-20zM940 696h24v4h-24z"/>
<path fill="#ff6100" d="M812 212h4v4h-4zM812 216h8v4h-8zM808 220h4v4h-4zM816 220h4v4h-4zM820 224h4v4h-4zM804 228h4v4h-4zM820 228h4v4h-4zM804 232h4v4h-4zM804 236h4v4h-4zM804 240h4v4h-4zM824 240h4v4h-4zM804 244h4v4h-4zM824 244h4v4h-4zM804 248h4v4h-4zM824 248h4v4h-4zM804 252h4v4h-4zM824 252h4v4h-4zM824 256h4v4h-4zM808 260h4v4h-4zM820 260h4v4h-4zM808 264h4v4h-4zM820 264h4v4h-4zM808 268h8v4h-8zM820 268h4v4h-4zM812 272h12v4h-12zM816 276h8v4h-8zM868 316h4v4h-4zM904 316h4v4h-4zM848 320h4v4h-4zM908 320h4v4h-4zM868 324h4v4h-4zM892 324h4v4h-4zM844 328h4v4h-4zM868 328h4v4h-4zM908 328h4v4h-4zM844 332h8v4h-8zM864 332h12v4h-12zM908 332h4v4h-4zM844 336h8v4h-8zM864 336h12v4h-12zM844 340h4v4h-4zM868 340h8v4h-8zM844 344h4v4h-4zM864 344h12v4h-12zM844 348h12v4h-12zM860 348h16v4h-16zM848 352h24v4h-24zM856 356h8v4h-8zM760 360h16v4h-16zM752 364h32v4h-32zM676 368h16v4h-16zM732 368h8v4h-8zM752 368h36v4h-36zM864 368h12v4h-12zM672 372h24v4h-24zM716 372h12v4h-12zM732 372h8v4h-8zM748 372h4v4h-4zM772 372h16v4h-16zM860 372h4v4h-4zM876 372h4v4h-4zM212 376h8v4h-8zM232 376h20v4h-20zM672 376h40v4h-40zM716 376h12v4h-12zM744 376h8v4h-8zM780 376h8v4h-8zM208 380h28v4h-28zM248 380h12v4h-12zM744 380h8v4h-8zM780 380h12v4h-12zM208 384h12v4h-12zM256 384h8v4h-8zM624 384h4v4h-4zM744 384h12v4h-12zM784 384h4v4h-4zM972 384h4v4h-4zM260 388h4v4h-4zM384 388h24v4h-24zM744 388h24v4h-24zM780 388h8v4h-8zM860 388h4v4h-4zM964 388h12v4h-12zM260 392h8v4h-8zM376 392h44v4h-44zM744 392h8v4h-8zM760 392h12v4h-12zM780 392h8v4h-8zM888 392h4v4h-4zM960 392h16v4h-16zM260 396h8v4h-8zM364 396h20v4h-20zM408 396h20v4h-20zM744 396h4v4h-4zM768 396h12v4h-12zM864 396h4v4h-4zM888 396h4v4h-4zM952 396h16v4h-16zM256 400h12v4h-12zM364 400h12v4h-12zM380 400h4v4h-4zM412 400h16v4h-16zM616 400h16v4h-16zM936 400h20v4h-20zM252 404h20v4h-20zM364 404h20v4h-20zM420 404h12v4h-12zM616 404h4v4h-4zM628 404h4v4h-4zM924 404h16v4h-16zM252 408h24v4h-24zM280 408h4v4h-4zM312 408h8v4h-8zM356 408h12v4h-12zM424 408h16v4h-16zM616 408h4v4h-4zM628 408h4v4h-4zM868 408h4v4h-4zM916 408h12v4h-12zM280 412h8v4h-8zM312 412h4v4h-4zM348 412h4v4h-4zM360 412h8v4h-8zM432 412h8v4h-8zM616 412h16v4h-16zM912 412h8v4h-8zM280 416h8v4h-8zM360 416h12v4h-12zM428 416h16v4h-16zM872 416h4v4h-4zM896 416h4v4h-4zM904 416h12v4h-12zM280 420h12v4h-12zM368 420h8v4h-8zM428 420h16v4h-16zM872 420h4v4h-4zM896 420h16v4h-16zM280 424h12v4h-12zM372 424h12v4h-12zM428 424h16v4h-16zM288 428h8v4h-8zM372 428h12v4h-12zM432 428h16v4h-16zM876 428h4v4h-4zM296 432h12v4h-12zM372 432h12v4h-12zM436 432h16v4h-16zM872 432h8v4h-8zM304 436h12v4h-12zM372 436h8v4h-8zM440 436h20v4h-20zM772 436h24v4h-24zM872 436h8v4h-8zM312 440h16v4h-16zM364 440h16v4h-16zM448 440h16v4h-16zM804 440h12v4h-12zM868 440h12v4h-12zM332 444h16v4h-16zM356 444h16v4h-16zM460 444h8v4h-8zM508 444h32v4h-32zM824 444h8v4h-8zM868 444h8v4h-8zM348 448h12v4h-12zM460 448h12v4h-12zM500 448h16v4h-16zM540 448h8v4h-8zM836 448h36v4h-36zM456 452h16v4h-16zM500 452h8v4h-8zM544 452h8v4h-8zM680 452h4v4h-4zM860 452h8v4h-8zM456 456h16v4h-16zM500 456h12v4h-12zM544 456h8v4h-8zM452 460h20v4h-20zM504 460h20v4h-20zM540 460h8v4h-8zM668 460h4v4h-4zM428 464h8v4h-8zM448 464h20v4h-20zM520 464h24v4h-24zM660 464h8v4h-8zM428 468h8v4h-8zM452 468h12v4h-12zM656 468h8v4h-8zM452 472h12v4h-12zM652 472h8v4h-8zM452 476h12v4h-12zM648 476h8v4h-8zM452 480h8v4h-8zM644 480h12v4h-12zM452 484h4v4h-4zM644 484h8v4h-8zM448 488h4v4h-4zM432 492h16v4h-16zM428 496h4v4h-4zM644 496h4v4h-4zM420 500h4v4h-4zM644 500h4v4h-4zM416 504h4v4h-4zM644 504h4v4h-4zM416 508h4v4h-4zM644 508h8v4h-8zM412 512h4v4h-4zM644 512h8v4h-8zM412 516h4v4h-4zM644 516h8v4h-8zM644 520h4v4h-4zM640 524h8v4h-8zM640 528h4v4h-4zM636 532h8v4h-8zM632 536h8v4h-8zM628 540h8v4h-8zM412 544h4v4h-4zM624 544h12v4h-12zM416 548h4v4h-4zM620 548h12v4h-12zM420 552h4v4h-4zM612 552h12v4h-12zM428 556h12v4h-12zM608 556h12v4h-12zM436 560h8v4h-8zM596 560h12v4h-12zM440 564h8v4h-8zM580 564h16v4h-16zM444 568h4v4h-4zM572 568h4v4h-4zM256 572h4v4h-4zM448 572h4v4h-4zM564 572h8v4h-8zM256 576h12v4h-12zM448 576h4v4h-4zM560 576h4v4h-4zM256 580h20v4h-20zM448 580h4v4h-4zM556 580h4v4h-4zM256 584h64v4h-64zM448 584h4v4h-4zM552 584h4v4h-4zM272 588h20v4h-20zM316 588h8v4h-8zM548 588h4v4h-4zM324 592h8v4h-8zM544 592h4v4h-4zM336 596h4v4h-4zM544 596h4v4h-4zM344 600h4v4h-4zM544 600h4v4h-4zM348 604h8v4h-8zM548 604h4v4h-4zM568 604h4v4h-4zM352 608h8v4h-8zM552 608h24v4h-24zM356 612h8v4h-8zM568 612h12v4h-12zM360 616h12v4h-12zM576 616h4v4h-4zM364 620h12v4h-12zM580 620h4v4h-4zM584 624h4v4h-4zM584 628h8v4h-8zM588 632h8v4h-8zM592 636h8v4h-8zM596 640h4v4h-4zM596 644h8v4h-8zM600 648h8v4h-8zM600 652h12v4h-12zM604 656h12v4h-12zM608 660h8v4h-8zM740 660h20v4h-20zM612 664h12v4h-12zM716 664h24v4h-24zM760 664h4v4h-4zM716 668h8v4h-8zM764 668h4v4h-4zM832 668h8v4h-8zM876 668h52v4h-52zM712 672h8v4h-8zM768 672h8v4h-8zM824 672h8v4h-8zM836 672h8v4h-8zM864 672h12v4h-12zM920 672h20v4h-20zM772 676h8v4h-8zM816 676h12v4h-12zM840 676h28v4h-28zM932 676h16v4h-16zM784 680h40v4h-40zM936 680h20v4h-20zM940 684h28v4h-28zM948 688h28v4h-28zM956 692h16v4h-16zM964 696h4v4h-4z"/>
<path fill="#ff5700" d="M812 220h4v4h-4zM808 224h4v4h-4zM816 224h4v4h-4zM808 228h4v4h-4zM808 232h4v4h-4zM820 232h4v4h-4zM808 236h4v4h-4zM820 236h4v4h-4zM808 240h4v4h-4zM820 240h4v4h-4zM820 244h4v4h-4zM820 248h4v4h-4zM808 252h4v4h-4zM820 252h4v4h-4zM808 256h16v4h-16zM812 260h8v4h-8zM812 264h8v4h-8zM816 268h4v4h-4zM856 312h4v4h-4zM900 316h4v4h-4zM868 320h4v4h-4zM848 324h4v4h-4zM908 324h4v4h-4zM848 328h8v4h-8zM864 328h4v4h-4zM892 328h4v4h-4zM852 332h12v4h-12zM852 336h12v4h-12zM848 340h20v4h-20zM892 340h4v4h-4zM904 340h4v4h-4zM848 344h16v4h-16zM856 348h4v4h-4zM892 348h4v4h-4zM900 348h4v4h-4zM752 372h20v4h-20zM752 376h28v4h-28zM236 380h12v4h-12zM752 380h28v4h-28zM220 384h16v4h-16zM248 384h8v4h-8zM628 384h4v4h-4zM756 384h28v4h-28zM860 384h4v4h-4zM208 388h20v4h-20zM256 388h4v4h-4zM768 388h12v4h-12zM884 388h4v4h-4zM208 392h16v4h-16zM256 392h4v4h-4zM772 392h8v4h-8zM864 392h4v4h-4zM208 396h8v4h-8zM256 396h4v4h-4zM384 396h24v4h-24zM968 396h8v4h-8zM252 400h4v4h-4zM384 400h28v4h-28zM956 400h20v4h-20zM248 404h4v4h-4zM384 404h36v4h-36zM620 404h8v4h-8zM868 404h4v4h-4zM940 404h20v4h-20zM248 408h4v4h-4zM276 408h4v4h-4zM352 408h4v4h-4zM368 408h8v4h-8zM392 408h32v4h-32zM620 408h8v4h-8zM892 408h4v4h-4zM928 408h12v4h-12zM248 412h32v4h-32zM352 412h8v4h-8zM368 412h8v4h-8zM408 412h24v4h-24zM872 412h4v4h-4zM892 412h4v4h-4zM920 412h12v4h-12zM252 416h28v4h-28zM372 416h8v4h-8zM408 416h20v4h-20zM916 416h8v4h-8zM264 420h16v4h-16zM376 420h52v4h-52zM912 420h8v4h-8zM272 424h8v4h-8zM384 424h44v4h-44zM876 424h4v4h-4zM896 424h20v4h-20zM276 428h12v4h-12zM384 428h48v4h-48zM880 428h4v4h-4zM892 428h16v4h-16zM284 432h12v4h-12zM384 432h16v4h-16zM416 432h20v4h-20zM880 432h20v4h-20zM292 436h12v4h-12zM380 436h16v4h-16zM420 436h20v4h-20zM880 436h12v4h-12zM300 440h12v4h-12zM380 440h12v4h-12zM424 440h24v4h-24zM788 440h16v4h-16zM880 440h8v4h-8zM312 444h20v4h-20zM372 444h16v4h-16zM424 444h36v4h-36zM812 444h12v4h-12zM876 444h8v4h-8zM328 448h20v4h-20zM360 448h24v4h-24zM424 448h36v4h-36zM516 448h24v4h-24zM828 448h8v4h-8zM872 448h8v4h-8zM344 452h24v4h-24zM424 452h32v4h-32zM508 452h24v4h-24zM536 452h8v4h-8zM676 452h4v4h-4zM844 452h16v4h-16zM868 452h8v4h-8zM420 456h36v4h-36zM512 456h32v4h-32zM420 460h32v4h-32zM524 460h16v4h-16zM420 464h8v4h-8zM436 464h12v4h-12zM420 468h8v4h-8zM436 468h16v4h-16zM424 472h28v4h-28zM428 476h24v4h-24zM656 476h4v4h-4zM436 480h16v4h-16zM436 484h16v4h-16zM652 484h4v4h-4zM432 488h16v4h-16zM644 488h4v4h-4zM428 492h4v4h-4zM644 492h4v4h-4zM420 496h8v4h-8zM648 496h4v4h-4zM416 500h4v4h-4zM648 500h4v4h-4zM364 504h4v4h-4zM412 504h4v4h-4zM648 504h12v4h-12zM364 508h4v4h-4zM412 508h4v4h-4zM652 508h8v4h-8zM652 512h8v4h-8zM408 516h4v4h-4zM652 516h8v4h-8zM408 520h4v4h-4zM648 520h8v4h-8zM408 524h4v4h-4zM648 524h8v4h-8zM408 528h4v4h-4zM644 528h8v4h-8zM408 532h4v4h-4zM644 532h4v4h-4zM408 536h4v4h-4zM640 536h8v4h-8zM408 540h4v4h-4zM636 540h8v4h-8zM408 544h4v4h-4zM636 544h8v4h-8zM412 548h4v4h-4zM632 548h8v4h-8zM244 552h8v4h-8zM416 552h4v4h-4zM624 552h16v4h-16zM248 556h12v4h-12zM420 556h8v4h-8zM620 556h16v4h-16zM248 560h12v4h-12zM428 560h8v4h-8zM608 560h20v4h-20zM248 564h16v4h-16zM436 564h4v4h-4zM596 564h16v4h-16zM252 568h16v4h-16zM440 568h4v4h-4zM576 568h20v4h-20zM260 572h16v4h-16zM444 572h4v4h-4zM572 572h4v4h-4zM268 576h16v4h-16zM296 576h12v4h-12zM444 576h4v4h-4zM564 576h8v4h-8zM276 580h44v4h-44zM444 580h4v4h-4zM560 580h8v4h-8zM320 584h8v4h-8zM444 584h4v4h-4zM556 584h4v4h-4zM324 588h12v4h-12zM444 588h4v4h-4zM552 588h4v4h-4zM332 592h12v4h-12zM548 592h4v4h-4zM340 596h8v4h-8zM548 596h4v4h-4zM348 600h8v4h-8zM548 600h4v4h-4zM568 600h8v4h-8zM356 604h8v4h-8zM552 604h8v4h-8zM564 604h4v4h-4zM572 604h8v4h-8zM360 608h12v4h-12zM576 608h4v4h-4zM364 612h12v4h-12zM580 612h4v4h-4zM372 616h8v4h-8zM580 616h8v4h-8zM584 620h8v4h-8zM588 624h8v4h-8zM592 628h8v4h-8zM596 632h8v4h-8zM600 636h8v4h-8zM600 640h12v4h-12zM604 644h12v4h-12zM608 648h12v4h-12zM612 652h12v4h-12zM616 656h12v4h-12zM716 656h8v4h-8zM616 660h20v4h-20zM716 660h24v4h-24zM760 660h4v4h-4zM624 664h20v4h-20zM712 664h4v4h-4zM764 664h4v4h-4zM832 664h4v4h-4zM880 664h56v4h-56zM708 668h8v4h-8zM768 668h8v4h-8zM824 668h8v4h-8zM840 668h4v4h-4zM860 668h16v4h-16zM928 668h24v4h-24zM708 672h4v4h-4zM776 672h8v4h-8zM812 672h12v4h-12zM844 672h20v4h-20zM940 672h24v4h-24zM780 676h36v4h-36zM948 676h28v4h-28zM956 680h20v4h-20zM968 684h8v4h-8z"/>
<path fill="#ff4c00" d="M812 224h4v4h-4zM812 228h8v4h-8zM812 232h8v4h-8zM812 236h8v4h-8zM812 240h8v4h-8zM808 244h4v4h-4zM816 244h4v4h-4zM808 248h4v4h-4zM812 252h8v4h-8zM860 312h4v4h-4zM852 316h4v4h-4zM856 328h8v4h-8zM892 332h4v4h-4zM892 336h4v4h-4zM892 344h4v4h-4zM900 344h4v4h-4zM860 376h4v4h-4zM880 376h4v4h-4zM860 380h4v4h-4zM236 384h12v4h-12zM880 384h4v4h-4zM228 388h8v4h-8zM248 388h8v4h-8zM224 392h8v4h-8zM252 392h4v4h-4zM216 396h16v4h-16zM252 396h4v4h-4zM212 400h20v4h-20zM868 400h4v4h-4zM888 400h4v4h-4zM212 404h20v4h-20zM892 404h4v4h-4zM960 404h16v4h-16zM244 408h4v4h-4zM376 408h16v4h-16zM940 408h24v4h-24zM244 412h4v4h-4zM376 412h32v4h-32zM932 412h8v4h-8zM248 416h4v4h-4zM380 416h28v4h-28zM892 416h4v4h-4zM924 416h12v4h-12zM248 420h16v4h-16zM920 420h8v4h-8zM256 424h16v4h-16zM892 424h4v4h-4zM916 424h8v4h-8zM268 428h8v4h-8zM884 428h8v4h-8zM908 428h8v4h-8zM276 432h8v4h-8zM400 432h16v4h-16zM900 432h12v4h-12zM284 436h8v4h-8zM396 436h24v4h-24zM892 436h12v4h-12zM292 440h8v4h-8zM392 440h32v4h-32zM784 440h4v4h-4zM888 440h12v4h-12zM300 444h12v4h-12zM388 444h36v4h-36zM800 444h12v4h-12zM884 444h12v4h-12zM308 448h20v4h-20zM384 448h40v4h-40zM820 448h8v4h-8zM880 448h12v4h-12zM324 452h20v4h-20zM368 452h56v4h-56zM532 452h4v4h-4zM836 452h8v4h-8zM876 452h8v4h-8zM344 456h76v4h-76zM672 456h4v4h-4zM856 456h28v4h-28zM396 460h24v4h-24zM400 464h20v4h-20zM400 468h20v4h-20zM400 472h24v4h-24zM400 476h28v4h-28zM400 480h36v4h-36zM380 484h56v4h-56zM372 488h60v4h-60zM648 488h4v4h-4zM368 492h60v4h-60zM648 492h4v4h-4zM660 492h4v4h-4zM360 496h40v4h-40zM404 496h16v4h-16zM652 496h4v4h-4zM660 496h4v4h-4zM360 500h32v4h-32zM404 500h12v4h-12zM652 500h12v4h-12zM356 504h8v4h-8zM368 504h16v4h-16zM404 504h8v4h-8zM660 504h8v4h-8zM356 508h8v4h-8zM368 508h12v4h-12zM408 508h4v4h-4zM660 508h8v4h-8zM360 512h12v4h-12zM408 512h4v4h-4zM660 512h8v4h-8zM404 516h4v4h-4zM660 516h4v4h-4zM404 520h4v4h-4zM656 520h8v4h-8zM404 524h4v4h-4zM656 524h8v4h-8zM404 528h4v4h-4zM652 528h8v4h-8zM404 532h4v4h-4zM648 532h12v4h-12zM404 536h4v4h-4zM648 536h8v4h-8zM404 540h4v4h-4zM644 540h8v4h-8zM240 544h12v4h-12zM644 544h8v4h-8zM244 548h16v4h-16zM408 548h4v4h-4zM640 548h12v4h-12zM252 552h12v4h-12zM412 552h4v4h-4zM640 552h8v4h-8zM260 556h4v4h-4zM412 556h8v4h-8zM636 556h12v4h-12zM260 560h8v4h-8zM420 560h8v4h-8zM628 560h20v4h-20zM264 564h8v4h-8zM428 564h8v4h-8zM612 564h36v4h-36zM268 568h12v4h-12zM436 568h4v4h-4zM596 568h52v4h-52zM276 572h40v4h-40zM440 572h4v4h-4zM576 572h20v4h-20zM640 572h4v4h-4zM284 576h12v4h-12zM308 576h16v4h-16zM440 576h4v4h-4zM572 576h8v4h-8zM320 580h12v4h-12zM440 580h4v4h-4zM568 580h8v4h-8zM328 584h12v4h-12zM440 584h4v4h-4zM560 584h12v4h-12zM336 588h8v4h-8zM436 588h8v4h-8zM556 588h4v4h-4zM344 592h4v4h-4zM436 592h8v4h-8zM552 592h4v4h-4zM348 596h12v4h-12zM432 596h4v4h-4zM552 596h4v4h-4zM568 596h12v4h-12zM356 600h12v4h-12zM552 600h4v4h-4zM564 600h4v4h-4zM576 600h8v4h-8zM364 604h12v4h-12zM428 604h4v4h-4zM560 604h4v4h-4zM580 604h4v4h-4zM372 608h12v4h-12zM420 608h8v4h-8zM580 608h8v4h-8zM376 612h8v4h-8zM412 612h12v4h-12zM584 612h8v4h-8zM416 616h4v4h-4zM588 616h8v4h-8zM592 620h12v4h-12zM596 624h12v4h-12zM600 628h12v4h-12zM604 632h12v4h-12zM608 636h12v4h-12zM612 640h12v4h-12zM616 644h16v4h-16zM620 648h20v4h-20zM624 652h24v4h-24zM628 656h24v4h-24zM712 656h4v4h-4zM724 656h8v4h-8zM756 656h4v4h-4zM636 660h24v4h-24zM712 660h4v4h-4zM764 660h4v4h-4zM880 660h76v4h-76zM644 664h20v4h-20zM708 664h4v4h-4zM768 664h8v4h-8zM824 664h8v4h-8zM836 664h44v4h-44zM936 664h40v4h-40zM664 668h12v4h-12zM700 668h8v4h-8zM776 668h12v4h-12zM800 668h24v4h-24zM844 668h16v4h-16zM952 668h24v4h-24zM784 672h28v4h-28zM964 672h12v4h-12z"/>
<path fill="#ff4200" d="M812 244h4v4h-4zM812 248h8v4h-8zM896 320h4v4h-4zM852 324h4v4h-4zM896 348h4v4h-4zM864 372h4v4h-4zM872 372h4v4h-4zM236 388h12v4h-12zM864 388h4v4h-4zM880 388h4v4h-4zM232 392h8v4h-8zM248 392h4v4h-4zM232 396h4v4h-4zM232 400h4v4h-4zM248 400h4v4h-4zM232 404h4v4h-4zM244 404h4v4h-4zM208 408h36v4h-36zM872 408h4v4h-4zM964 408h12v4h-12zM208 412h36v4h-36zM940 412h36v4h-36zM240 416h8v4h-8zM936 416h8v4h-8zM244 420h4v4h-4zM876 420h4v4h-4zM892 420h4v4h-4zM928 420h8v4h-8zM248 424h8v4h-8zM924 424h8v4h-8zM256 428h12v4h-12zM916 428h12v4h-12zM268 432h8v4h-8zM912 432h8v4h-8zM272 436h12v4h-12zM904 436h12v4h-12zM280 440h12v4h-12zM900 440h8v4h-8zM288 444h12v4h-12zM896 444h8v4h-8zM296 448h12v4h-12zM812 448h8v4h-8zM892 448h8v4h-8zM304 452h20v4h-20zM824 452h12v4h-12zM884 452h12v4h-12zM320 456h24v4h-24zM844 456h12v4h-12zM884 456h12v4h-12zM336 460h60v4h-60zM868 460h24v4h-24zM360 464h40v4h-40zM880 464h8v4h-8zM364 468h36v4h-36zM884 468h4v4h-4zM368 472h32v4h-32zM368 476h32v4h-32zM364 480h36v4h-36zM360 484h20v4h-20zM360 488h12v4h-12zM660 488h4v4h-4zM356 492h12v4h-12zM652 492h4v4h-4zM664 492h4v4h-4zM352 496h8v4h-8zM400 496h4v4h-4zM656 496h4v4h-4zM664 496h4v4h-4zM352 500h8v4h-8zM392 500h12v4h-12zM664 500h8v4h-8zM352 504h4v4h-4zM384 504h20v4h-20zM668 504h4v4h-4zM352 508h4v4h-4zM380 508h28v4h-28zM668 508h8v4h-8zM352 512h8v4h-8zM372 512h36v4h-36zM668 512h4v4h-4zM356 516h24v4h-24zM392 516h12v4h-12zM664 516h8v4h-8zM396 520h8v4h-8zM664 520h8v4h-8zM400 524h4v4h-4zM664 524h8v4h-8zM400 528h4v4h-4zM660 528h8v4h-8zM228 532h16v4h-16zM400 532h4v4h-4zM660 532h8v4h-8zM232 536h20v4h-20zM400 536h4v4h-4zM656 536h12v4h-12zM236 540h20v4h-20zM400 540h4v4h-4zM652 540h12v4h-12zM252 544h8v4h-8zM404 544h4v4h-4zM652 544h12v4h-12zM260 548h4v4h-4zM404 548h4v4h-4zM652 548h8v4h-8zM264 552h4v4h-4zM404 552h8v4h-8zM648 552h12v4h-12zM264 556h4v4h-4zM408 556h4v4h-4zM648 556h12v4h-12zM920 556h4v4h-4zM268 560h8v4h-8zM296 560h4v4h-4zM412 560h8v4h-8zM648 560h12v4h-12zM272 564h40v4h-40zM416 564h12v4h-12zM648 564h12v4h-12zM280 568h44v4h-44zM428 568h8v4h-8zM648 568h8v4h-8zM316 572h16v4h-16zM436 572h4v4h-4zM596 572h44v4h-44zM644 572h12v4h-12zM324 576h16v4h-16zM436 576h4v4h-4zM580 576h24v4h-24zM624 576h28v4h-28zM332 580h16v4h-16zM436 580h4v4h-4zM576 580h16v4h-16zM632 580h16v4h-16zM340 584h12v4h-12zM432 584h8v4h-8zM572 584h16v4h-16zM344 588h16v4h-16zM432 588h4v4h-4zM560 588h24v4h-24zM348 592h20v4h-20zM428 592h8v4h-8zM556 592h4v4h-4zM564 592h24v4h-24zM360 596h16v4h-16zM424 596h8v4h-8zM556 596h4v4h-4zM564 596h4v4h-4zM580 596h8v4h-8zM368 600h16v4h-16zM420 600h12v4h-12zM556 600h8v4h-8zM584 600h4v4h-4zM376 604h52v4h-52zM584 604h4v4h-4zM384 608h36v4h-36zM588 608h8v4h-8zM592 612h16v4h-16zM596 616h20v4h-20zM604 620h20v4h-20zM608 624h24v4h-24zM612 628h36v4h-36zM616 632h40v4h-40zM620 636h36v4h-36zM624 640h36v4h-36zM632 644h28v4h-28zM640 648h24v4h-24zM648 652h20v4h-20zM716 652h12v4h-12zM912 652h24v4h-24zM940 652h36v4h-36zM652 656h20v4h-20zM732 656h24v4h-24zM760 656h8v4h-8zM880 656h96v4h-96zM660 660h16v4h-16zM708 660h4v4h-4zM768 660h8v4h-8zM820 660h60v4h-60zM956 660h20v4h-20zM664 664h24v4h-24zM700 664h8v4h-8zM776 664h48v4h-48zM676 668h24v4h-24zM788 668h12v4h-12z"/>
<path fill="#ff3800" d="M852 320h4v4h-4zM904 332h4v4h-4zM904 336h4v4h-4zM896 344h4v4h-4zM868 372h4v4h-4zM876 376h4v4h-4zM240 392h8v4h-8zM236 396h4v4h-4zM248 396h4v4h-4zM868 396h4v4h-4zM884 396h4v4h-4zM236 400h4v4h-4zM884 400h4v4h-4zM236 404h8v4h-8zM208 416h32v4h-32zM876 416h4v4h-4zM944 416h32v4h-32zM208 420h12v4h-12zM232 420h12v4h-12zM936 420h12v4h-12zM240 424h8v4h-8zM880 424h4v4h-4zM888 424h4v4h-4zM932 424h8v4h-8zM248 428h8v4h-8zM928 428h8v4h-8zM256 432h12v4h-12zM920 432h12v4h-12zM264 436h8v4h-8zM916 436h8v4h-8zM272 440h8v4h-8zM908 440h12v4h-12zM280 444h8v4h-8zM904 444h8v4h-8zM288 448h8v4h-8zM808 448h4v4h-4zM900 448h8v4h-8zM292 452h12v4h-12zM816 452h8v4h-8zM896 452h8v4h-8zM300 456h20v4h-20zM832 456h12v4h-12zM896 456h4v4h-4zM316 460h20v4h-20zM856 460h12v4h-12zM892 460h8v4h-8zM332 464h28v4h-28zM872 464h8v4h-8zM888 464h8v4h-8zM348 468h4v4h-4zM356 468h8v4h-8zM880 468h4v4h-4zM888 468h4v4h-4zM356 472h12v4h-12zM352 476h16v4h-16zM352 480h12v4h-12zM660 480h12v4h-12zM352 484h8v4h-8zM660 484h8v4h-8zM348 488h12v4h-12zM652 488h4v4h-4zM664 488h4v4h-4zM348 492h8v4h-8zM656 492h4v4h-4zM348 496h4v4h-4zM668 496h4v4h-4zM344 500h8v4h-8zM672 500h4v4h-4zM344 504h8v4h-8zM672 504h4v4h-4zM924 504h4v4h-4zM344 508h8v4h-8zM344 512h8v4h-8zM672 512h8v4h-8zM348 516h8v4h-8zM380 516h12v4h-12zM672 516h8v4h-8zM224 520h4v4h-4zM356 520h40v4h-40zM672 520h4v4h-4zM224 524h16v4h-16zM388 524h12v4h-12zM672 524h4v4h-4zM228 528h24v4h-24zM392 528h8v4h-8zM668 528h8v4h-8zM244 532h12v4h-12zM396 532h4v4h-4zM668 532h8v4h-8zM252 536h8v4h-8zM396 536h4v4h-4zM668 536h8v4h-8zM256 540h8v4h-8zM396 540h4v4h-4zM664 540h12v4h-12zM260 544h4v4h-4zM396 544h8v4h-8zM664 544h12v4h-12zM264 548h4v4h-4zM400 548h4v4h-4zM660 548h12v4h-12zM268 552h4v4h-4zM292 552h16v4h-16zM400 552h4v4h-4zM660 552h12v4h-12zM268 556h8v4h-8zM288 556h24v4h-24zM404 556h4v4h-4zM660 556h8v4h-8zM276 560h20v4h-20zM300 560h20v4h-20zM404 560h8v4h-8zM660 560h8v4h-8zM312 564h16v4h-16zM408 564h8v4h-8zM660 564h8v4h-8zM324 568h12v4h-12zM408 568h20v4h-20zM656 568h12v4h-12zM332 572h20v4h-20zM416 572h20v4h-20zM656 572h8v4h-8zM340 576h16v4h-16zM424 576h12v4h-12zM604 576h20v4h-20zM652 576h12v4h-12zM348 580h16v4h-16zM424 580h12v4h-12zM592 580h40v4h-40zM648 580h12v4h-12zM352 584h20v4h-20zM420 584h12v4h-12zM588 584h12v4h-12zM608 584h52v4h-52zM360 588h20v4h-20zM416 588h16v4h-16zM584 588h12v4h-12zM616 588h44v4h-44zM368 592h20v4h-20zM412 592h16v4h-16zM560 592h4v4h-4zM588 592h8v4h-8zM616 592h40v4h-40zM376 596h48v4h-48zM560 596h4v4h-4zM588 596h12v4h-12zM612 596h44v4h-44zM384 600h36v4h-36zM588 600h68v4h-68zM588 604h68v4h-68zM596 608h60v4h-60zM608 612h52v4h-52zM616 616h44v4h-44zM624 620h40v4h-40zM632 624h36v4h-36zM648 628h24v4h-24zM656 632h20v4h-20zM656 636h20v4h-20zM660 640h16v4h-16zM660 644h16v4h-16zM952 644h24v4h-24zM664 648h16v4h-16zM720 648h4v4h-4zM912 648h64v4h-64zM668 652h12v4h-12zM712 652h4v4h-4zM728 652h8v4h-8zM756 652h12v4h-12zM832 652h8v4h-8zM884 652h28v4h-28zM936 652h4v4h-4zM672 656h12v4h-12zM708 656h4v4h-4zM768 656h8v4h-8zM808 656h72v4h-72zM676 660h16v4h-16zM700 660h8v4h-8zM776 660h8v4h-8zM792 660h28v4h-28zM688 664h12v4h-12z"/>
<path fill="#ff2e00" d="M904 320h4v4h-4zM864 324h4v4h-4zM896 324h4v4h-4zM896 328h4v4h-4zM904 328h4v4h-4zM896 340h8v4h-8zM880 380h4v4h-4zM864 384h4v4h-4zM240 396h8v4h-8zM240 400h4v4h-4zM872 404h4v4h-4zM888 408h4v4h-4zM220 420h12v4h-12zM948 420h28v4h-28zM208 424h32v4h-32zM940 424h12v4h-12zM968 424h8v4h-8zM208 428h8v4h-8zM240 428h8v4h-8zM936 428h8v4h-8zM248 432h8v4h-8zM932 432h8v4h-8zM256 436h8v4h-8zM924 436h12v4h-12zM264 440h8v4h-8zM920 440h12v4h-12zM272 444h8v4h-8zM912 444h12v4h-12zM276 448h12v4h-12zM704 448h4v4h-4zM744 448h12v4h-12zM908 448h8v4h-8zM284 452h8v4h-8zM688 452h12v4h-12zM748 452h8v4h-8zM904 452h8v4h-8zM292 456h8v4h-8zM676 456h4v4h-4zM824 456h8v4h-8zM900 456h8v4h-8zM296 460h20v4h-20zM852 460h4v4h-4zM900 460h8v4h-8zM308 464h24v4h-24zM868 464h4v4h-4zM896 464h8v4h-8zM328 468h20v4h-20zM352 468h4v4h-4zM876 468h4v4h-4zM892 468h8v4h-8zM336 472h20v4h-20zM660 472h12v4h-12zM884 472h8v4h-8zM340 476h12v4h-12zM660 476h16v4h-16zM340 480h12v4h-12zM672 480h4v4h-4zM344 484h8v4h-8zM656 484h4v4h-4zM344 488h4v4h-4zM656 488h4v4h-4zM340 492h8v4h-8zM340 496h8v4h-8zM212 500h4v4h-4zM340 500h4v4h-4zM676 500h4v4h-4zM216 504h4v4h-4zM340 504h4v4h-4zM676 504h4v4h-4zM928 504h4v4h-4zM216 508h8v4h-8zM336 508h8v4h-8zM676 508h4v4h-4zM216 512h16v4h-16zM336 512h8v4h-8zM680 512h4v4h-4zM220 516h20v4h-20zM336 516h12v4h-12zM680 516h4v4h-4zM228 520h20v4h-20zM340 520h16v4h-16zM676 520h8v4h-8zM240 524h12v4h-12zM348 524h40v4h-40zM676 524h8v4h-8zM252 528h8v4h-8zM380 528h12v4h-12zM676 528h8v4h-8zM256 532h4v4h-4zM388 532h8v4h-8zM676 532h8v4h-8zM260 536h4v4h-4zM388 536h8v4h-8zM676 536h8v4h-8zM264 540h4v4h-4zM392 540h4v4h-4zM676 540h8v4h-8zM264 544h8v4h-8zM296 544h16v4h-16zM392 544h4v4h-4zM676 544h4v4h-4zM268 548h8v4h-8zM288 548h32v4h-32zM392 548h8v4h-8zM672 548h8v4h-8zM272 552h4v4h-4zM280 552h12v4h-12zM308 552h16v4h-16zM392 552h8v4h-8zM672 552h8v4h-8zM276 556h12v4h-12zM312 556h16v4h-16zM396 556h8v4h-8zM668 556h8v4h-8zM320 560h16v4h-16zM396 560h8v4h-8zM668 560h8v4h-8zM328 564h16v4h-16zM396 564h12v4h-12zM668 564h8v4h-8zM336 568h20v4h-20zM396 568h12v4h-12zM668 568h4v4h-4zM352 572h16v4h-16zM396 572h20v4h-20zM664 572h8v4h-8zM356 576h28v4h-28zM388 576h36v4h-36zM664 576h8v4h-8zM364 580h60v4h-60zM660 580h12v4h-12zM372 584h48v4h-48zM600 584h8v4h-8zM660 584h8v4h-8zM380 588h36v4h-36zM596 588h20v4h-20zM660 588h8v4h-8zM388 592h24v4h-24zM596 592h20v4h-20zM656 592h12v4h-12zM600 596h12v4h-12zM656 596h12v4h-12zM656 600h12v4h-12zM656 604h12v4h-12zM656 608h16v4h-16zM660 612h12v4h-12zM660 616h16v4h-16zM664 620h12v4h-12zM668 624h12v4h-12zM672 628h12v4h-12zM676 632h12v4h-12zM968 632h8v4h-8zM676 636h12v4h-12zM952 636h24v4h-24zM676 640h12v4h-12zM940 640h36v4h-36zM676 644h12v4h-12zM908 644h44v4h-44zM680 648h8v4h-8zM712 648h8v4h-8zM724 648h8v4h-8zM760 648h8v4h-8zM820 648h32v4h-32zM892 648h20v4h-20zM680 652h12v4h-12zM708 652h4v4h-4zM736 652h4v4h-4zM752 652h4v4h-4zM768 652h8v4h-8zM800 652h32v4h-32zM840 652h44v4h-44zM684 656h12v4h-12zM704 656h4v4h-4zM776 656h8v4h-8zM792 656h16v4h-16zM692 660h8v4h-8zM784 660h8v4h-8z"/>
<path fill="#ff2400" d="M896 332h4v4h-4zM896 336h4v4h-4zM884 392h4v4h-4zM244 400h4v4h-4zM888 412h4v4h-4zM884 424h4v4h-4zM952 424h16v4h-16zM216 428h24v4h-24zM944 428h32v4h-32zM208 432h12v4h-12zM240 432h8v4h-8zM940 432h12v4h-12zM968 432h8v4h-8zM208 436h8v4h-8zM252 436h4v4h-4zM936 436h12v4h-12zM208 440h4v4h-4zM256 440h8v4h-8zM932 440h12v4h-12zM208 444h4v4h-4zM264 444h8v4h-8zM720 444h32v4h-32zM924 444h16v4h-16zM268 448h8v4h-8zM700 448h4v4h-4zM708 448h36v4h-36zM756 448h4v4h-4zM916 448h12v4h-12zM272 452h12v4h-12zM700 452h48v4h-48zM756 452h4v4h-4zM912 452h8v4h-8zM280 456h12v4h-12zM684 456h20v4h-20zM748 456h12v4h-12zM820 456h4v4h-4zM908 456h8v4h-8zM288 460h8v4h-8zM908 460h8v4h-8zM208 464h4v4h-4zM296 464h12v4h-12zM668 464h8v4h-8zM904 464h8v4h-8zM204 468h8v4h-8zM300 468h28v4h-28zM664 468h12v4h-12zM872 468h4v4h-4zM900 468h8v4h-8zM208 472h8v4h-8zM320 472h16v4h-16zM672 472h8v4h-8zM880 472h4v4h-4zM892 472h12v4h-12zM208 476h8v4h-8zM328 476h12v4h-12zM676 476h8v4h-8zM208 480h12v4h-12zM332 480h8v4h-8zM656 480h4v4h-4zM676 480h4v4h-4zM212 484h8v4h-8zM336 484h8v4h-8zM668 484h4v4h-4zM212 488h12v4h-12zM336 488h8v4h-8zM212 492h12v4h-12zM336 492h4v4h-4zM212 496h16v4h-16zM336 496h4v4h-4zM672 496h8v4h-8zM216 500h16v4h-16zM332 500h8v4h-8zM680 500h4v4h-4zM916 500h16v4h-16zM220 504h16v4h-16zM332 504h8v4h-8zM680 504h4v4h-4zM932 504h4v4h-4zM224 508h16v4h-16zM328 508h8v4h-8zM680 508h4v4h-4zM232 512h16v4h-16zM328 512h8v4h-8zM684 512h4v4h-4zM240 516h12v4h-12zM324 516h12v4h-12zM684 516h4v4h-4zM248 520h8v4h-8zM320 520h20v4h-20zM684 520h4v4h-4zM252 524h8v4h-8zM316 524h32v4h-32zM684 524h4v4h-4zM260 528h4v4h-4zM312 528h68v4h-68zM684 528h4v4h-4zM260 532h8v4h-8zM308 532h44v4h-44zM372 532h16v4h-16zM684 532h8v4h-8zM264 536h4v4h-4zM300 536h40v4h-40zM380 536h8v4h-8zM684 536h8v4h-8zM268 540h8v4h-8zM288 540h48v4h-48zM380 540h12v4h-12zM684 540h8v4h-8zM272 544h24v4h-24zM312 544h24v4h-24zM384 544h8v4h-8zM680 544h8v4h-8zM276 548h12v4h-12zM320 548h16v4h-16zM384 548h8v4h-8zM680 548h8v4h-8zM276 552h4v4h-4zM324 552h12v4h-12zM384 552h8v4h-8zM680 552h4v4h-4zM328 556h16v4h-16zM384 556h12v4h-12zM676 556h8v4h-8zM336 560h16v4h-16zM380 560h16v4h-16zM676 560h8v4h-8zM920 560h4v4h-4zM344 564h52v4h-52zM676 564h4v4h-4zM356 568h40v4h-40zM672 568h8v4h-8zM368 572h28v4h-28zM672 572h8v4h-8zM384 576h4v4h-4zM672 576h8v4h-8zM672 580h4v4h-4zM668 584h8v4h-8zM668 588h8v4h-8zM668 592h8v4h-8zM668 596h8v4h-8zM668 600h12v4h-12zM668 604h12v4h-12zM672 608h8v4h-8zM672 612h12v4h-12zM676 616h8v4h-8zM676 620h12v4h-12zM680 624h8v4h-8zM964 624h12v4h-12zM684 628h8v4h-8zM952 628h24v4h-24zM688 632h4v4h-4zM944 632h24v4h-24zM688 636h4v4h-4zM936 636h16v4h-16zM688 640h4v4h-4zM912 640h28v4h-28zM688 644h4v4h-4zM712 644h16v4h-16zM764 644h8v4h-8zM804 644h56v4h-56zM904 644h4v4h-4zM688 648h8v4h-8zM708 648h4v4h-4zM732 648h4v4h-4zM752 648h8v4h-8zM768 648h12v4h-12zM792 648h28v4h-28zM852 648h40v4h-40zM692 652h4v4h-4zM740 652h4v4h-4zM748 652h4v4h-4zM776 652h8v4h-8zM788 652h12v4h-12zM696 656h8v4h-8zM784 656h8v4h-8z"/>
<path fill="#ff1a00" d="M900 320h4v4h-4zM856 324h4v4h-4zM904 324h4v4h-4zM864 376h4v4h-4zM872 376h4v4h-4zM864 380h4v4h-4zM876 380h4v4h-4zM876 384h4v4h-4zM868 392h4v4h-4zM880 392h4v4h-4zM888 404h4v4h-4zM876 412h4v4h-4zM220 432h20v4h-20zM952 432h16v4h-16zM216 436h12v4h-12zM240 436h12v4h-12zM948 436h28v4h-28zM212 440h8v4h-8zM252 440h4v4h-4zM944 440h32v4h-32zM212 444h8v4h-8zM256 444h8v4h-8zM940 444h36v4h-36zM208 448h8v4h-8zM260 448h8v4h-8zM696 448h4v4h-4zM760 448h4v4h-4zM928 448h48v4h-48zM208 452h8v4h-8zM260 452h12v4h-12zM760 452h4v4h-4zM920 452h40v4h-40zM968 452h8v4h-8zM208 456h12v4h-12zM264 456h16v4h-16zM704 456h24v4h-24zM736 456h12v4h-12zM760 456h4v4h-4zM916 456h40v4h-40zM208 460h12v4h-12zM276 460h12v4h-12zM672 460h4v4h-4zM680 460h36v4h-36zM748 460h16v4h-16zM916 460h8v4h-8zM944 460h4v4h-4zM212 464h16v4h-16zM284 464h12v4h-12zM676 464h4v4h-4zM684 464h16v4h-16zM912 464h8v4h-8zM212 468h20v4h-20zM244 468h12v4h-12zM292 468h8v4h-8zM676 468h12v4h-12zM908 468h8v4h-8zM216 472h24v4h-24zM244 472h8v4h-8zM300 472h20v4h-20zM680 472h8v4h-8zM876 472h4v4h-4zM904 472h12v4h-12zM216 476h24v4h-24zM312 476h16v4h-16zM684 476h4v4h-4zM884 476h28v4h-28zM220 480h20v4h-20zM324 480h8v4h-8zM680 480h4v4h-4zM220 484h20v4h-20zM328 484h8v4h-8zM680 484h4v4h-4zM224 488h16v4h-16zM332 488h4v4h-4zM224 492h16v4h-16zM332 492h4v4h-4zM668 492h4v4h-4zM680 492h4v4h-4zM228 496h16v4h-16zM328 496h8v4h-8zM680 496h8v4h-8zM912 496h24v4h-24zM232 500h12v4h-12zM328 500h4v4h-4zM684 500h4v4h-4zM932 500h8v4h-8zM236 504h12v4h-12zM324 504h8v4h-8zM684 504h4v4h-4zM936 504h4v4h-4zM240 508h12v4h-12zM316 508h12v4h-12zM684 508h8v4h-8zM936 508h8v4h-8zM248 512h8v4h-8zM312 512h16v4h-16zM688 512h4v4h-4zM252 516h8v4h-8zM312 516h12v4h-12zM688 516h4v4h-4zM256 520h8v4h-8zM308 520h12v4h-12zM688 520h4v4h-4zM260 524h8v4h-8zM304 524h12v4h-12zM688 524h8v4h-8zM264 528h4v4h-4zM300 528h12v4h-12zM688 528h8v4h-8zM268 532h4v4h-4zM292 532h16v4h-16zM352 532h20v4h-20zM692 532h4v4h-4zM268 536h32v4h-32zM340 536h20v4h-20zM368 536h12v4h-12zM692 536h4v4h-4zM276 540h12v4h-12zM336 540h20v4h-20zM372 540h8v4h-8zM692 540h4v4h-4zM336 544h16v4h-16zM372 544h12v4h-12zM688 544h8v4h-8zM336 548h16v4h-16zM372 548h12v4h-12zM688 548h8v4h-8zM336 552h16v4h-16zM368 552h16v4h-16zM684 552h8v4h-8zM344 556h40v4h-40zM684 556h8v4h-8zM916 556h4v4h-4zM352 560h28v4h-28zM684 560h4v4h-4zM680 564h8v4h-8zM680 568h8v4h-8zM680 572h4v4h-4zM680 576h4v4h-4zM676 580h8v4h-8zM676 584h8v4h-8zM676 588h8v4h-8zM676 592h8v4h-8zM676 596h8v4h-8zM680 600h8v4h-8zM680 604h8v4h-8zM680 608h8v4h-8zM684 612h4v4h-4zM968 612h8v4h-8zM684 616h8v4h-8zM960 616h16v4h-16zM688 620h4v4h-4zM952 620h24v4h-24zM688 624h8v4h-8zM944 624h20v4h-20zM692 628h4v4h-4zM936 628h16v4h-16zM692 632h8v4h-8zM780 632h12v4h-12zM932 632h12v4h-12zM692 636h8v4h-8zM772 636h80v4h-80zM916 636h4v4h-4zM932 636h4v4h-4zM692 640h8v4h-8zM716 640h4v4h-4zM760 640h116v4h-116zM904 640h8v4h-8zM692 644h8v4h-8zM704 644h8v4h-8zM728 644h8v4h-8zM752 644h12v4h-12zM772 644h32v4h-32zM860 644h36v4h-36zM900 644h4v4h-4zM696 648h4v4h-4zM704 648h4v4h-4zM736 648h4v4h-4zM748 648h4v4h-4zM780 648h12v4h-12zM696 652h12v4h-12zM744 652h4v4h-4zM784 652h4v4h-4z"/>
<path fill="#ff0f00" d="M864 316h4v4h-4zM900 328h4v4h-4zM900 332h4v4h-4zM900 336h4v4h-4zM872 400h4v4h-4zM884 404h4v4h-4zM888 416h4v4h-4zM880 420h4v4h-4zM888 420h4v4h-4zM228 436h12v4h-12zM220 440h12v4h-12zM244 440h8v4h-8zM220 444h4v4h-4zM252 444h4v4h-4zM752 444h4v4h-4zM216 448h8v4h-8zM252 448h8v4h-8zM764 448h4v4h-4zM216 452h12v4h-12zM252 452h8v4h-8zM764 452h4v4h-4zM960 452h8v4h-8zM220 456h8v4h-8zM252 456h12v4h-12zM680 456h4v4h-4zM728 456h8v4h-8zM764 456h4v4h-4zM956 456h20v4h-20zM220 460h16v4h-16zM240 460h36v4h-36zM676 460h4v4h-4zM716 460h12v4h-12zM740 460h8v4h-8zM764 460h8v4h-8zM924 460h20v4h-20zM948 460h28v4h-28zM228 464h56v4h-56zM680 464h4v4h-4zM700 464h24v4h-24zM752 464h16v4h-16zM920 464h56v4h-56zM232 468h12v4h-12zM256 468h16v4h-16zM280 468h12v4h-12zM688 468h24v4h-24zM916 468h60v4h-60zM240 472h4v4h-4zM252 472h12v4h-12zM288 472h12v4h-12zM688 472h8v4h-8zM916 472h8v4h-8zM932 472h44v4h-44zM240 476h20v4h-20zM296 476h16v4h-16zM688 476h4v4h-4zM912 476h12v4h-12zM936 476h20v4h-20zM240 480h20v4h-20zM304 480h20v4h-20zM684 480h4v4h-4zM888 480h36v4h-36zM936 480h12v4h-12zM240 484h16v4h-16zM316 484h12v4h-12zM676 484h4v4h-4zM684 484h4v4h-4zM900 484h40v4h-40zM240 488h12v4h-12zM324 488h8v4h-8zM668 488h4v4h-4zM680 488h8v4h-8zM904 488h40v4h-40zM240 492h12v4h-12zM324 492h8v4h-8zM684 492h4v4h-4zM908 492h36v4h-36zM244 496h12v4h-12zM320 496h8v4h-8zM688 496h4v4h-4zM908 496h4v4h-4zM936 496h8v4h-8zM244 500h12v4h-12zM316 500h12v4h-12zM688 500h4v4h-4zM940 500h8v4h-8zM248 504h12v4h-12zM312 504h12v4h-12zM688 504h4v4h-4zM940 504h8v4h-8zM252 508h8v4h-8zM308 508h8v4h-8zM692 508h4v4h-4zM944 508h4v4h-4zM256 512h8v4h-8zM304 512h8v4h-8zM692 512h4v4h-4zM260 516h8v4h-8zM300 516h12v4h-12zM692 516h8v4h-8zM264 520h8v4h-8zM296 520h12v4h-12zM692 520h8v4h-8zM268 524h12v4h-12zM288 524h16v4h-16zM696 524h4v4h-4zM268 528h32v4h-32zM696 528h4v4h-4zM272 532h20v4h-20zM696 532h8v4h-8zM360 536h8v4h-8zM696 536h8v4h-8zM356 540h16v4h-16zM696 540h8v4h-8zM352 544h20v4h-20zM696 544h8v4h-8zM352 548h20v4h-20zM696 548h4v4h-4zM352 552h16v4h-16zM692 552h8v4h-8zM692 556h4v4h-4zM688 560h8v4h-8zM916 560h4v4h-4zM688 564h8v4h-8zM688 568h4v4h-4zM684 572h8v4h-8zM684 576h8v4h-8zM684 580h8v4h-8zM684 584h8v4h-8zM684 588h8v4h-8zM684 592h8v4h-8zM684 596h8v4h-8zM972 596h4v4h-4zM688 600h4v4h-4zM968 600h8v4h-8zM688 604h4v4h-4zM960 604h16v4h-16zM688 608h8v4h-8zM952 608h24v4h-24zM688 612h8v4h-8zM832 612h16v4h-16zM948 612h20v4h-20zM692 616h8v4h-8zM828 616h28v4h-28zM944 616h16v4h-16zM692 620h8v4h-8zM780 620h12v4h-12zM820 620h36v4h-36zM940 620h12v4h-12zM696 624h8v4h-8zM772 624h84v4h-84zM936 624h8v4h-8zM696 628h8v4h-8zM768 628h92v4h-92zM932 628h4v4h-4zM700 632h8v4h-8zM760 632h20v4h-20zM792 632h76v4h-76zM700 636h16v4h-16zM756 636h16v4h-16zM852 636h24v4h-24zM908 636h8v4h-8zM920 636h4v4h-4zM700 640h16v4h-16zM720 640h16v4h-16zM748 640h12v4h-12zM876 640h16v4h-16zM700 644h4v4h-4zM736 644h16v4h-16zM896 644h4v4h-4zM700 648h4v4h-4zM740 648h8v4h-8z"/>
<path fill="#ff0500" d="M900 324h4v4h-4zM868 388h4v4h-4zM876 388h4v4h-4zM880 396h4v4h-4zM876 408h4v4h-4zM232 440h12v4h-12zM224 444h16v4h-16zM244 444h8v4h-8zM760 444h8v4h-8zM224 448h12v4h-12zM248 448h4v4h-4zM768 448h4v4h-4zM228 452h8v4h-8zM244 452h8v4h-8zM768 452h4v4h-4zM228 456h24v4h-24zM768 456h4v4h-4zM236 460h4v4h-4zM736 460h4v4h-4zM772 460h4v4h-4zM724 464h4v4h-4zM744 464h8v4h-8zM768 464h8v4h-8zM272 468h8v4h-8zM712 468h16v4h-16zM756 468h16v4h-16zM264 472h24v4h-24zM696 472h8v4h-8zM924 472h8v4h-8zM260 476h36v4h-36zM692 476h4v4h-4zM924 476h12v4h-12zM956 476h20v4h-20zM260 480h8v4h-8zM288 480h16v4h-16zM688 480h4v4h-4zM924 480h12v4h-12zM948 480h28v4h-28zM256 484h12v4h-12zM296 484h20v4h-20zM672 484h4v4h-4zM688 484h4v4h-4zM892 484h8v4h-8zM940 484h36v4h-36zM252 488h12v4h-12zM304 488h20v4h-20zM688 488h4v4h-4zM900 488h4v4h-4zM944 488h16v4h-16zM964 488h12v4h-12zM252 492h12v4h-12zM308 492h16v4h-16zM676 492h4v4h-4zM688 492h4v4h-4zM904 492h4v4h-4zM944 492h12v4h-12zM972 492h4v4h-4zM256 496h8v4h-8zM308 496h12v4h-12zM692 496h4v4h-4zM944 496h12v4h-12zM972 496h4v4h-4zM256 500h8v4h-8zM304 500h12v4h-12zM692 500h4v4h-4zM948 500h8v4h-8zM260 504h8v4h-8zM300 504h12v4h-12zM692 504h8v4h-8zM948 504h12v4h-12zM260 508h12v4h-12zM296 508h12v4h-12zM696 508h4v4h-4zM948 508h12v4h-12zM264 512h12v4h-12zM292 512h12v4h-12zM696 512h8v4h-8zM952 512h8v4h-8zM268 516h32v4h-32zM700 516h4v4h-4zM956 516h4v4h-4zM272 520h24v4h-24zM700 520h8v4h-8zM912 520h8v4h-8zM280 524h8v4h-8zM700 524h8v4h-8zM916 524h12v4h-12zM700 528h8v4h-8zM920 528h12v4h-12zM704 532h4v4h-4zM704 536h8v4h-8zM704 540h8v4h-8zM704 544h4v4h-4zM700 548h8v4h-8zM700 552h8v4h-8zM696 556h8v4h-8zM696 560h8v4h-8zM696 564h4v4h-4zM692 568h8v4h-8zM868 568h16v4h-16zM692 572h8v4h-8zM864 572h28v4h-28zM692 576h8v4h-8zM856 576h40v4h-40zM972 576h4v4h-4zM692 580h8v4h-8zM852 580h44v4h-44zM972 580h4v4h-4zM692 584h8v4h-8zM848 584h48v4h-48zM968 584h8v4h-8zM692 588h8v4h-8zM840 588h52v4h-52zM932 588h8v4h-8zM964 588h12v4h-12zM692 592h8v4h-8zM832 592h56v4h-56zM932 592h20v4h-20zM956 592h20v4h-20zM692 596h8v4h-8zM828 596h52v4h-52zM928 596h44v4h-44zM692 600h8v4h-8zM772 600h12v4h-12zM820 600h56v4h-56zM928 600h40v4h-40zM692 604h8v4h-8zM764 604h28v4h-28zM816 604h56v4h-56zM928 604h32v4h-32zM696 608h8v4h-8zM764 608h104v4h-104zM928 608h24v4h-24zM696 612h8v4h-8zM760 612h72v4h-72zM848 612h20v4h-20zM932 612h16v4h-16zM700 616h8v4h-8zM756 616h72v4h-72zM856 616h12v4h-12zM936 616h8v4h-8zM700 620h12v4h-12zM756 620h24v4h-24zM792 620h28v4h-28zM856 620h12v4h-12zM936 620h4v4h-4zM704 624h8v4h-8zM752 624h20v4h-20zM856 624h16v4h-16zM932 624h4v4h-4zM704 628h12v4h-12zM748 628h20v4h-20zM860 628h12v4h-12zM928 628h4v4h-4zM708 632h12v4h-12zM744 632h16v4h-16zM868 632h4v4h-4zM908 632h12v4h-12zM716 636h40v4h-40zM876 636h16v4h-16zM904 636h4v4h-4zM928 636h4v4h-4zM736 640h12v4h-12zM892 640h4v4h-4z"/>
<path fill="#fa0000" d="M856 316h4v4h-4zM860 324h4v4h-4zM868 376h4v4h-4zM872 380h4v4h-4zM876 392h4v4h-4zM872 396h4v4h-4zM880 400h4v4h-4zM884 408h4v4h-4zM880 416h4v4h-4zM760 440h16v4h-16zM240 444h4v4h-4zM756 444h4v4h-4zM768 444h8v4h-8zM236 448h12v4h-12zM772 448h4v4h-4zM236 452h8v4h-8zM772 452h4v4h-4zM772 456h4v4h-4zM776 460h16v4h-16zM736 464h8v4h-8zM776 464h20v4h-20zM728 468h8v4h-8zM752 468h4v4h-4zM772 468h16v4h-16zM704 472h36v4h-36zM764 472h12v4h-12zM696 476h4v4h-4zM268 480h20v4h-20zM692 480h4v4h-4zM268 484h28v4h-28zM692 484h4v4h-4zM264 488h8v4h-8zM284 488h20v4h-20zM692 488h4v4h-4zM960 488h4v4h-4zM264 492h8v4h-8zM288 492h20v4h-20zM672 492h4v4h-4zM692 492h4v4h-4zM956 492h16v4h-16zM264 496h8v4h-8zM288 496h20v4h-20zM696 496h4v4h-4zM956 496h16v4h-16zM264 500h40v4h-40zM696 500h4v4h-4zM956 500h20v4h-20zM268 504h32v4h-32zM700 504h4v4h-4zM960 504h16v4h-16zM272 508h24v4h-24zM700 508h4v4h-4zM960 508h16v4h-16zM276 512h16v4h-16zM704 512h4v4h-4zM960 512h16v4h-16zM704 516h8v4h-8zM912 516h12v4h-12zM960 516h16v4h-16zM708 520h4v4h-4zM908 520h4v4h-4zM920 520h8v4h-8zM960 520h16v4h-16zM708 524h8v4h-8zM912 524h4v4h-4zM928 524h4v4h-4zM964 524h12v4h-12zM708 528h8v4h-8zM912 528h8v4h-8zM932 528h4v4h-4zM708 532h8v4h-8zM916 532h32v4h-32zM712 536h4v4h-4zM712 540h4v4h-4zM708 544h8v4h-8zM708 548h8v4h-8zM708 552h4v4h-4zM868 552h16v4h-16zM704 556h8v4h-8zM860 556h28v4h-28zM704 560h8v4h-8zM856 560h44v4h-44zM972 560h4v4h-4zM700 564h8v4h-8zM760 564h16v4h-16zM852 564h64v4h-64zM968 564h8v4h-8zM700 568h8v4h-8zM756 568h24v4h-24zM852 568h16v4h-16zM884 568h44v4h-44zM960 568h16v4h-16zM700 572h8v4h-8zM756 572h28v4h-28zM844 572h20v4h-20zM892 572h48v4h-48zM952 572h24v4h-24zM700 576h8v4h-8zM752 576h36v4h-36zM840 576h16v4h-16zM896 576h76v4h-76zM700 580h8v4h-8zM752 580h40v4h-40zM832 580h20v4h-20zM896 580h76v4h-76zM700 584h8v4h-8zM748 584h48v4h-48zM824 584h24v4h-24zM896 584h72v4h-72zM700 588h12v4h-12zM744 588h96v4h-96zM892 588h40v4h-40zM940 588h24v4h-24zM700 592h12v4h-12zM740 592h92v4h-92zM888 592h44v4h-44zM952 592h4v4h-4zM700 596h12v4h-12zM736 596h92v4h-92zM880 596h48v4h-48zM700 600h16v4h-16zM732 600h40v4h-40zM784 600h36v4h-36zM876 600h24v4h-24zM904 600h24v4h-24zM700 604h64v4h-64zM792 604h24v4h-24zM872 604h16v4h-16zM912 604h16v4h-16zM704 608h60v4h-60zM868 608h16v4h-16zM916 608h12v4h-12zM704 612h56v4h-56zM868 612h12v4h-12zM924 612h8v4h-8zM708 616h48v4h-48zM868 616h12v4h-12zM932 616h4v4h-4zM712 620h44v4h-44zM868 620h12v4h-12zM712 624h40v4h-40zM872 624h4v4h-4zM716 628h32v4h-32zM880 628h8v4h-8zM720 632h24v4h-24zM872 632h4v4h-4zM880 632h16v4h-16zM900 632h8v4h-8zM920 632h4v4h-4zM928 632h4v4h-4zM892 636h4v4h-4zM900 636h4v4h-4zM924 636h4v4h-4zM900 640h4v4h-4z"/>
<path fill="#f00000" d="M868 384h8v4h-8zM872 392h4v4h-4zM876 404h8v4h-8zM884 412h4v4h-4zM884 420h4v4h-4zM752 440h4v4h-4zM776 440h8v4h-8zM776 444h12v4h-12zM776 448h12v4h-12zM776 452h16v4h-16zM776 456h16v4h-16zM792 460h4v4h-4zM728 464h4v4h-4zM796 464h4v4h-4zM736 468h4v4h-4zM748 468h4v4h-4zM788 468h20v4h-20zM756 472h8v4h-8zM776 472h36v4h-36zM700 476h40v4h-40zM768 476h36v4h-36zM696 480h4v4h-4zM732 480h8v4h-8zM768 480h36v4h-36zM696 484h4v4h-4zM772 484h32v4h-32zM272 488h12v4h-12zM676 488h4v4h-4zM696 488h4v4h-4zM272 492h16v4h-16zM696 492h8v4h-8zM272 496h16v4h-16zM700 496h4v4h-4zM700 500h4v4h-4zM704 508h4v4h-4zM708 512h4v4h-4zM912 512h16v4h-16zM712 516h12v4h-12zM904 516h8v4h-8zM924 516h8v4h-8zM712 520h12v4h-12zM904 520h4v4h-4zM928 520h4v4h-4zM716 524h8v4h-8zM908 524h4v4h-4zM932 524h4v4h-4zM716 528h8v4h-8zM772 528h4v4h-4zM908 528h4v4h-4zM936 528h8v4h-8zM716 532h8v4h-8zM768 532h12v4h-12zM912 532h4v4h-4zM948 532h4v4h-4zM716 536h8v4h-8zM760 536h20v4h-20zM912 536h44v4h-44zM716 540h8v4h-8zM756 540h28v4h-28zM912 540h24v4h-24zM940 540h16v4h-16zM716 544h8v4h-8zM756 544h28v4h-28zM876 544h4v4h-4zM912 544h20v4h-20zM940 544h8v4h-8zM716 548h8v4h-8zM752 548h32v4h-32zM852 548h36v4h-36zM908 548h40v4h-40zM712 552h8v4h-8zM752 552h36v4h-36zM848 552h20v4h-20zM884 552h64v4h-64zM972 552h4v4h-4zM712 556h8v4h-8zM752 556h36v4h-36zM844 556h16v4h-16zM888 556h28v4h-28zM924 556h24v4h-24zM972 556h4v4h-4zM712 560h8v4h-8zM748 560h44v4h-44zM844 560h12v4h-12zM900 560h16v4h-16zM924 560h28v4h-28zM968 560h4v4h-4zM708 564h12v4h-12zM744 564h16v4h-16zM776 564h16v4h-16zM840 564h12v4h-12zM916 564h52v4h-52zM708 568h12v4h-12zM740 568h16v4h-16zM780 568h20v4h-20zM836 568h16v4h-16zM928 568h32v4h-32zM708 572h12v4h-12zM736 572h20v4h-20zM784 572h20v4h-20zM828 572h16v4h-16zM940 572h12v4h-12zM708 576h16v4h-16zM732 576h20v4h-20zM788 576h52v4h-52zM708 580h44v4h-44zM792 580h40v4h-40zM708 584h40v4h-40zM796 584h28v4h-28zM712 588h32v4h-32zM712 592h28v4h-28zM712 596h24v4h-24zM716 600h16v4h-16zM900 600h4v4h-4zM888 604h12v4h-12zM904 604h8v4h-8zM884 608h12v4h-12zM908 608h8v4h-8zM880 612h16v4h-16zM908 612h16v4h-16zM880 616h12v4h-12zM904 616h8v4h-8zM880 620h8v4h-8zM908 620h4v4h-4zM932 620h4v4h-4zM876 624h20v4h-20zM908 624h4v4h-4zM928 624h4v4h-4zM888 628h12v4h-12zM904 628h12v4h-12zM924 628h4v4h-4zM876 632h4v4h-4zM896 632h4v4h-4zM924 632h4v4h-4z"/>
<path fill="#e50000" d="M864 320h4v4h-4zM868 380h4v4h-4zM876 396h4v4h-4zM876 400h4v4h-4zM880 412h4v4h-4zM788 444h12v4h-12zM788 448h12v4h-12zM792 452h8v4h-8zM792 456h8v4h-8zM728 460h8v4h-8zM796 460h4v4h-4zM732 464h4v4h-4zM800 464h8v4h-8zM744 468h4v4h-4zM808 468h4v4h-4zM752 472h4v4h-4zM812 472h4v4h-4zM764 476h4v4h-4zM804 476h16v4h-16zM700 480h32v4h-32zM804 480h12v4h-12zM700 484h56v4h-56zM768 484h4v4h-4zM804 484h8v4h-8zM672 488h4v4h-4zM700 488h108v4h-108zM704 492h4v4h-4zM724 492h84v4h-84zM704 496h4v4h-4zM724 496h84v4h-84zM728 500h80v4h-80zM704 504h4v4h-4zM724 504h84v4h-84zM724 508h88v4h-88zM916 508h12v4h-12zM712 512h112v4h-112zM896 512h16v4h-16zM928 512h4v4h-4zM724 516h104v4h-104zM900 516h4v4h-4zM724 520h104v4h-104zM900 520h4v4h-4zM932 520h4v4h-4zM724 524h104v4h-104zM904 524h4v4h-4zM936 524h8v4h-8zM724 528h48v4h-48zM776 528h52v4h-52zM904 528h4v4h-4zM944 528h4v4h-4zM724 532h44v4h-44zM780 532h48v4h-48zM908 532h4v4h-4zM724 536h36v4h-36zM780 536h56v4h-56zM908 536h4v4h-4zM724 540h12v4h-12zM740 540h16v4h-16zM784 540h60v4h-60zM852 540h12v4h-12zM904 540h8v4h-8zM936 540h4v4h-4zM956 540h4v4h-4zM724 544h8v4h-8zM740 544h16v4h-16zM784 544h92v4h-92zM880 544h16v4h-16zM900 544h12v4h-12zM932 544h8v4h-8zM948 544h8v4h-8zM724 548h8v4h-8zM740 548h12v4h-12zM784 548h28v4h-28zM828 548h24v4h-24zM888 548h20v4h-20zM948 548h4v4h-4zM972 548h4v4h-4zM720 552h32v4h-32zM788 552h24v4h-24zM828 552h20v4h-20zM948 552h4v4h-4zM720 556h32v4h-32zM788 556h24v4h-24zM828 556h16v4h-16zM948 556h4v4h-4zM968 556h4v4h-4zM720 560h28v4h-28zM792 560h20v4h-20zM828 560h16v4h-16zM952 560h4v4h-4zM964 560h4v4h-4zM720 564h24v4h-24zM792 564h24v4h-24zM824 564h16v4h-16zM720 568h20v4h-20zM800 568h36v4h-36zM720 572h16v4h-16zM804 572h24v4h-24zM724 576h8v4h-8zM900 604h4v4h-4zM904 608h4v4h-4zM896 612h4v4h-4zM904 612h4v4h-4zM892 616h12v4h-12zM912 616h4v4h-4zM888 620h20v4h-20zM896 624h12v4h-12zM912 624h4v4h-4zM872 628h8v4h-8zM900 628h4v4h-4zM916 628h4v4h-4zM896 636h4v4h-4zM896 640h4v4h-4z"/>
<path fill="#db0000" d="M872 388h4v4h-4zM880 408h4v4h-4zM884 416h4v4h-4zM756 440h4v4h-4zM800 448h8v4h-8zM800 452h8v4h-8zM800 456h8v4h-8zM800 460h8v4h-8zM808 464h4v4h-4zM740 468h4v4h-4zM812 468h4v4h-4zM740 472h4v4h-4zM816 472h4v4h-4zM740 476h4v4h-4zM740 480h4v4h-4zM764 480h4v4h-4zM816 480h4v4h-4zM764 484h4v4h-4zM812 484h4v4h-4zM808 488h8v4h-8zM708 492h16v4h-16zM808 492h8v4h-8zM720 496h4v4h-4zM808 496h8v4h-8zM704 500h4v4h-4zM724 500h4v4h-4zM808 500h8v4h-8zM808 504h12v4h-12zM708 508h4v4h-4zM720 508h4v4h-4zM812 508h12v4h-12zM892 508h24v4h-24zM824 512h4v4h-4zM892 512h4v4h-4zM828 516h4v4h-4zM896 516h4v4h-4zM932 516h4v4h-4zM828 520h4v4h-4zM896 520h4v4h-4zM936 520h4v4h-4zM828 524h8v4h-8zM896 524h8v4h-8zM944 524h4v4h-4zM828 528h12v4h-12zM900 528h4v4h-4zM948 528h4v4h-4zM828 532h20v4h-20zM904 532h4v4h-4zM952 532h4v4h-4zM836 536h32v4h-32zM900 536h8v4h-8zM956 536h4v4h-4zM736 540h4v4h-4zM844 540h8v4h-8zM864 540h40v4h-40zM732 544h8v4h-8zM896 544h4v4h-4zM972 544h4v4h-4zM732 548h8v4h-8zM812 548h16v4h-16zM968 548h4v4h-4zM812 552h16v4h-16zM968 552h4v4h-4zM812 556h16v4h-16zM952 556h4v4h-4zM812 560h16v4h-16zM956 560h8v4h-8zM816 564h8v4h-8zM896 608h4v4h-4zM900 612h4v4h-4zM916 616h4v4h-4zM924 616h8v4h-8zM912 620h4v4h-4zM920 628h4v4h-4z"/>
<path fill="#d10000" d="M856 320h4v4h-4zM808 452h4v4h-4zM808 456h8v4h-8zM808 460h8v4h-8zM812 464h4v4h-4zM816 468h4v4h-4zM748 472h4v4h-4zM820 472h4v4h-4zM752 476h12v4h-12zM820 476h4v4h-4zM748 480h8v4h-8zM820 480h4v4h-4zM756 484h8v4h-8zM816 484h8v4h-8zM816 488h4v4h-4zM816 492h4v4h-4zM816 496h4v4h-4zM720 500h4v4h-4zM816 500h8v4h-8zM884 500h4v4h-4zM720 504h4v4h-4zM820 504h8v4h-8zM888 504h12v4h-12zM916 504h8v4h-8zM712 508h8v4h-8zM824 508h8v4h-8zM888 508h4v4h-4zM928 508h4v4h-4zM828 512h4v4h-4zM932 512h4v4h-4zM832 516h4v4h-4zM892 516h4v4h-4zM936 516h4v4h-4zM832 520h8v4h-8zM892 520h4v4h-4zM940 520h8v4h-8zM836 524h12v4h-12zM892 524h4v4h-4zM948 524h4v4h-4zM840 528h12v4h-12zM892 528h8v4h-8zM952 528h4v4h-4zM848 532h20v4h-20zM880 532h24v4h-24zM956 532h4v4h-4zM868 536h32v4h-32zM960 540h4v4h-4zM956 544h4v4h-4zM968 544h4v4h-4zM952 548h4v4h-4zM952 552h4v4h-4zM920 616h4v4h-4zM924 624h4v4h-4z"/>
<path fill="#c70000" d="M812 452h4v4h-4zM816 456h4v4h-4zM816 460h4v4h-4zM840 460h12v4h-12zM816 464h8v4h-8zM844 464h24v4h-24zM820 468h4v4h-4zM856 468h12v4h-12zM744 472h4v4h-4zM864 472h4v4h-4zM824 476h4v4h-4zM744 480h4v4h-4zM824 480h4v4h-4zM824 484h4v4h-4zM820 488h4v4h-4zM868 488h4v4h-4zM820 492h4v4h-4zM872 492h4v4h-4zM708 496h4v4h-4zM716 496h4v4h-4zM820 496h4v4h-4zM880 496h8v4h-8zM824 500h4v4h-4zM888 500h8v4h-8zM828 504h4v4h-4zM884 504h4v4h-4zM900 504h16v4h-16zM832 508h4v4h-4zM884 508h4v4h-4zM932 508h4v4h-4zM832 512h8v4h-8zM888 512h4v4h-4zM936 512h4v4h-4zM836 516h12v4h-12zM888 516h4v4h-4zM940 516h4v4h-4zM840 520h12v4h-12zM888 520h4v4h-4zM948 520h4v4h-4zM848 524h8v4h-8zM884 524h8v4h-8zM852 528h12v4h-12zM880 528h12v4h-12zM868 532h12v4h-12zM960 536h4v4h-4zM964 540h12v4h-12zM960 544h8v4h-8zM956 556h4v4h-4zM964 556h4v4h-4zM900 608h4v4h-4zM916 620h4v4h-4zM928 620h4v4h-4zM916 624h4v4h-4z"/>
<path fill="#bd0000" d="M820 460h4v4h-4zM828 460h12v4h-12zM824 464h20v4h-20zM824 468h32v4h-32zM868 468h4v4h-4zM824 472h40v4h-40zM868 472h4v4h-4zM748 476h4v4h-4zM828 476h8v4h-8zM852 476h20v4h-20zM756 480h4v4h-4zM828 480h8v4h-8zM860 480h12v4h-12zM828 484h4v4h-4zM860 484h16v4h-16zM824 488h4v4h-4zM864 488h4v4h-4zM872 488h8v4h-8zM824 492h4v4h-4zM868 492h4v4h-4zM876 492h12v4h-12zM712 496h4v4h-4zM824 496h4v4h-4zM872 496h8v4h-8zM888 496h8v4h-8zM828 500h4v4h-4zM876 500h8v4h-8zM896 500h8v4h-8zM708 504h4v4h-4zM832 504h4v4h-4zM880 504h4v4h-4zM836 508h8v4h-8zM880 508h4v4h-4zM840 512h16v4h-16zM884 512h4v4h-4zM940 512h4v4h-4zM848 516h8v4h-8zM884 516h4v4h-4zM944 516h4v4h-4zM852 520h8v4h-8zM880 520h8v4h-8zM856 524h8v4h-8zM876 524h8v4h-8zM952 524h4v4h-4zM864 528h16v4h-16zM956 528h4v4h-4zM960 532h4v4h-4zM964 536h12v4h-12zM956 548h4v4h-4zM964 548h4v4h-4zM960 556h4v4h-4zM924 620h4v4h-4z"/>
<path fill="#b30000" d="M860 316h4v4h-4zM824 460h4v4h-4zM872 472h4v4h-4zM744 476h4v4h-4zM836 476h16v4h-16zM872 476h12v4h-12zM760 480h4v4h-4zM836 480h24v4h-24zM872 480h16v4h-16zM832 484h4v4h-4zM848 484h12v4h-12zM876 484h12v4h-12zM828 488h4v4h-4zM860 488h4v4h-4zM880 488h12v4h-12zM828 492h4v4h-4zM860 492h8v4h-8zM888 492h8v4h-8zM828 496h4v4h-4zM860 496h12v4h-12zM896 496h4v4h-4zM708 500h4v4h-4zM832 500h8v4h-8zM856 500h20v4h-20zM904 500h12v4h-12zM716 504h4v4h-4zM836 504h28v4h-28zM876 504h4v4h-4zM844 508h20v4h-20zM876 508h4v4h-4zM856 512h4v4h-4zM880 512h4v4h-4zM944 512h4v4h-4zM856 516h8v4h-8zM880 516h4v4h-4zM948 516h4v4h-4zM860 520h4v4h-4zM876 520h4v4h-4zM952 520h4v4h-4zM864 524h12v4h-12zM956 524h4v4h-4zM964 532h8v4h-8zM956 552h4v4h-4zM964 552h4v4h-4zM920 620h4v4h-4zM920 624h4v4h-4z"/>
<path fill="#a80000" d="M836 484h12v4h-12zM888 484h4v4h-4zM832 488h4v4h-4zM848 488h12v4h-12zM892 488h4v4h-4zM832 492h4v4h-4zM848 492h12v4h-12zM896 492h4v4h-4zM832 496h28v4h-28zM900 496h8v4h-8zM716 500h4v4h-4zM840 500h16v4h-16zM712 504h4v4h-4zM864 504h12v4h-12zM864 508h4v4h-4zM872 508h4v4h-4zM860 512h4v4h-4zM876 512h4v4h-4zM864 516h4v4h-4zM876 516h4v4h-4zM864 520h12v4h-12zM960 528h4v4h-4zM972 532h4v4h-4zM960 548h4v4h-4zM960 552h4v4h-4z"/>
<path fill="#9e0000" d="M840 488h8v4h-8zM896 488h4v4h-4zM836 492h12v4h-12zM900 492h4v4h-4zM712 500h4v4h-4zM868 508h4v4h-4zM864 512h12v4h-12zM948 512h4v4h-4zM868 516h8v4h-8zM952 516h4v4h-4zM956 520h4v4h-4zM960 524h4v4h-4zM964 528h8v4h-8z"/>
<path fill="#940000" d="M836 488h4v4h-4zM972 528h4v4h-4z"/>
<path fill="#800000" d="M860 320h4v4h-4z"/>
</g>
<defs><filter id="bl2"><feGaussianBlur stdDeviation="0.5"/></filter><filter id="bl3"><feGaussianBlur stdDeviation="1.6"/></filter></defs><g filter="url(#bl2)"><path fill="#ff6a00" d="M417.8 210.0H423.5V213.7H417.8ZM493.0 203.5H495.5V209.0H493.0ZM537.0 173.3H543.8V180.4H537.0ZM789.0 241.0H791.8V250.7H789.0ZM451.4 541.7H453.5V552.0H451.4ZM784.8 100.8H788.3V103.8H784.8Z"/><path fill="#ffa000" d="M435.6 223.0H438.4V226.6H435.6ZM555.0 181.0H564.5V183.0H555.0ZM568.8 177.3H575.5V181.0H568.8ZM656.4 197.9H659.4V200.6H656.4ZM666.3 189.8H669.6V193.6H666.3ZM800.6 281.0H802.7V287.7H800.6ZM702.6 267.9H706.0V270.6H702.6Z"/><path fill="#f01008" d="M479.3 219.2H482.3V222.7H479.3ZM575.5 177.3H583.0V181.0H575.5ZM613.9 189.8H616.8V193.4H613.9ZM619.2 193.8H622.8V197.6H619.2ZM627.7 202.0H634.4V205.4H627.7ZM302.0 230.8H305.0V235.0H302.0ZM258.4 256.1H261.8V259.8H258.4ZM248.0 263.8H251.0V268.0H248.0ZM226.6 312.0H229.2V320.3H226.6ZM219.3 367.9H222.6V372.4H219.3ZM219.3 414.6H221.3V423.8H219.3ZM219.3 436.6H221.3V447.5H219.3ZM215.1 466.7H219.3V471.3H215.1ZM782.1 226.7H785.0V230.8H782.1ZM806.8 300.0H810.9V304.9H806.8ZM806.9 311.6H810.8V315.0H806.9ZM807.5 330.8H810.8V341.1H807.5ZM745.9 341.1H749.4V344.6H745.9ZM752.8 346.0H756.2V349.4H752.8ZM796.0 368.5H800.1V372.7H796.0ZM580.0 498.9H583.0V505.7H580.0ZM571.4 552.8H580.0V555.6H571.4ZM417.1 605.1H420.6V609.4H417.1ZM266.2 576.5H269.0V582.6H266.2ZM290.8 599.4H295.6V601.1H290.8ZM327.2 618.6H331.3V620.3H327.2ZM340.9 615.2H349.1V617.6H340.9ZM388.2 600.0H391.6V601.8H388.2ZM406.0 599.6H410.1V601.1H406.0ZM416.3 606.6H420.0V609.4H416.3ZM764.3 142.7H766.2V147.0H764.3ZM856.5 317.5H869.0V325.5H856.5ZM902.0 319.5H908.5V331.5H902.0ZM898.0 333.0H903.0V343.0H898.0Z"/><path fill="#b80000" d="M504.5 177.2H507.3V180.8H504.5ZM230.0 287.4H233.0V295.6H230.0ZM237.0 335.0H239.6V347.7H237.0ZM229.0 514.3H233.0V521.6H229.0ZM583.0 513.4H586.8V522.8H583.0ZM562.4 560.0H564.6V567.0H562.4ZM562.4 572.3H564.6V580.0H562.4ZM554.8 590.8H558.4V597.7H554.8ZM551.4 606.0H554.4V612.0H551.4ZM540.4 617.6H550.0V624.6H540.4ZM533.0 636.8H537.8V640.9H533.0ZM879.8 381.4H882.6V386.9H879.8ZM885.3 391.0H888.8V395.0H885.3ZM889.4 404.7H893.6V410.2H889.4ZM889.4 422.5H893.6V427.3H889.4ZM921.0 622.0H929.0V628.0H921.0Z"/><path fill="#8c0000" d="M859.0 318.6H867.0V324.0H859.0Z"/><path fill="#c40000" d="M917.0 620.5H931.0V630.0H917.0Z"/></g><g filter="url(#bl3)" opacity=".8"><path fill="#b80000" d="M673.6 453.7H679.6V459.7H673.6ZM695.9 446.3H701.9V452.3H695.9ZM712.2 446.3H718.2V452.3H712.2ZM753.8 441.3H759.8V447.3H753.8ZM779.1 447.8H785.1V453.8H779.1ZM817.7 464.1H823.7V470.1H817.7ZM857.9 459.7H863.9V465.7H857.9ZM880.1 479.0H886.1V485.0H880.1ZM903.9 495.4H909.9V501.4H903.9ZM911.3 502.8H917.3V508.8H911.3ZM933.6 516.2H939.6V522.2H933.6ZM947.0 525.1H953.0V531.1H947.0ZM670.2 484.5H677.0V491.3H670.2ZM705.9 506.2H712.7V513.0H705.9ZM734.1 472.7H740.9V479.5H734.1ZM786.1 484.5H792.9V491.3H786.1ZM826.3 500.9H833.1V507.7H826.3ZM896.1 636.1H902.9V642.9H896.1ZM924.3 634.6H931.1V641.4H924.3ZM928.8 619.8H935.6V626.6H928.8ZM896.1 606.4H902.9V613.2H896.1Z"/><path fill="#c00000" d="M707.9 496.3H717.9V506.3H707.9Z"/></g>
</g>
<path d="M139.5 75.4H973.7V768.4H139.5Z M148.1 84.0V759.8H965.1V84.0Z" fill="#fff" fill-rule="evenodd"/>
<rect x="139.5" y="759.8" width="83.4" height="8.6" fill="#000"/>
<rect x="222.9" y="75.4" width="83.4" height="8.6" fill="#000"/>
<rect x="306.3" y="759.8" width="83.4" height="8.6" fill="#000"/>
<rect x="389.8" y="75.4" width="83.4" height="8.6" fill="#000"/>
<rect x="473.2" y="759.8" width="83.4" height="8.6" fill="#000"/>
<rect x="556.6" y="75.4" width="83.4" height="8.6" fill="#000"/>
<rect x="640.0" y="759.8" width="83.4" height="8.6" fill="#000"/>
<rect x="723.4" y="75.4" width="83.4" height="8.6" fill="#000"/>
<rect x="806.9" y="759.8" width="83.4" height="8.6" fill="#000"/>
<rect x="890.3" y="75.4" width="83.4" height="8.6" fill="#000"/>
<rect x="965.1" y="75.4" width="8.6" height="18.8" fill="#000"/>
<rect x="139.5" y="93.0" width="8.6" height="18.3" fill="#000"/>
<rect x="965.1" y="111.3" width="8.6" height="77.9" fill="#000"/>
<rect x="139.5" y="189.2" width="8.6" height="76.3" fill="#000"/>
<rect x="965.1" y="265.5" width="8.6" height="74.9" fill="#000"/>
<rect x="139.5" y="340.4" width="8.6" height="73.6" fill="#000"/>
<rect x="965.1" y="414.0" width="8.6" height="72.5" fill="#000"/>
<rect x="139.5" y="486.5" width="8.6" height="71.5" fill="#000"/>
<rect x="965.1" y="558.0" width="8.6" height="70.6" fill="#000"/>
<rect x="139.5" y="628.6" width="8.6" height="69.8" fill="#000"/>
<rect x="965.1" y="698.4" width="8.6" height="34.6" fill="#000"/>
<rect x="139.5" y="733.0" width="8.6" height="35.4" fill="#000"/>
<rect x="139.5" y="75.4" width="834.2" height="693.0" fill="none" stroke="#000" stroke-width="1"/>
<rect x="148.1" y="84.0" width="817.0" height="675.8" fill="none" stroke="#000" stroke-opacity=".62" stroke-width="1.5"/>
<path d="M139.5 75.4L148.1 84.0" stroke="#000" stroke-width="1"/>
<path d="M973.7 768.4L965.1 759.8" stroke="#000" stroke-width="1"/>
<path d="M306.3 84.0V759.8" stroke="#000" stroke-opacity=".16" stroke-width="1" stroke-dasharray="2.5 5.8" fill="none"/>
<path d="M473.2 84.0V759.8" stroke="#000" stroke-opacity=".16" stroke-width="1" stroke-dasharray="2.5 5.8" fill="none"/>
<path d="M640.0 84.0V759.8" stroke="#000" stroke-opacity=".16" stroke-width="1" stroke-dasharray="2.5 5.8" fill="none"/>
<path d="M806.9 84.0V759.8" stroke="#000" stroke-opacity=".16" stroke-width="1" stroke-dasharray="2.5 5.8" fill="none"/>
<path d="M148.1 111.3H965.1" stroke="#000" stroke-opacity=".16" stroke-width="1" stroke-dasharray="2.5 5.8" fill="none"/>
<path d="M148.1 265.5H965.1" stroke="#000" stroke-opacity=".16" stroke-width="1" stroke-dasharray="2.5 5.8" fill="none"/>
<path d="M148.1 414.0H965.1" stroke="#000" stroke-opacity=".16" stroke-width="1" stroke-dasharray="2.5 5.8" fill="none"/>
<path d="M148.1 558.0H965.1" stroke="#000" stroke-opacity=".16" stroke-width="1" stroke-dasharray="2.5 5.8" fill="none"/>
<path d="M148.1 698.4H965.1" stroke="#000" stroke-opacity=".16" stroke-width="1" stroke-dasharray="2.5 5.8" fill="none"/>
<defs><clipPath id="mapclip"><rect x="139.0" y="74.9" width="835.2" height="694.0"/></clipPath></defs>
<g clip-path="url(#mapclip)"><defs><filter id="rg" filterUnits="userSpaceOnUse" x="130" y="65" width="860" height="715"><feTurbulence type="fractalNoise" baseFrequency="0.45" numOctaves="2" seed="7" result="n"/><feDisplacementMap in="SourceGraphic" in2="n" scale="2.2" xChannelSelector="R" yChannelSelector="G"/></filter></defs>
<g filter="url(#rg)">
<path d="M305.5 206.7 304.2 205.8 307.3 200.7 310.7 202.4 314.1 197.6 317.5 199.0 316.7 205.0 321.0 207.6 324.4 206.4 318.9 209.3 314.1 211.8 311.5 209.3 309.0 211.8 308.1 208.4 305.5 206.7M342.4 195.6 344.1 190.4 347.5 189.6 347.0 195.6 344.1 200.7 342.4 195.6M360.4 193.9 362.1 186.1 364.7 193.0 363.0 197.3 360.4 193.9M378.4 191.3 381.8 190.8 384.4 192.1 383.5 194.7 386.1 196.4 387.0 199.9 389.5 201.0 393.8 198.1 392.1 196.4 388.7 197.3 385.2 195.2 381.8 194.2 378.4 191.3M399.8 199.9 404.1 197.3 406.7 196.4 410.9 195.9 413.5 199.0 416.9 200.7 418.7 205.0 416.1 207.6 413.5 208.4 410.1 205.8 406.7 205.0 403.2 202.4 399.8 199.9M417.8 188.7 420.4 189.6 421.2 192.1 419.5 191.3 417.8 188.7M250.7 238.4 253.3 242.7 255.8 243.6 258.4 240.1 259.3 236.7 261.8 241.0 264.4 239.3 267.0 237.6 265.3 243.6 269.6 242.7 276.4 239.3 281.6 238.1 276.4 241.8 269.6 245.3 264.4 247.8 259.3 250.4M245.6 248.7 247.3 253.0 248.1 256.4 250.7 254.7 255.0 253.0 257.6 251.3M231.9 261.5 237.0 259.0 242.1 255.5 240.4 259.8 237.0 263.3 234.4 267.5 237.9 266.7 241.3 265.0 244.7 262.4M225.0 272.7 229.3 271.0 231.9 274.4 230.1 279.5 227.6 284.7 225.9 291.5 225.0 298.4M228.4 277.8 231.0 276.1 230.1 281.3M300.4 220.4 303.0 221.3 304.7 218.7 309.0 216.1 305.5 222.1 301.3 225.6 299.6 224.7 300.4 220.4M242.1 270.1 250.7 262.4 259.3 256.4 269.6 249.6 279.8 243.6 290.1 238.8 293.6 234.1M405.0 198.3 408.1 196.3 411.7 196.8 412.7 199.9 416.3 199.4 419.4 200.4 420.4 203.5 423.0 205.5 425.6 205.0 427.1 207.6 429.7 207.1 432.2 204.5 432.8 207.6 431.2 210.7 433.3 213.8 435.8 215.8 434.8 218.4 437.9 221.0 441.0 219.9 443.0 222.0 444.6 224.6 441.0 226.1 446.1 226.6 450.2 224.0 452.3 219.9 455.4 217.4 458.5 215.8 461.6 216.8 464.1 219.9 464.6 223.5 462.1 226.1 458.5 226.6 455.9 224.0 453.3 225.6 450.2 226.6M405.5 205.0 409.6 203.5 414.3 204.5 416.3 207.1 412.7 209.6 409.1 208.1 405.5 205.0M417.9 188.6 420.4 189.1 421.5 191.6 419.9 192.2 417.9 188.6M425.1 190.6 427.1 193.2 428.1 197.3 431.7 198.8 435.3 199.4 436.9 200.9 434.8 201.4 431.2 200.4 428.1 199.4 426.1 196.3 425.1 190.6M459.5 180.8 462.6 176.7 466.7 174.7 470.8 175.7 473.9 178.8 477.0 179.8 480.1 181.9 477.0 186.0 472.9 188.0 466.7 188.6 461.6 187.0 459.5 183.9 459.5 180.8M453.8 179.8 455.9 176.7 458.5 176.7 459.0 179.8 456.9 182.4 454.4 182.4 453.8 179.8M462.6 200.4 464.6 196.8 467.2 196.3 467.7 198.3 465.7 201.4 463.1 201.9 462.6 200.4M450.2 226.6 458.5 226.9 464.6 225.6 468.8 223.5 471.8 221.0 476.0 217.9 479.0 215.8 481.6 214.3M477.0 190.1 479.0 187.0 481.1 183.9 485.2 182.9 489.3 181.9 492.4 179.8 493.4 176.7 497.5 175.2 502.7 175.7 507.8 174.2 511.9 173.1 516.1 175.2 520.2 174.7 525.0 176.7M477.0 190.1 479.0 193.2 483.1 194.2 486.2 193.2 488.3 190.1 490.3 188.0M489.3 209.6 493.4 211.7 497.5 213.8 501.7 216.8 505.8 219.9 507.8 222.0 506.8 225.1 503.7 226.6 501.7 228.1 498.6 226.1 495.5 228.1 492.9 231.2 494.5 227.1 497.5 224.0 500.6 222.0 497.5 219.9 493.4 216.8 489.3 213.8 486.2 211.7M454.4 218.9 456.4 222.0 459.5 224.0 462.6 222.0 460.5 218.9 457.4 217.9 454.4 218.9M515.0 181.1 525.3 181.5 537.3 180.8 549.3 179.8 563.0 176.8 573.3 175.5 583.6 174.3M552.7 176.8 555.3 175.1 557.8 176.0 560.4 171.7 562.1 174.3 566.4 173.4 569.0 167.4 570.7 171.7 573.3 166.6 575.0 171.7 576.7 174.3M587.0 172.6 590.4 170.8 593.0 171.7 596.4 170.5 600.7 170.8 603.3 173.4 601.5 175.1 597.3 173.9 593.0 174.3M611.0 178.6 614.4 177.4 617.8 179.1 621.3 178.0 619.5 182.0 623.0 183.7 626.4 187.1 627.3 189.7 624.7 188.8 622.1 186.3 617.8 184.9 615.3 182.0 611.0 178.6M641.8 200.0 643.5 197.4 646.1 199.1 644.4 202.6 641.8 203.4M659.8 191.4 661.5 188.8 663.2 191.4 661.5 194.0 659.8 191.4M635.0 205.1 641.8 204.8 648.7 202.6 654.7 198.3M641.8 155.4 642.7 159.7 645.2 161.4 647.8 158.9 650.4 156.3 651.2 158.9 647.8 160.6 646.1 162.3 643.5 161.4M705.2 219.7 704.4 223.1 706.9 224.0M690.0 200.3 693.2 202.9 694.5 207.4 697.7 209.9 700.9 214.4 704.1 218.3 705.4 222.8 708.0 220.8 713.8 221.5 715.7 226.0 717.6 231.1 718.9 236.3 718.3 244.0 716.3 250.4 714.4 256.8 713.1 262.0 712.5 268.4 713.1 273.5 715.7 278.7 717.6 283.8 720.8 289.0 724.1 295.4 726.6 302.0M715.7 267.1 718.9 263.9 723.4 265.8 726.6 268.4 727.3 272.3 724.7 276.1 722.1 280.0 719.6 283.8 717.6 282.5 720.2 278.7 722.1 274.8 721.5 271.0 718.3 272.3 716.3 269.7 715.7 267.1M718.9 272.3 720.8 268.4 724.1 269.7 724.7 272.9 722.1 274.2 720.2 273.5M720.8 285.1 724.1 283.8 722.8 285.8M780.0 241.4 781.9 247.8 784.5 255.6 787.7 264.6 791.5 273.5 795.4 283.8 798.6 292.8M785.1 246.6 786.4 251.7 788.3 246.6M753.0 190.0 754.3 193.9 756.2 197.7 754.9 201.6 753.0 203.5 754.3 200.3 753.6 196.4 753.0 190.0M751.7 208.6 753.0 213.1 756.2 217.0 755.6 220.2 753.0 220.2 751.1 215.7 751.7 208.6M750.4 241.4 753.0 240.1 754.9 242.1 753.6 244.6 751.1 244.0 750.4 241.4M744.6 236.3 747.2 235.6 747.8 239.5 745.9 237.6 744.6 236.3M763.9 233.7 767.1 235.0 769.0 235.6 767.1 238.8 765.2 239.5 766.5 236.9 763.9 233.7M771.0 236.9 772.9 238.2 773.5 241.4 775.5 243.3 773.5 242.7 772.3 240.1 771.0 236.9M760.1 256.2 762.6 254.3 765.8 253.6 763.9 256.8 763.3 260.7 761.3 259.4 760.1 256.2M759.4 263.9 762.0 265.2 760.1 267.1M762.6 267.1 765.8 266.5 767.1 269.7 767.1 273.5 765.2 271.0 763.3 269.7 762.6 267.1M758.8 272.3 760.7 272.3 760.1 274.2 758.8 272.3M762.6 289.0 765.2 287.7 765.8 290.9 763.9 292.8 762.6 289.0M796.0 294.1 798.0 296.7 799.3 294.8M719.3 290.0 723.1 295.1 727.0 302.2 730.8 309.3 732.8 315.7 735.3 320.8 738.6 324.1 742.4 322.8 745.0 324.7 746.3 329.8 746.9 335.0 748.8 339.5 752.7 342.7 757.8 344.6 763.0 347.2 766.8 350.4 766.2 354.3 768.1 358.1 770.7 362.0 773.9 365.2 776.5 367.8 774.6 370.3 772.0 369.7 770.1 367.1 769.4 369.0 770.1 372.3 772.6 373.5 775.8 372.3 779.7 371.6 784.8 370.3 790.0 368.4 795.1 365.8 799.0 362.0 801.5 356.8 802.8 350.4 804.1 341.4 805.4 332.4 806.7 323.4 806.9 315.7 806.0 308.0 804.1 300.3 802.2 293.9 800.3 290.0M730.8 302.9 734.1 304.8 737.3 305.4 740.5 304.8 738.6 308.0 739.2 311.9 737.3 315.7 738.6 320.2 741.1 317.6 743.7 315.7 746.9 314.4 744.3 318.3 742.4 322.8M766.8 354.9 770.1 355.6 772.6 356.8 770.1 357.5 767.5 356.2M770.7 304.8 774.6 300.3 780.3 296.2 784.8 297.7 786.8 304.1 785.5 310.6 782.9 315.1 778.4 313.8 775.8 310.6 773.3 307.4 772.0 306.1 773.9 305.4 775.2 307.4 773.3 308.0 770.7 304.8M802.8 342.7 800.3 347.8 797.7 354.3 795.8 362.0 796.4 367.1 799.0 363.3 800.9 358.1 802.8 351.7M777.1 372.3 779.7 369.7 782.3 372.9 784.8 370.3 787.4 373.5 790.0 369.7 792.5 368.4 790.0 372.3 787.4 375.5 784.8 374.2 782.3 376.1 779.7 374.2 777.1 375.5 777.1 372.3M782.3 374.8 784.8 377.4 790.0 374.8 793.8 371.0 796.4 368.4M709.6 391.5 711.6 390.9 712.2 392.2M796.4 294.5 799.0 295.8 798.3 293.2M802.8 304.8 804.4 306.1 803.5 303.5M836.9 340.1 838.8 338.8M844.6 341.4 846.5 342.7M830.5 350.4 832.4 349.1 832.4 353.0 831.1 356.8 829.8 354.3 830.5 350.4M833.7 362.0 835.0 365.8 835.6 369.0M821.0 75.6 815.8 78.2 811.3 81.9 808.4 84.9 803.9 87.8 799.4 89.3 795.0 92.3 791.3 94.5 789.0 99.0 784.6 103.4 780.1 107.1 776.4 111.6 772.7 114.6 769.0 119.0 766.7 124.2 764.5 129.4 762.3 135.4 760.1 141.3 757.8 147.3 757.5 153.2 758.6 159.2 759.3 165.1 760.8 174.0 763.0 184.4 765.3 193.3 766.7 200.0M808.4 78.9 810.6 82.6 807.6 84.1 809.8 86.3M789.0 90.8 792.0 93.8 795.0 91.5 792.7 95.3 789.0 94.5 787.5 97.5 789.8 99.7 786.8 101.9M779.4 92.3 781.6 96.0 780.1 99.0 783.1 100.5 782.3 103.4M777.1 109.4 774.2 110.9 775.7 113.8 771.9 115.3 773.4 118.3 769.7 119.8 770.5 123.5 767.5 125.0 769.0 128.7 765.3 130.2 766.7 133.9 763.0 135.4 763.8 139.1 760.8 140.6 762.0 144.3 758.6 145.8 759.3 150.2M780.9 105.7 777.9 107.1 778.9 110.1 775.7 112.3 777.1 115.3 773.9 117.3 774.9 120.5 771.5 122.0 772.4 125.7 769.4 127.2 770.3 130.9 767.0 132.4 767.9 136.1 765.0 137.6 765.6 141.3 762.6 142.8 763.0 146.5 760.5 148.0M754.1 142.8 756.3 145.8 755.6 150.2 757.8 153.2M755.6 172.5 752.6 174.0 751.1 180.0 751.9 185.9 750.4 190.4 752.6 194.8 754.9 200.0M754.9 174.0 753.4 177.0 754.1 182.9 753.4 188.9 754.9 193.3M248.7 250.9 246.0 254.6 241.4 257.3 235.9 260.1 232.3 263.7 235.0 266.5 230.4 270.1 226.8 272.9 223.1 271.0 225.0 275.6 228.6 277.4 225.9 282.0 223.1 286.6 219.5 289.3 214.9 293.0 218.6 294.8 222.2 293.9 223.1 299.4 220.4 304.8 222.2 310.3 224.0 315.8 223.1 322.2 225.9 326.8 227.7 333.2 230.4 337.8 233.2 341.4M225.9 293.9 225.0 303.0 226.8 312.2 229.5 321.3 232.3 330.4 234.1 339.6M222.2 359.7 219.5 363.3 215.8 365.2 214.0 368.8 216.7 371.6 214.9 376.1 217.6 379.8 215.8 385.3 214.0 390.8 212.2 395.3 211.2 399.9 214.0 403.6 213.1 410.0M225.0 360.6 223.1 367.0 220.4 370.7 219.5 376.1 218.6 381.6M208.5 256.4 210.3 259.1 211.2 264.3 209.4 262.8 208.5 256.4M157.3 302.1 161.0 303.9 163.7 306.7 166.5 305.8 165.5 310.3 169.2 313.1 168.3 318.6 165.5 320.4 163.7 317.6 164.6 313.1 161.9 311.2 160.1 307.6 157.3 302.1M169.2 333.2 172.9 332.3 175.6 329.5 174.7 335.0 172.9 338.7 171.0 335.0 169.2 333.2M212.9 483.0 215.9 493.1 219.9 500.6 224.2 508.2M223.0 499.4 228.0 500.6 229.2 504.4 225.5 506.9M212.9 402.5 211.6 412.6 212.9 422.6 211.4 425.2M187.7 485.5 191.5 481.8 194.0 483.0M201.6 475.5 204.1 471.7 205.8 474.2 203.3 479.2 201.6 475.5M195.3 468.4 196.0 470.4M197.8 481.8 199.1 482.5M209.9 480.5 211.9 480.0 212.4 483.0 210.4 483.5 209.9 480.5M177.2 533.3 178.2 534.1M162.6 560.3 163.3 561.0M197.8 595.7 200.3 596.7 202.3 597.7M273.3 608.8 275.8 607.5 277.0 611.3 274.5 612.6M279.6 601.3 280.8 605.0 278.3 607.5M250.6 615.1 255.7 616.4 258.2 620.1M303.5 613.8 306.0 612.6 306.5 616.4 304.0 616.9 303.5 613.8M277.8 599.8 279.9 602.5 280.6 605.2 278.5 604.6M273.0 608.0 275.1 607.3 276.5 609.4 277.8 607.3 277.1 610.7 273.7 612.8 273.0 608.0M301.8 615.5 304.6 613.5 306.6 616.2 302.5 616.5 301.8 615.5M325.1 624.4 325.8 626.9 326.6 624.4M334.7 622.4 335.4 623.8 336.2 622.0M343.6 619.0 345.7 617.6 347.7 619.0 346.4 620.6 343.9 620.3 343.6 619.0M350.5 616.2 352.5 615.5 353.2 617.3 351.2 617.6 350.5 616.2M366.9 614.6 369.0 616.9 370.4 614.6M383.4 608.7 384.5 611.4 384.1 608.0M405.3 608.7 407.4 607.3 408.8 610.0 406.4 610.5 405.3 608.7M314.8 634.7 317.6 633.3 319.0 636.1 318.3 639.5 316.2 638.8 314.8 634.7M345.0 660.1 347.7 658.0 351.9 657.3 356.0 658.0 358.7 660.1 361.5 663.5 358.0 662.1 354.6 659.4 350.5 658.7 347.1 659.4 345.7 662.1M289.5 678.2 290.8 679.3M406.1 609.3 411.3 606.7 417.3 603.3 423.3 601.5 429.3 601.5 431.8 603.3 430.1 607.5 426.7 611.0 420.7 613.2 413.9 612.7 408.7 611.0 406.1 609.3M423.3 599.8 425.8 598.1 427.2 600.2 425.0 602.4M562.1 503.9 566.4 502.1 569.8 503.0 568.1 506.4 563.8 506.9 562.1 503.9M574.1 502.1 577.5 506.4 579.2 512.4 580.9 517.6M573.2 544.1 575.8 539.8 580.1 537.8 580.9 539.8 578.4 544.1 574.9 548.4 573.2 546.7 573.2 544.1M539.8 599.0 536.4 603.3 533.0 608.4 528.7 614.4 527.8 617.0 532.1 617.8 535.5 616.1 537.2 620.4 536.4 627.2 534.7 632.4 533.8 635.0M539.8 599.0 540.7 605.0 539.8 611.8 543.2 613.5 540.7 615.2 538.1 615.2M398.4 525.3 399.3 526.1M407.3 550.5 407.9 551.2M562.1 603.3 563.0 603.8M562.1 608.1 563.0 608.6M537.7 620.0 536.8 626.9 534.3 635.4 531.7 642.3 532.5 647.4 530.0 652.6 530.8 659.4 532.5 664.6 530.8 671.4 530.0 678.3 526.5 683.4 523.1 688.6 519.7 692.0 514.5 695.4 510.3 698.8 508.5 702.3 511.1 704.8 516.3 706.5 519.7 708.3 520.5 704.0 519.7 700.5 523.1 702.3 528.3 705.7 533.4 709.1 536.8 709.1 540.2 705.7 545.4 703.1 550.5 702.3 554.0 704.8 559.1 704.0 566.0 705.7 574.5 707.1 583.1 705.7 591.7 705.3 598.5 703.1 605.4 699.7 610.0 698.8M540.2 626.9 538.5 633.7 536.8 640.6 537.7 647.4 536.0 654.3 537.7 661.1 536.8 668.0 536.0 674.8 537.7 680.0 536.8 685.1M530.0 652.6 528.3 656.0 530.0 658.6M532.5 671.4 534.3 676.6 537.7 680.0 538.5 684.3 536.8 683.4M512.8 706.5 509.4 710.0 506.0 713.4 503.4 717.7 499.1 720.3 495.7 721.1 494.0 717.7 495.7 715.1 500.8 714.3 506.0 711.7 509.4 708.3 512.8 706.5M518.8 705.7 519.7 709.1 518.0 709.5M552.2 702.3 553.1 705.7 555.7 706.5M589.1 699.7 591.7 698.8 590.8 700.9M441.7 641.4 443.4 638.9 446.8 638.5 444.3 640.6 443.4 644.9 441.7 641.4M452.8 644.0 453.7 644.5M438.3 656.0 440.0 656.8M433.7 664.2 434.5 664.9M435.7 674.8 436.6 675.4M430.2 684.8 431.4 685.6M459.7 665.9 461.4 665.2M465.2 662.0 467.4 661.1M492.3 661.1 495.2 661.6M430.6 743.1 433.1 742.0 436.0 742.7 435.7 746.0 434.0 744.3 431.9 746.5 430.6 743.1M453.2 751.1 455.4 752.8M468.6 753.3 470.3 754.0M488.0 758.0 490.5 757.1 489.7 759.7M483.4 760.9 484.0 761.4M512.8 766.9 514.5 767.4M539.4 736.5 541.1 735.2 542.0 738.3 540.6 740.8 539.4 736.5M543.3 715.6 544.0 716.3M545.4 673.1 548.0 672.3 547.1 674.5M554.0 658.6 555.3 656.8M556.5 648.3 557.4 649.1M555.7 653.4 556.5 654.3M693.7 740.3 692.8 737.7 695.4 736.8M695.4 758.3 697.1 755.7 698.8 758.3 697.1 760.0 695.4 758.3M669.7 718.0 671.4 715.4 675.7 717.1 679.1 719.7 684.3 722.3 687.7 724.0 688.5 725.7 685.1 724.8 683.4 727.4 680.8 724.8 675.7 721.4 673.1 719.2 672.3 721.9 670.2 721.4 669.7 718.0M651.7 703.8 652.6 706.5 656.0 706.8 656.5 704.4M607.1 698.6 608.9 700.8 612.3 700.3 611.9 698.6M590.0 700.0 591.4 700.3M695.4 697.4 696.6 697.9M696.3 700.8 697.6 701.7 696.6 704.3M706.5 708.6 708.3 708.2 710.0 708.9M704.5 714.0 705.7 714.7M707.9 723.6 708.6 725.3M716.8 725.7 719.4 724.8 721.1 727.4 718.5 729.1 722.0 728.3 722.8 730.8M717.7 739.7 718.5 740.3M715.1 747.1 717.7 746.3 720.2 748.0 718.5 749.7 721.1 748.8M707.4 748.0 708.3 749.7M704.8 753.1 706.5 754.8 705.2 756.5M710.0 751.4 712.5 750.5 711.7 754.0 714.3 753.1 716.8 752.3 716.0 755.7 713.4 756.5M707.4 758.3 710.0 757.4 709.1 759.6M712.5 761.7 715.1 762.5 716.8 764.3M720.2 756.5 722.0 758.3M727.1 703.1 728.0 703.8M675.7 649.4 677.1 650.3M303.4 689.9 308.5 690.7 304.7 692.0M144.0 670.1 146.6 673.5 150.4 674.0M160.7 674.5 162.8 676.0M169.7 676.6 171.5 678.1M288.0 679.1 290.0 677.8 292.3 683.0 288.5 683.5 288.0 679.1M316.2 634.1 318.0 633.4 318.8 638.0 316.7 639.3 316.2 634.1M253.3 620.0 257.1 622.6 261.0 621.3 259.7 625.1 255.8 623.9M345.8 658.6 350.9 656.8 357.4 658.0 361.2 662.4 356.1 660.6 350.9 659.8 346.3 661.1 345.8 658.6M375.4 690.7 379.2 688.9 381.8 684.3 381.3 689.4 385.6 691.5 389.5 690.7 388.2 694.6 393.4 695.8 399.8 699.7 403.6 702.3 402.4 704.3 397.2 701.0 392.1 698.4 388.2 697.1 385.6 699.7 383.1 695.8 380.5 697.1 378.7 693.3 375.4 690.7M430.6 685.6 431.4 686.3M433.2 664.2 435.0 665.2M430.6 743.4 435.0 742.1 431.9 746.0M642.7 490.8 647.0 489.1 652.1 487.4 657.3 484.8 660.7 481.4 659.9 476.3 660.7 472.0 664.1 468.6 669.3 464.3 676.1 460.8 683.0 458.3 689.8 455.7 696.7 453.1 701.8 451.4 708.7 450.9 715.5 449.2 722.4 447.1 727.5 445.4 734.4 444.6 741.3 444.6 748.1 445.1 755.0 445.1 758.4 446.3 763.5 445.4 768.7 442.9 775.5 441.7 782.4 442.3 789.2 444.6 796.1 447.1 803.0 450.6 809.8 454.0 816.7 457.4 821.8 460.8 826.9 463.4 835.0 466.8M642.7 490.8 645.3 493.4 652.1 491.7 658.1 490.8 657.3 495.1 662.4 493.4 667.6 490.0 672.7 489.1 675.3 484.0 679.6 481.4 686.4 480.6 693.3 478.8 698.4 475.4 703.6 471.1 708.7 466.8 713.8 463.4 717.3 461.7 724.1 462.2 731.0 462.6 737.8 462.2 744.7 462.6 749.8 464.3 752.4 467.7 750.7 471.1 746.4 472.0 741.3 471.1 737.0 471.1 736.1 474.6 739.5 478.0 744.7 480.6 751.5 481.4 758.4 481.4 765.2 480.6 767.0 477.1 768.7 479.7 770.4 484.0 775.5 485.2 782.4 485.7 789.2 484.8 794.4 487.4 799.5 490.8 806.4 495.1 813.2 497.7 820.1 499.4 826.9 501.1 835.0 503.7M701.0 500.3 703.6 495.1 707.0 490.0 712.1 489.1 717.3 490.8 720.7 494.3 722.4 498.6 723.3 502.8 719.8 505.4 715.5 506.8 710.4 507.1 706.1 505.4 702.7 503.7 701.0 500.3M705.3 498.6 707.0 493.4 711.3 490.8 716.4 491.7 719.8 496.0 720.7 501.1M724.1 502.0 726.7 500.3 729.3 501.6 731.8 499.9 734.4 501.1 736.1 498.6 737.8 497.7 739.5 499.9 741.3 500.3 743.0 498.2 744.7 498.6 746.4 500.3 748.1 499.4 750.7 500.6 753.3 500.3 755.8 501.1 758.4 499.4 761.8 497.7M763.5 500.3 768.7 499.4 772.1 498.9M709.6 482.3 711.3 484.8 715.5 485.7 719.0 489.1 720.7 492.6M713.8 478.0 715.5 475.4M723.3 471.1 725.0 470.3M728.4 468.6 730.1 469.8M686.4 487.4 690.7 488.6 695.0 489.1M819.2 459.1 823.5 464.3 828.7 466.8 835.0 469.4M825.2 518.3 828.7 519.1 831.2 520.8 829.5 521.7 826.1 520.0 825.2 518.3M832.1 521.7 835.0 523.4M820.9 430.0 823.5 433.1M800.0 447.7 806.2 450.8 812.3 454.7 818.5 459.3 824.7 463.1 830.8 466.2 837.0 467.0 843.2 468.5 849.4 470.1 855.5 470.8 861.7 473.2 867.9 476.2 874.0 480.9 880.2 486.3 886.4 490.9 892.5 495.5 898.7 500.2 904.9 504.8 911.1 508.6 917.2 511.7 923.4 514.0 929.6 516.4 935.7 518.7 941.9 519.0 948.1 518.7 952.7 520.2 954.2 524.1 952.7 527.9 949.6 529.5 948.1 532.5 951.2 534.1 957.3 533.3 963.5 533.8 969.7 534.1 972.8 533.8M820.1 463.1 826.2 468.5 832.4 470.8 840.1 471.6 847.8 473.2 855.5 475.5 863.2 478.6 869.4 483.2 875.6 487.8 880.2 491.7 886.4 494.0 892.5 498.6 898.7 503.2 901.8 506.3 900.3 507.9 897.2 504.8M800.0 492.4 806.2 495.5 812.3 497.8 818.5 499.4 824.7 500.9 830.8 502.5 837.0 502.5 843.2 500.9 849.4 500.2 852.4 504.8 855.5 511.0 857.1 517.1 858.6 521.8 861.7 525.6 866.3 529.5 872.5 532.5 878.7 533.3 884.8 534.1 891.0 533.3 897.2 533.3 901.8 537.2 904.9 541.0 903.3 544.9 900.3 548.0 895.6 550.3 891.0 552.6 886.4 554.9 884.1 558.8 882.5 563.4 886.4 564.2 892.5 563.4 900.3 562.6 908.0 561.9 915.7 560.3 923.4 559.1 931.1 558.8 938.8 559.1 946.5 559.5 954.2 561.1 962.0 561.9 969.7 561.1 972.8 559.5M845.5 500.9 846.3 504.8 847.8 507.9 849.4 503.2M840.9 520.2 842.4 521.0M845.5 520.2 847.0 521.4M849.4 518.7 850.1 520.2M852.4 515.6 853.2 517.1M846.3 524.1 847.8 524.8M851.7 528.7 853.2 529.5M874.0 541.8 876.4 543.0M878.7 545.7 881.0 546.4M884.1 543.0 884.8 543.7M885.6 539.5 886.4 540.3M960.4 445.4 954.2 446.9 949.6 450.0 945.8 455.4 944.2 461.6 945.0 467.8 946.5 473.9 949.6 479.3 951.9 482.4M948.1 486.0 951.2 485.5M965.0 443.1 969.7 441.5 972.0 443.9 971.2 447.7 968.1 446.2 965.0 443.1M967.4 559.5 969.7 557.2 972.0 558.8 971.2 561.9 968.1 562.2M870.2 459.3 870.6 460.1M910.3 510.2 913.4 509.4 914.1 511.7 911.1 512.5 910.3 510.2M898.7 503.2 901.8 502.5 902.6 506.3 899.5 507.1M948.1 527.9 950.4 526.4 951.9 529.5 954.2 532.5 950.4 534.1 948.1 531.8 948.1 527.9M861.6 619.8 863.1 615.7 866.7 613.1 871.9 613.1 876.0 612.6 878.0 611.1 883.2 611.6 889.4 612.1 895.5 612.6 901.7 614.2 906.8 614.7 911.0 614.7 914.0 617.8 918.1 620.3 923.3 621.9 928.4 623.4 930.5 626.0 932.0 629.6 934.1 632.2 930.5 633.2 926.4 633.7 922.3 634.2 919.2 632.2 915.1 631.1 912.0 630.6 911.0 633.7 906.8 634.2 904.8 632.7 902.7 634.2 902.7 637.3 900.7 638.8 898.6 637.3 896.0 634.7 892.4 633.7 887.3 634.2 883.2 634.2 880.1 631.1 879.1 628.6 876.0 627.0 872.9 622.9 869.8 621.9 865.7 621.9 861.6 619.8M904.3 636.8 905.8 636.3 906.3 637.8 904.8 638.3 904.3 636.8M941.3 649.1 941.8 650.7M839.4 313.8 842.8 316.8 846.9 320.0 851.0 322.0 856.5 320.9 862.0 318.6 867.5 317.2 873.0 315.8 876.4 314.5 877.8 317.2 879.8 320.0 880.5 321.3M839.4 313.8 844.2 315.4 848.3 317.9 851.7 315.2 853.1 310.4 855.8 309.7 858.6 312.4 862.0 313.8 867.5 313.8 873.0 313.1 876.4 311.7M859.3 293.5 863.4 295.7 868.9 298.0 874.4 300.4 879.8 302.1 885.3 304.2 889.4 306.3 893.5 309.0M876.4 311.7 875.7 308.3 878.5 306.9 882.6 306.3 888.1 306.9 893.5 309.7 899.7 314.5 905.2 317.2 908.6 320.0 909.3 324.8 907.9 329.6 905.2 333.0 902.5 335.7 900.4 337.8M890.8 313.8 892.9 317.9 894.9 322.0 896.3 326.1 897.0 330.2 897.7 333.7 896.3 337.8 893.5 339.8 896.3 341.2 898.3 344.0 900.1 346.0 900.4 344.0 899.7 339.8 901.1 337.1M881.2 322.0 881.9 324.8M885.3 329.6 887.4 328.9 888.8 330.9M888.1 335.0 889.4 337.8M875.0 347.4 878.5 348.8 881.2 351.5 883.3 354.9 883.3 358.3 881.9 361.1 879.2 362.5 876.4 361.8M872.3 360.1 874.4 360.7M836.7 339.8 838.7 338.7 840.1 339.6M844.2 341.2 846.3 342.3M830.5 350.1 831.9 349.2 832.5 351.5 831.6 354.9 830.8 357.7 830.2 353.5 830.5 350.1M833.2 362.5 834.6 365.2 835.3 368.6M856.5 390.6 860.6 389.2 864.8 387.1 866.8 381.0 867.5 374.1 868.2 368.6 869.6 365.9 870.9 368.6 872.3 372.7 874.4 376.9 877.1 381.0 879.8 385.1 882.6 389.2 885.3 393.3 885.3 397.4 884.0 401.5 882.6 405.0M856.5 390.6 859.3 393.3 863.4 396.1 867.5 398.8 871.6 402.2 874.4 405.0M868.9 372.7 870.2 378.2 872.3 383.7 875.0 387.8 878.5 391.9 881.2 396.1M888.8 376.6 892.2 374.8 897.7 374.1 899.7 375.5 896.3 377.5 892.2 378.9 888.8 376.6M911.4 359.0 914.1 357.4 918.2 357.0 919.6 359.7 918.2 361.1 921.0 363.1 925.1 365.2 929.2 367.3 933.3 370.7 936.1 373.4 937.4 376.9 936.7 381.0 935.4 385.1 934.0 388.5 935.4 391.9M911.4 359.0 913.4 361.8 912.1 365.2 910.7 367.9M901.8 372.7 905.9 371.4 908.6 370.0M926.5 379.6 929.2 382.3 931.3 386.5 933.3 389.2M915.5 372.7 916.6 373.4M913.4 383.0 912.7 387.8 914.1 393.3 916.9 397.4 920.3 400.8 923.0 404.3M948.4 389.9 951.1 389.2 953.2 391.3 954.6 394.7 956.6 398.1 959.4 401.5 962.1 404.3M941.5 393.3 944.3 394.0 946.3 394.0M856.5 390.3 860.6 393.7 864.8 397.8 868.9 401.3 873.0 406.0 875.7 410.2 877.8 414.3 879.2 419.1 878.5 422.5 881.2 425.2 885.3 427.3 888.8 425.9 889.4 422.5 888.8 419.1M875.7 380.0 878.5 384.1 881.2 389.6 883.3 395.1 884.6 400.6 886.0 405.4 887.4 409.5 888.8 414.3 889.4 418.4 892.2 421.1 894.9 425.2 895.6 428.7M879.8 411.5 882.6 415.6 885.3 414.3 887.4 410.8M913.4 383.4 912.7 388.2 914.1 393.7 916.9 397.8 921.0 401.9 924.4 406.7 927.1 411.5 930.6 416.3 934.7 421.1 938.8 425.2 942.9 429.4 948.4 432.8 953.9 434.8 959.4 436.5M934.7 422.5 938.8 427.3 941.5 430.7 938.8 432.8 944.3 434.2 951.1 435.5M937.4 435.5 940.2 434.8M949.1 389.6 951.8 389.3 953.2 391.7 954.6 395.8 957.3 399.9 960.0 403.3 962.8 406.0 963.5 408.8 960.7 409.5 957.3 409.5 958.7 407.4M927.8 380.7 930.6 384.8 933.3 387.5 935.4 391.7M934.7 380.7 935.4 384.1 934.0 386.9M941.5 393.0 944.3 393.7 946.3 393.4M962.1 425.9 964.2 429.4 966.2 433.5 968.3 437.6 970.3 441.7 972.4 445.8 971.7 447.9 969.0 444.4 966.9 440.3 964.8 443.8 967.6 445.1M960.7 445.5 956.6 446.1 953.2 447.9 949.8 450.6 947.0 454.0 945.0 458.1 944.0 462.3 944.6 466.4 945.6 470.5 947.7 475.3 949.8 479.4 951.1 482.1M947.7 486.3 949.1 485.8 950.4 485.6M901.1 412.6 902.0 413.6M903.8 415.9 904.8 416.5M909.3 409.9 911.4 410.2M870.2 459.2 870.9 459.8M969.6 419.8 971.0 420.4M966.9 485.6 968.3 486.3M793.1 425.0 793.6 425.5M709.2 391.2 710.6 391.7 711.9 391.0M337.9 111.4 341.8 116.0 344.4 122.4 345.7 128.8 348.7 126.3 350.3 131.4 352.1 135.3 353.4 143.0 350.3 144.3 347.7 141.7 348.7 137.8 346.4 135.3 347.7 130.1 344.4 127.6 343.1 121.1 340.5 117.3 337.9 111.4M589.5 75.5 591.0 79.5" fill="none" stroke="#62450a" stroke-width="1.7" stroke-linejoin="round" stroke-linecap="round"/>
<path d="M465.7 207.6 467.7 206.0 470.8 207.6 473.9 209.6 476.0 208.6 479.0 209.6 481.1 211.7 480.6 215.8 477.0 217.9 472.9 218.4 470.8 219.9 469.3 217.9 470.8 213.8 468.8 210.7 465.7 207.6ZM485.2 199.4 488.3 197.8 491.4 195.2 492.4 191.1 490.3 188.0 494.5 186.0 500.6 183.9 501.1 189.1 499.6 194.2 497.5 198.3 494.5 201.4 492.4 204.5 489.3 207.6 486.2 209.6 483.7 207.6 484.2 202.4 485.2 199.4ZM480.1 183.9 484.2 182.4 487.3 183.4 486.2 186.0 483.1 188.6 480.1 188.0 480.1 183.9ZM716.3 232.4 718.9 231.8 719.6 236.3 718.3 240.1 716.7 237.6 716.3 232.4ZM732.1 313.8 736.0 313.1 738.6 315.7 739.2 319.6 737.9 323.4 735.3 324.1 733.4 320.2 732.1 313.8ZM747.6 339.5 751.4 340.8 756.6 343.3 761.7 345.9 764.9 348.5 766.8 351.1 764.3 350.4 760.4 348.5 755.3 345.9 750.8 344.0 747.6 339.5ZM770.1 364.6 773.3 363.9 776.5 367.1 775.8 369.7 772.6 369.0 770.1 364.6ZM746.3 391.5 751.4 388.3 756.6 385.8 761.7 385.1 766.2 386.4 766.8 388.3 763.0 390.3 757.8 392.2 752.7 394.1 748.2 394.8 746.3 391.5ZM740.5 393.5 743.7 392.2 745.0 394.8 741.8 395.7 740.5 393.5ZM734.7 392.6 736.6 392.2 737.3 394.1 735.3 394.4 734.7 392.6ZM840.1 313.1 844.0 315.1 849.1 318.9 850.0 322.1 846.5 320.8 842.7 317.6 840.1 313.1ZM220.4 359.7 225.0 360.6 225.9 364.3 223.1 367.9 220.4 365.2 220.4 359.7ZM540.7 622.1 545.8 620.4 546.7 624.7 544.1 630.7 540.7 634.1 539.8 629.0 540.7 622.1ZM543.7 647.4 546.2 643.1 548.0 645.7 546.2 653.4 543.7 657.7 542.0 654.3 543.7 647.4ZM540.2 623.4 543.7 620.9 545.4 622.6 542.8 628.6 540.2 630.3 540.2 623.4ZM515.4 690.3 519.7 688.6 521.4 691.1 517.1 693.4 515.4 690.3ZM584.8 688.6 589.9 685.1 596.8 683.4 602.8 683.1 598.5 685.1 591.7 687.2 586.5 689.4 584.8 688.6ZM572.8 695.4 577.1 693.7 577.6 695.7 573.7 697.5 572.8 695.4ZM607.9 682.6 610.0 681.7 610.0 684.3 608.5 684.8 607.9 682.6ZM473.4 664.9 478.6 663.2 483.7 664.2 480.3 665.9 476.0 666.6 473.4 664.9ZM590.0 685.9 595.1 684.2 602.0 682.8 602.0 683.9 596.0 685.6 590.9 687.3 590.0 685.9ZM608.5 682.5 610.6 681.1 612.3 682.2 610.2 684.9 608.5 684.2 608.5 682.5ZM747.3 479.7 753.3 478.8 758.4 481.4 765.2 480.6 767.8 483.1 766.1 486.6 760.1 486.6 755.0 484.8 749.8 483.1 747.3 479.7ZM737.8 496.0 740.4 496.8 739.5 498.6 737.5 498.2 737.8 496.0ZM770.4 442.0 777.2 440.6 785.8 442.9 794.4 445.4 803.0 448.0 809.8 451.4 816.7 455.7 813.2 455.7 806.4 453.1 799.5 451.4 792.7 448.9 784.1 446.3 777.2 444.6 770.4 443.7 770.4 442.0ZM803.8 569.7 808.1 568.0 809.0 569.2 804.7 570.9 803.8 569.7ZM810.7 568.0 815.8 566.6 816.3 567.6 811.5 569.2 810.7 568.0ZM761.0 580.0 762.7 578.8 769.5 579.4 770.0 580.8 762.7 581.5 761.0 580.0ZM800.0 446.2 806.2 449.3 813.9 453.9 820.1 457.7 824.7 461.6 827.8 464.7 824.7 465.5 818.5 461.6 812.3 457.0 806.2 453.1 800.0 450.0 800.0 446.2ZM831.6 463.9 838.6 463.1 844.7 464.7 850.9 465.5 857.1 467.0 863.2 469.3 866.3 473.2 861.7 473.2 855.5 470.8 849.4 470.8 843.2 469.3 837.0 468.5 831.6 467.0 831.6 463.9ZM867.9 475.5 874.0 474.7 880.2 478.6 884.1 483.2 887.9 487.8 884.8 489.4 880.2 486.3 875.6 482.4 871.0 479.3 867.9 475.5ZM825.5 518.7 829.3 517.9 833.9 521.8 840.1 526.4 846.3 530.2 852.4 532.5 858.6 534.1 861.7 537.9 863.2 540.3 860.2 539.5 855.5 536.4 849.4 533.3 843.2 531.0 837.0 527.2 830.8 523.3 825.5 520.2 825.5 518.7ZM858.6 531.0 864.8 528.7 871.0 532.5 877.1 534.1 880.2 537.2 877.1 538.7 872.5 536.4 867.9 538.7 863.2 535.6 858.6 534.1 858.6 531.0ZM840.1 314.1 844.2 316.0 848.3 318.5 851.0 320.9 846.9 319.5 842.8 316.8 840.1 314.1ZM852.4 314.5 853.8 310.4 856.3 310.1 857.9 313.1 855.8 314.5 852.4 314.5ZM870.2 314.1 876.0 312.4 877.1 314.5 873.0 315.7 870.2 314.1ZM891.5 314.5 896.3 314.5 900.4 317.2 901.8 322.0 900.4 326.1 898.3 330.2 896.6 329.6 895.6 324.8 893.5 320.0 891.5 314.5ZM857.9 390.3 864.1 387.6 865.0 389.9 862.0 392.6 859.3 392.2 857.9 390.3ZM870.2 402.9 874.4 400.2 879.8 401.5 884.0 402.9 885.3 405.0 870.2 405.0 870.2 402.9ZM857.9 389.9 862.0 387.5 865.4 384.1 866.8 385.2 865.9 388.5 863.4 391.7 860.9 392.3 857.9 389.9ZM872.3 402.6 879.8 399.2 884.0 400.6 885.3 405.4 882.6 409.5 879.2 412.2 876.4 409.5 873.7 406.7 872.3 402.6ZM879.2 420.4 885.3 419.1 889.4 421.1 888.8 425.9 884.6 427.7 881.2 425.9 879.2 420.4ZM830.5 462.9 837.3 461.6 842.8 462.3 845.6 465.0 851.0 464.3 856.5 467.7 862.0 469.1 867.5 471.2 873.0 474.6 878.5 477.3 882.6 481.5 885.3 485.6 882.6 486.3 878.5 482.8 873.0 480.1 867.5 476.7 862.0 474.6 856.5 473.2 851.0 470.5 845.6 469.1 840.1 468.4 834.6 467.1 830.5 465.0 830.5 462.9ZM191.4 154.6 193.5 153.3 195.3 157.1 192.7 160.2 191.4 157.1 191.4 154.6ZM192.7 166.1 195.3 166.9 194.5 168.7 192.7 166.1ZM480.6 465.2 482.0 465.2 482.0 466.6 480.6 466.6 480.6 465.2ZM482.6 468.5 483.6 468.5 483.6 469.5 482.6 469.5 482.6 468.5ZM483.6 471.2 485.0 471.2 485.0 472.6 483.6 472.6 483.6 471.2ZM425.5 481.6 428.0 482.0 428.0 483.2 425.5 482.8 425.5 481.6ZM396.7 522.5 398.0 523.0 399.3 526.0 398.0 526.2 396.7 522.5ZM407.0 550.0 408.4 550.0 408.4 551.4 407.0 551.4 407.0 550.0ZM705.5 652.0 707.5 652.0 707.5 653.8 705.5 653.8 705.5 652.0ZM943.5 644.5 945.0 644.5 945.0 647.0 943.5 647.0 943.5 644.5Z" fill="#62450a" stroke="#62450a" stroke-width="1.7" stroke-linejoin="round"/>
<path d="M511.4 187.5 513.0 192.2 511.9 197.3 508.9 202.4 504.7 206.6 500.6 209.1M500.6 180.8 505.8 180.3 511.9 180.8 518.1 180.3 524.3 181.4M772.0 389.0 777.1 387.0 782.3 384.5 787.4 381.9 792.5 378.7 796.4 374.8 799.0 371.0M530.8 695.4 533.4 690.3 536.0 686.0M866.8 304.9 868.2 302.1 869.6 301.5M790.8 416.7 794.2 415.0 798.3 414.0 801.7 413.2M810.4 411.8 813.4 415.9 816.8 422.5 820.2 428.7 823.7 433.2" fill="none" stroke="#62450a" stroke-width="1.7" stroke-dasharray="2 1.5"/>
</g>
<path d="M226.7 325.0 226.4 308.7 227.6 295.0 230.1 284.7 234.4 276.1 240.4 268.4 247.3 261.5 255.8 254.7 266.1 247.8 276.4 242.7 286.7 237.6 297.0 230.7 305.5 223.0 312.4 216.1 318.4 210.1 326.1 205.8 334.7 202.4 345.0 199.9 355.2 198.7 365.5 198.7 374.1 200.7 382.7 204.1 391.2 206.4 399.8 206.7 408.4 205.0 416.9 205.8 425.0 208.4M515.0 176.8 520.1 175.1 525.3 176.8 530.4 175.6 535.6 176.8 536.4 169.1 538.1 163.1 540.4 160.2 542.4 165.7 543.3 172.6 546.7 176.8 549.3 178.6 554.4 176.8 559.6 174.3 566.4 172.6 573.3 170.8 583.6 173.4 590.4 174.3 597.3 176.8 604.1 180.3 611.0 183.7 617.8 188.0 624.7 192.3 628.1 196.6 629.8 200.8 635.0 202.6 641.8 200.0 648.7 196.6 655.5 192.3 660.7 188.8 665.8 185.9 672.7 185.9 677.8 188.8 684.7 193.1 689.8 199.1 694.9 206.0 700.1 212.8 705.2 219.7 710.4 224.0 715.0 226.5M763.3 190.0 765.8 197.7 769.7 206.7 773.5 215.7 777.4 223.4 781.3 231.1 785.1 238.8 788.3 244.0 789.0 247.8 787.7 250.4 785.8 247.8 783.2 244.0 780.6 241.4 782.5 246.6 785.1 253.0 787.7 259.4 790.9 267.1 794.1 274.8 796.7 282.5 799.3 290.3 801.8 296.7 803.8 302.0M259.7 251.8 252.4 257.3 245.1 263.7 239.6 270.1 234.1 277.4 230.4 284.7 227.7 293.9 226.8 304.8 228.6 314.0 231.4 323.1 234.1 332.3 235.0 341.4 234.1 350.5 231.4 357.9 227.7 365.2 224.0 374.3 221.3 383.5 218.6 394.4 216.7 403.6 215.8 410.0M215.9 400.0 214.9 415.1 213.4 430.2 212.4 445.3 210.9 460.4 211.6 473.0 214.2 483.0 217.9 491.8 223.0 499.4 226.7 505.7 225.5 510.7 228.0 518.2 231.8 528.3 236.8 538.4 243.1 547.2 250.6 556.0 256.9 563.5 260.7 573.6 265.7 583.6 272.0 589.9 275.8 597.5 280.8 602.5 290.9 605.0 300.9 605.8 307.2 608.8 310.0 611.3M260.0 571.0 262.7 579.2 266.9 584.7 271.0 588.8 273.7 594.3 277.8 599.8 281.9 602.5 290.2 603.6 298.4 604.1 303.9 606.6 305.9 610.7 308.0 609.4 312.1 609.6 314.8 613.5 317.6 619.0 320.3 623.1 325.8 624.4 334.0 622.4 345.0 619.0 356.0 614.2 368.3 614.2 376.5 612.8 383.4 608.7 391.6 605.9 402.6 604.1 408.1 603.9 409.4 607.3 414.9 605.2 420.0 601.8M395.0 604.1 401.9 603.3 407.9 604.1 411.3 606.7 417.3 604.1 422.4 601.5 426.7 599.0 431.0 596.4 436.1 593.0 441.3 588.7 446.4 583.5 449.8 577.5 450.7 569.0 455.0 563.8 456.7 557.0 456.4 548.4 457.0 538.1 458.4 529.6 461.8 523.6 467.0 518.4 473.8 515.0 480.7 512.4 491.0 510.4 501.3 508.7 511.5 506.9 518.4 504.7 525.2 502.1 533.8 500.8 540.7 501.3 549.2 503.0 557.8 505.2 564.7 506.4 569.8 503.0 573.2 501.8 576.7 503.9 579.2 509.0 580.9 514.1 581.8 519.3 579.2 525.3 574.9 531.3 569.8 537.3 564.7 544.1 560.4 551.8 557.8 560.4 556.1 567.3 553.5 570.7 549.2 571.5 550.1 575.0 554.4 576.7 557.8 574.1 557.0 578.4 552.7 581.0 551.8 585.3 555.2 586.1 557.0 582.7 555.2 589.5 553.5 596.4 551.0 605.0 548.4 613.5 545.8 622.1 542.4 629.0 539.8 635.0M590.0 706.0 595.1 704.3 600.3 700.8 605.4 698.3 610.6 699.1 615.7 700.8 620.8 703.1 627.7 703.4 632.8 701.7 637.1 699.6 641.4 699.6 646.6 701.7 651.7 703.8 658.6 704.3 663.7 705.1 668.8 709.4 674.0 714.6 679.1 718.0 686.0 720.5 692.8 724.0 696.3 729.1 699.7 733.4 702.3 734.3 699.7 736.8 696.3 737.7 693.7 740.3 694.5 744.5 697.1 742.8 698.0 748.0 698.8 753.1 698.0 758.3 699.7 760.0 698.0 763.4 695.4 766.0 692.8 768.2M139.6 665.8 144.0 670.1 150.4 674.0 160.7 675.3 171.0 677.8 180.0 679.6 183.8 684.3 189.0 688.1 199.3 690.7 207.0 694.6 214.7 700.2 225.0 701.7 235.3 703.5 245.5 708.7 255.8 711.3 266.1 709.5 276.4 704.8 289.2 700.2 299.5 693.3 307.2 690.7 317.5 691.0 327.8 693.3 340.7 698.4 353.5 707.4 366.4 719.0 379.2 731.8 392.1 743.4 404.9 755.0 417.8 764.0 425.5 768.6" fill="none" stroke="#62450a" stroke-width="1.27" stroke-linejoin="round" stroke-linecap="round"/></g>
<text x="140.1" y="788.8" text-anchor="middle" class="t">100°W</text>
<text x="306.9" y="788.8" text-anchor="middle" class="t">95°W</text>
<text x="473.8" y="788.8" text-anchor="middle" class="t">90°W</text>
<text x="640.6" y="788.8" text-anchor="middle" class="t">85°W</text>
<text x="807.5" y="788.8" text-anchor="middle" class="t">80°W</text>
<text x="131.8" y="118.9" text-anchor="end" class="t">32°N</text>
<text x="131.8" y="273.1" text-anchor="end" class="t">28°N</text>
<text x="131.8" y="421.6" text-anchor="end" class="t">24°N</text>
<text x="131.8" y="565.6" text-anchor="end" class="t">20°N</text>
<text x="131.8" y="706.0" text-anchor="end" class="t">16°N</text>
<defs><linearGradient id="cb" x1="0" y1="0" x2="0" y2="1"><stop offset="0.0000" stop-color="#800000"/><stop offset="0.0156" stop-color="#8f0000"/><stop offset="0.0312" stop-color="#9f0000"/><stop offset="0.0469" stop-color="#af0000"/><stop offset="0.0625" stop-color="#bf0000"/><stop offset="0.0781" stop-color="#cf0000"/><stop offset="0.0938" stop-color="#df0000"/><stop offset="0.1094" stop-color="#ef0000"/><stop offset="0.1250" stop-color="#ff0000"/><stop offset="0.1406" stop-color="#ff1000"/><stop offset="0.1562" stop-color="#ff2000"/><stop offset="0.1719" stop-color="#ff3000"/><stop offset="0.1875" stop-color="#ff4000"/><stop offset="0.2031" stop-color="#ff5000"/><stop offset="0.2188" stop-color="#ff6000"/><stop offset="0.2344" stop-color="#ff7000"/><stop offset="0.2500" stop-color="#ff8000"/><stop offset="0.2656" stop-color="#ff8f00"/><stop offset="0.2812" stop-color="#ff9f00"/><stop offset="0.2969" stop-color="#ffaf00"/><stop offset="0.3125" stop-color="#ffbf00"/><stop offset="0.3281" stop-color="#ffcf00"/><stop offset="0.3438" stop-color="#ffdf00"/><stop offset="0.3594" stop-color="#ffef00"/><stop offset="0.3750" stop-color="#ffff00"/><stop offset="0.3906" stop-color="#efff10"/><stop offset="0.4062" stop-color="#dfff20"/><stop offset="0.4219" stop-color="#cfff30"/><stop offset="0.4375" stop-color="#bfff40"/><stop offset="0.4531" stop-color="#afff50"/><stop offset="0.4688" stop-color="#9fff60"/><stop offset="0.4844" stop-color="#8fff70"/><stop offset="0.5000" stop-color="#80ff80"/><stop offset="0.5156" stop-color="#70ff8f"/><stop offset="0.5312" stop-color="#60ff9f"/><stop offset="0.5469" stop-color="#50ffaf"/><stop offset="0.5625" stop-color="#40ffbf"/><stop offset="0.5781" stop-color="#30ffcf"/><stop offset="0.5938" stop-color="#20ffdf"/><stop offset="0.6094" stop-color="#10ffef"/><stop offset="0.6250" stop-color="#00ffff"/><stop offset="0.6406" stop-color="#00efff"/><stop offset="0.6562" stop-color="#00dfff"/><stop offset="0.6719" stop-color="#00cfff"/><stop offset="0.6875" stop-color="#00bfff"/><stop offset="0.7031" stop-color="#00afff"/><stop offset="0.7188" stop-color="#009fff"/><stop offset="0.7344" stop-color="#008fff"/><stop offset="0.7500" stop-color="#0080ff"/><stop offset="0.7656" stop-color="#0070ff"/><stop offset="0.7812" stop-color="#0060ff"/><stop offset="0.7969" stop-color="#0050ff"/><stop offset="0.8125" stop-color="#0040ff"/><stop offset="0.8281" stop-color="#0030ff"/><stop offset="0.8438" stop-color="#0020ff"/><stop offset="0.8594" stop-color="#0010ff"/><stop offset="0.8750" stop-color="#0000ff"/><stop offset="0.8906" stop-color="#0000ef"/><stop offset="0.9062" stop-color="#0000df"/><stop offset="0.9219" stop-color="#0000cf"/><stop offset="0.9375" stop-color="#0000bf"/><stop offset="0.9531" stop-color="#0000af"/><stop offset="0.9688" stop-color="#00009f"/><stop offset="0.9844" stop-color="#00008f"/><stop offset="1.0000" stop-color="#000080"/></linearGradient></defs>
<rect x="989.3" y="75.4" width="34.5" height="693.0" fill="url(#cb)" stroke="#262626" stroke-width="1"/>
<text x="1032.6" y="84.5" class="c">475</text>
<path d="M1016.3 144.7H1023.8" stroke="#262626" stroke-width="1"/>
<text x="1032.6" y="153.8" class="c">470</text>
<path d="M1016.3 214.0H1023.8" stroke="#262626" stroke-width="1"/>
<text x="1032.6" y="223.1" class="c">465</text>
<path d="M1016.3 283.3H1023.8" stroke="#262626" stroke-width="1"/>
<text x="1032.6" y="292.4" class="c">460</text>
<path d="M1016.3 352.6H1023.8" stroke="#262626" stroke-width="1"/>
<text x="1032.6" y="361.7" class="c">455</text>
<path d="M1016.3 421.9H1023.8" stroke="#262626" stroke-width="1"/>
<text x="1032.6" y="431.0" class="c">450</text>
<path d="M1016.3 491.2H1023.8" stroke="#262626" stroke-width="1"/>
<text x="1032.6" y="500.3" class="c">445</text>
<path d="M1016.3 560.5H1023.8" stroke="#262626" stroke-width="1"/>
<text x="1032.6" y="569.6" class="c">440</text>
<path d="M1016.3 629.8H1023.8" stroke="#262626" stroke-width="1"/>
<text x="1032.6" y="638.9" class="c">435</text>
<path d="M1016.3 699.1H1023.8" stroke="#262626" stroke-width="1"/>
<text x="1032.6" y="708.2" class="c">430</text>
<text x="1032.6" y="777.5" class="c">425</text>
</svg>
</body></html>
